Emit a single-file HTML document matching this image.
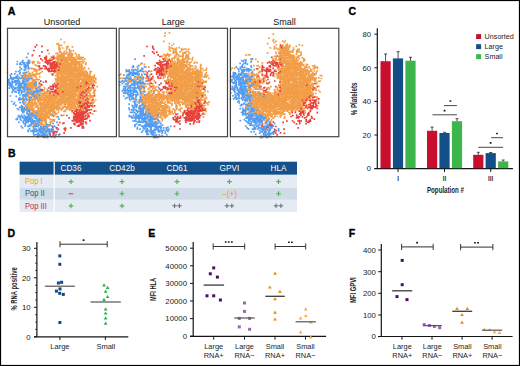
<!DOCTYPE html><html><head><meta charset="utf-8"><style>html,body{margin:0;padding:0;background:#fff;}svg{display:block;}text{font-family:"Liberation Sans",sans-serif;}</style></head><body>
<svg width="520" height="366" viewBox="0 0 520 366">
<rect x="0" y="0" width="520" height="366" fill="#fff"/>
<text x="7.8" y="15.0" font-size="10.6" font-weight="bold" fill="#000" stroke="#000" stroke-width="0.35">A</text>
<text x="62.0" y="24.8" font-size="9" text-anchor="middle" fill="#111">Unsorted</text>
<text x="173.3" y="24.8" font-size="9" text-anchor="middle" fill="#111">Large</text>
<text x="284.6" y="24.8" font-size="9" text-anchor="middle" fill="#111">Small</text>
<path d="M60.2 39.5h1.7M63.5 42.4h1.7M56.1 43.9h1.7M57.5 43.7h1.7M58.0 45.4h1.7M59.3 45.5h1.7M60.7 45.3h1.7M58.0 46.9h1.7M66.1 46.9h1.7M67.3 46.7h1.7M71.6 46.8h1.7M58.8 48.0h1.7M61.8 48.0h1.7M66.1 47.7h1.7M58.0 49.3h1.7M59.3 49.0h1.7M65.9 49.0h1.7M68.4 49.4h1.7M58.9 50.8h1.7M64.9 51.0h1.7M69.0 50.6h1.7M70.1 50.9h1.7M72.5 50.9h1.7M58.9 52.1h1.7M60.1 52.4h1.7M63.3 52.1h1.7M65.9 52.4h1.7M68.5 52.0h1.7M48.2 53.5h1.7M55.2 53.7h1.7M56.6 53.2h1.7M60.6 53.3h1.7M61.8 53.6h1.7M63.3 53.1h1.7M64.9 53.8h1.7M66.1 53.4h1.7M68.4 53.1h1.7M70.1 53.2h1.7M71.7 53.8h1.7M74.5 53.4h1.7M57.4 54.7h1.7M59.0 54.9h1.7M60.8 54.9h1.7M61.9 54.8h1.7M63.3 55.0h1.7M67.5 54.6h1.7M68.5 54.7h1.7M70.4 54.8h1.7M71.5 55.2h1.7M75.8 54.5h1.7M78.1 54.8h1.7M31.3 55.9h1.7M52.2 56.0h1.7M53.3 56.1h1.7M56.4 56.1h1.7M58.1 56.5h1.7M58.8 56.5h1.7M60.4 56.0h1.7M61.9 56.3h1.7M63.0 56.5h1.7M67.2 56.1h1.7M68.7 55.9h1.7M70.1 56.3h1.7M71.3 56.1h1.7M75.8 56.3h1.7M78.2 56.4h1.7M53.5 57.5h1.7M55.0 57.8h1.7M56.4 57.3h1.7M57.6 57.2h1.7M59.1 57.9h1.7M60.2 57.6h1.7M61.5 57.7h1.7M63.3 57.3h1.7M64.4 57.4h1.7M66.1 57.5h1.7M67.5 57.6h1.7M68.9 57.9h1.7M70.2 57.8h1.7M71.7 57.9h1.7M73.0 57.8h1.7M74.0 57.7h1.7M76.8 57.5h1.7M78.0 57.4h1.7M79.9 57.3h1.7M81.1 57.8h1.7M82.2 57.4h1.7M49.3 58.8h1.7M53.8 58.6h1.7M56.0 58.8h1.7M57.7 58.9h1.7M59.3 58.8h1.7M60.8 58.7h1.7M61.9 59.0h1.7M63.1 58.8h1.7M64.6 59.1h1.7M65.7 58.9h1.7M67.6 59.0h1.7M68.9 58.8h1.7M69.7 59.3h1.7M71.5 58.8h1.7M72.7 58.8h1.7M74.0 58.7h1.7M75.9 59.0h1.7M77.2 58.7h1.7M78.5 59.1h1.7M79.9 59.0h1.7M80.8 58.7h1.7M83.8 58.9h1.7M28.8 60.5h1.7M56.6 60.2h1.7M57.8 60.5h1.7M58.8 60.0h1.7M62.0 60.2h1.7M62.9 60.1h1.7M64.5 60.4h1.7M65.8 60.4h1.7M67.0 60.4h1.7M68.8 60.3h1.7M70.2 60.5h1.7M71.8 60.5h1.7M72.8 60.4h1.7M74.2 60.3h1.7M75.3 60.5h1.7M82.2 60.0h1.7M31.4 61.6h1.7M33.2 61.6h1.7M37.4 61.6h1.7M54.8 61.8h1.7M56.2 61.8h1.7M57.8 62.0h1.7M58.9 62.0h1.7M60.6 61.4h1.7M63.2 61.4h1.7M64.4 61.9h1.7M66.1 61.5h1.7M67.1 62.0h1.7M70.3 61.6h1.7M71.2 61.7h1.7M72.9 61.9h1.7M74.5 61.8h1.7M75.4 61.9h1.7M76.8 61.6h1.7M78.5 61.5h1.7M79.8 61.7h1.7M81.2 61.7h1.7M83.5 61.7h1.7M31.8 63.4h1.7M33.1 62.7h1.7M36.9 63.0h1.7M38.8 63.2h1.7M54.9 63.4h1.7M57.6 62.9h1.7M58.9 63.0h1.7M60.3 63.0h1.7M61.7 63.2h1.7M62.9 62.9h1.7M64.9 62.9h1.7M65.7 63.0h1.7M67.1 63.1h1.7M68.7 63.1h1.7M69.9 63.2h1.7M71.3 62.9h1.7M72.8 63.3h1.7M74.1 62.9h1.7M75.7 63.1h1.7M76.8 63.2h1.7M78.5 63.2h1.7M82.2 63.0h1.7M85.1 63.1h1.7M34.4 64.8h1.7M57.9 64.6h1.7M60.5 64.3h1.7M61.9 64.3h1.7M63.0 64.4h1.7M64.3 64.2h1.7M65.9 64.6h1.7M67.6 64.7h1.7M68.7 64.6h1.7M69.9 64.6h1.7M71.6 64.7h1.7M72.8 64.6h1.7M74.4 64.2h1.7M75.4 64.2h1.7M77.3 64.8h1.7M78.3 64.5h1.7M80.1 64.1h1.7M80.8 64.3h1.7M84.9 64.5h1.7M36.0 65.7h1.7M37.1 66.2h1.7M57.5 66.1h1.7M58.9 65.7h1.7M60.7 65.7h1.7M61.7 66.1h1.7M63.1 66.0h1.7M64.6 65.9h1.7M65.7 65.7h1.7M67.3 65.7h1.7M69.0 65.6h1.7M70.3 65.5h1.7M72.6 65.7h1.7M74.1 65.9h1.7M75.4 65.7h1.7M78.3 65.9h1.7M80.0 66.1h1.7M81.1 65.5h1.7M56.7 67.0h1.7M58.7 67.1h1.7M60.3 67.3h1.7M61.6 67.3h1.7M62.9 67.5h1.7M64.4 67.5h1.7M65.9 67.1h1.7M67.4 67.1h1.7M68.7 67.2h1.7M70.2 67.0h1.7M71.7 67.0h1.7M72.8 67.5h1.7M74.3 67.2h1.7M75.4 67.1h1.7M77.1 67.3h1.7M78.1 67.5h1.7M79.6 67.4h1.7M81.1 66.9h1.7M83.7 67.3h1.7M30.4 68.3h1.7M31.7 68.7h1.7M33.1 68.8h1.7M34.0 68.8h1.7M38.5 68.6h1.7M54.9 68.3h1.7M56.6 68.4h1.7M58.0 68.9h1.7M59.4 68.5h1.7M60.3 68.5h1.7M61.7 68.5h1.7M63.4 68.3h1.7M64.5 68.4h1.7M65.8 68.6h1.7M67.3 68.2h1.7M68.4 68.6h1.7M70.2 68.5h1.7M71.5 68.4h1.7M73.0 68.2h1.7M74.1 68.8h1.7M75.5 68.4h1.7M77.3 68.8h1.7M78.6 68.8h1.7M79.9 68.2h1.7M81.4 68.7h1.7M82.6 68.6h1.7M83.8 68.7h1.7M87.9 68.7h1.7M34.1 70.1h1.7M35.5 69.8h1.7M37.2 70.0h1.7M38.7 69.8h1.7M55.2 69.6h1.7M56.4 69.8h1.7M58.9 69.7h1.7M60.2 70.1h1.7M62.1 70.1h1.7M63.4 69.8h1.7M64.4 69.8h1.7M65.8 69.8h1.7M67.3 69.8h1.7M68.7 70.2h1.7M70.3 70.0h1.7M71.5 70.0h1.7M72.7 69.6h1.7M74.4 69.8h1.7M75.7 70.2h1.7M76.9 69.8h1.7M78.6 70.0h1.7M79.4 70.0h1.7M81.0 70.2h1.7M82.2 69.6h1.7M27.5 71.4h1.7M33.3 71.0h1.7M34.7 71.0h1.7M35.8 71.3h1.7M41.4 71.6h1.7M56.5 71.4h1.7M57.4 71.5h1.7M59.0 71.7h1.7M60.8 71.7h1.7M62.0 71.5h1.7M63.1 71.2h1.7M64.6 71.5h1.7M65.9 71.0h1.7M67.1 71.6h1.7M68.6 71.6h1.7M70.4 71.1h1.7M71.7 71.5h1.7M72.7 71.0h1.7M73.9 71.1h1.7M75.5 71.1h1.7M77.0 71.4h1.7M78.7 71.0h1.7M79.6 71.5h1.7M80.8 71.2h1.7M82.7 71.6h1.7M84.1 71.3h1.7M85.5 71.0h1.7M89.1 71.5h1.7M90.5 71.5h1.7M6.5 72.5h1.7M23.7 72.5h1.7M28.8 73.0h1.7M31.6 72.5h1.7M35.7 72.7h1.7M39.5 72.9h1.7M53.4 72.9h1.7M54.8 72.5h1.7M56.7 73.0h1.7M57.9 72.9h1.7M59.3 72.5h1.7M60.1 72.7h1.7M61.9 73.0h1.7M62.9 72.8h1.7M64.8 72.6h1.7M66.1 73.0h1.7M67.5 72.4h1.7M68.9 72.9h1.7M70.2 72.7h1.7M71.1 72.5h1.7M72.9 72.9h1.7M74.1 72.5h1.7M75.7 73.0h1.7M77.3 72.5h1.7M78.7 72.9h1.7M79.7 72.7h1.7M81.1 72.7h1.7M82.3 72.7h1.7M83.5 72.4h1.7M85.5 72.8h1.7M86.4 72.7h1.7M89.5 72.9h1.7M23.2 74.2h1.7M24.7 74.1h1.7M27.6 74.1h1.7M28.6 73.8h1.7M29.9 74.0h1.7M31.9 74.3h1.7M32.8 74.4h1.7M34.1 74.3h1.7M35.6 74.3h1.7M37.2 74.0h1.7M38.4 73.9h1.7M52.4 73.9h1.7M56.3 74.2h1.7M57.7 74.4h1.7M58.7 74.0h1.7M60.5 73.9h1.7M61.6 74.4h1.7M63.4 74.3h1.7M64.7 74.2h1.7M65.8 74.2h1.7M67.7 73.8h1.7M68.9 74.4h1.7M70.1 74.1h1.7M71.7 74.2h1.7M72.8 73.8h1.7M74.2 74.4h1.7M75.5 74.2h1.7M77.1 74.2h1.7M78.2 74.0h1.7M79.6 74.2h1.7M81.3 74.4h1.7M82.2 73.8h1.7M83.7 74.1h1.7M85.4 74.3h1.7M86.7 73.9h1.7M89.2 74.0h1.7M20.4 75.6h1.7M23.1 75.1h1.7M25.8 75.6h1.7M27.6 75.6h1.7M28.7 75.5h1.7M30.0 75.3h1.7M31.5 75.5h1.7M33.2 75.4h1.7M34.6 75.6h1.7M52.1 75.1h1.7M54.7 75.7h1.7M56.5 75.6h1.7M57.7 75.7h1.7M60.2 75.3h1.7M61.8 75.3h1.7M63.6 75.1h1.7M65.9 75.5h1.7M67.6 75.4h1.7M68.8 75.2h1.7M70.2 75.2h1.7M71.3 75.5h1.7M72.6 75.5h1.7M74.4 75.3h1.7M75.3 75.5h1.7M77.1 75.6h1.7M78.5 75.2h1.7M79.5 75.4h1.7M80.9 75.7h1.7M82.5 75.7h1.7M83.8 75.7h1.7M85.0 75.4h1.7M86.4 75.7h1.7M87.7 75.3h1.7M89.5 75.8h1.7M93.5 75.1h1.7M23.6 76.7h1.7M25.0 76.9h1.7M27.3 76.6h1.7M28.9 76.6h1.7M30.1 76.6h1.7M32.9 76.5h1.7M35.4 77.1h1.7M38.8 76.6h1.7M56.6 77.0h1.7M57.9 77.1h1.7M59.4 77.1h1.7M60.8 77.0h1.7M61.6 76.7h1.7M63.4 76.5h1.7M64.5 76.9h1.7M66.2 77.2h1.7M67.5 76.6h1.7M68.8 76.7h1.7M69.7 76.7h1.7M71.6 76.5h1.7M72.8 77.0h1.7M74.2 76.7h1.7M75.8 76.8h1.7M77.2 77.1h1.7M78.1 76.5h1.7M79.9 76.9h1.7M80.8 76.5h1.7M82.7 76.9h1.7M83.7 76.5h1.7M85.0 76.5h1.7M86.6 76.6h1.7M87.9 76.5h1.7M89.6 76.9h1.7M90.8 77.1h1.7M92.2 76.8h1.7M93.3 76.9h1.7M18.1 78.2h1.7M22.3 78.1h1.7M25.0 78.4h1.7M26.2 78.2h1.7M31.3 78.2h1.7M35.6 78.0h1.7M54.7 78.5h1.7M56.5 78.3h1.7M57.8 78.5h1.7M59.2 78.1h1.7M60.6 78.1h1.7M62.0 78.3h1.7M63.3 78.0h1.7M64.8 78.5h1.7M65.7 77.9h1.7M67.0 78.0h1.7M69.0 78.1h1.7M69.9 78.1h1.7M71.1 78.3h1.7M72.6 77.9h1.7M74.3 77.8h1.7M75.5 77.9h1.7M77.3 78.1h1.7M78.4 77.9h1.7M79.8 77.9h1.7M80.8 78.5h1.7M82.8 78.4h1.7M84.0 78.3h1.7M85.2 78.2h1.7M86.6 78.4h1.7M87.7 77.9h1.7M89.2 78.1h1.7M90.6 78.4h1.7M92.3 77.8h1.7M93.7 77.9h1.7M94.9 78.3h1.7M21.9 79.4h1.7M24.6 79.5h1.7M27.4 79.5h1.7M28.8 79.9h1.7M31.5 79.4h1.7M33.2 79.5h1.7M34.0 79.7h1.7M35.9 79.3h1.7M37.3 79.7h1.7M38.4 79.5h1.7M54.9 79.8h1.7M56.6 79.8h1.7M57.6 79.4h1.7M59.2 79.8h1.7M60.6 79.5h1.7M61.5 79.5h1.7M63.3 79.4h1.7M64.5 79.6h1.7M65.6 79.4h1.7M67.0 79.5h1.7M68.6 79.5h1.7M69.8 79.8h1.7M71.4 79.7h1.7M73.1 79.8h1.7M74.2 79.6h1.7M75.8 79.8h1.7M77.0 79.6h1.7M78.3 79.5h1.7M79.8 79.3h1.7M81.3 79.4h1.7M82.3 79.7h1.7M83.7 79.3h1.7M84.9 79.9h1.7M86.6 79.4h1.7M88.3 79.3h1.7M89.5 79.3h1.7M90.7 79.5h1.7M92.4 79.8h1.7M94.8 79.7h1.7M31.6 81.1h1.7M32.6 80.9h1.7M34.1 80.9h1.7M56.4 81.0h1.7M57.6 80.6h1.7M59.4 81.0h1.7M60.8 80.9h1.7M61.5 80.8h1.7M63.1 80.8h1.7M64.5 80.9h1.7M65.9 81.1h1.7M67.1 81.0h1.7M68.6 81.2h1.7M70.1 80.8h1.7M71.4 80.8h1.7M73.0 81.0h1.7M73.9 80.7h1.7M75.9 81.1h1.7M77.0 81.0h1.7M78.3 80.8h1.7M81.2 80.8h1.7M82.5 80.8h1.7M84.2 81.2h1.7M85.4 80.7h1.7M86.3 81.3h1.7M88.0 80.6h1.7M89.6 81.2h1.7M90.4 81.1h1.7M92.4 81.1h1.7M93.6 80.8h1.7M28.7 82.6h1.7M29.9 82.6h1.7M31.5 82.1h1.7M33.1 82.0h1.7M34.3 82.5h1.7M38.5 82.5h1.7M55.3 82.1h1.7M56.0 82.5h1.7M57.4 82.4h1.7M59.2 82.4h1.7M60.2 82.2h1.7M61.5 82.6h1.7M63.2 82.6h1.7M64.8 82.1h1.7M66.1 82.3h1.7M69.0 82.6h1.7M70.4 82.2h1.7M71.6 82.6h1.7M72.9 82.0h1.7M74.2 82.5h1.7M75.6 82.3h1.7M77.0 82.2h1.7M78.0 82.0h1.7M79.5 82.5h1.7M81.1 82.1h1.7M82.5 82.4h1.7M83.6 82.3h1.7M86.5 82.6h1.7M87.6 82.0h1.7M89.1 82.0h1.7M90.8 82.6h1.7M93.3 82.5h1.7M95.0 82.6h1.7M27.2 83.4h1.7M28.9 83.8h1.7M30.3 83.5h1.7M31.4 83.9h1.7M34.2 83.6h1.7M39.9 83.8h1.7M56.3 83.6h1.7M59.4 83.4h1.7M60.8 84.0h1.7M61.8 83.5h1.7M63.5 83.4h1.7M64.6 83.9h1.7M66.3 83.8h1.7M67.6 83.4h1.7M68.6 83.4h1.7M70.0 83.8h1.7M71.4 83.9h1.7M73.2 83.7h1.7M74.4 83.6h1.7M75.8 83.5h1.7M76.9 83.7h1.7M78.4 84.0h1.7M80.1 83.3h1.7M80.9 83.4h1.7M82.7 83.4h1.7M83.5 83.6h1.7M87.7 84.0h1.7M89.3 83.9h1.7M90.4 83.5h1.7M92.2 83.5h1.7M26.0 85.0h1.7M27.4 85.1h1.7M28.7 85.0h1.7M30.2 85.2h1.7M31.6 84.8h1.7M32.8 85.4h1.7M35.5 84.7h1.7M40.0 85.2h1.7M59.2 85.1h1.7M60.6 84.9h1.7M61.9 85.0h1.7M63.4 85.3h1.7M64.6 85.0h1.7M66.1 85.3h1.7M67.3 85.0h1.7M68.9 85.0h1.7M70.0 84.7h1.7M71.8 84.8h1.7M73.0 84.9h1.7M73.9 84.9h1.7M75.8 85.3h1.7M76.7 85.0h1.7M78.2 85.2h1.7M79.4 85.1h1.7M81.0 85.4h1.7M82.7 84.8h1.7M83.9 85.4h1.7M85.5 85.0h1.7M86.7 85.3h1.7M87.9 85.0h1.7M89.1 84.9h1.7M90.7 85.2h1.7M22.1 86.3h1.7M25.0 86.3h1.7M26.2 86.7h1.7M27.6 86.4h1.7M28.6 86.1h1.7M30.0 86.3h1.7M31.6 86.6h1.7M33.1 86.1h1.7M34.2 86.6h1.7M35.6 86.1h1.7M39.5 86.7h1.7M57.4 86.4h1.7M59.2 86.3h1.7M60.5 86.4h1.7M61.7 86.6h1.7M63.6 86.5h1.7M64.9 86.4h1.7M65.6 86.4h1.7M67.5 86.7h1.7M68.4 86.5h1.7M70.1 86.4h1.7M71.3 86.6h1.7M72.9 86.7h1.7M74.5 86.2h1.7M75.4 86.3h1.7M76.6 86.5h1.7M78.7 86.4h1.7M81.0 86.1h1.7M82.5 86.2h1.7M84.0 86.5h1.7M85.1 86.6h1.7M86.5 86.7h1.7M87.7 86.7h1.7M96.4 86.6h1.7M24.6 87.8h1.7M27.1 87.9h1.7M28.5 87.9h1.7M30.0 87.6h1.7M31.6 87.9h1.7M32.8 88.0h1.7M34.5 88.0h1.7M37.2 87.6h1.7M38.6 87.7h1.7M43.6 87.5h1.7M57.9 87.8h1.7M59.1 87.6h1.7M60.4 87.7h1.7M62.0 87.5h1.7M63.0 87.9h1.7M64.5 87.6h1.7M66.0 88.0h1.7M67.2 88.1h1.7M68.7 87.5h1.7M69.8 87.8h1.7M71.5 87.7h1.7M73.1 87.8h1.7M74.3 87.5h1.7M75.5 87.5h1.7M78.1 87.6h1.7M79.4 87.9h1.7M81.3 87.6h1.7M82.5 87.9h1.7M83.7 87.5h1.7M84.9 88.1h1.7M89.2 87.5h1.7M90.7 87.8h1.7M22.0 89.1h1.7M24.8 89.2h1.7M30.4 89.5h1.7M31.4 89.4h1.7M34.6 89.3h1.7M43.7 89.0h1.7M46.4 89.3h1.7M55.1 89.5h1.7M56.3 89.4h1.7M57.4 89.0h1.7M58.8 88.9h1.7M60.3 89.0h1.7M62.2 89.3h1.7M63.3 89.1h1.7M64.7 89.5h1.7M65.9 88.9h1.7M67.5 89.1h1.7M68.5 89.0h1.7M70.3 89.3h1.7M71.2 89.2h1.7M72.8 89.2h1.7M74.1 89.1h1.7M75.5 89.0h1.7M77.2 89.1h1.7M78.4 89.0h1.7M79.4 89.2h1.7M81.0 89.0h1.7M82.3 89.0h1.7M84.0 89.5h1.7M85.1 89.2h1.7M87.9 88.8h1.7M89.6 89.0h1.7M91.0 88.9h1.7M93.8 89.3h1.7M24.4 90.5h1.7M27.7 90.4h1.7M28.9 90.3h1.7M30.4 90.5h1.7M34.6 90.8h1.7M42.8 90.3h1.7M47.9 90.6h1.7M56.2 90.3h1.7M58.0 90.7h1.7M58.8 90.7h1.7M60.5 90.5h1.7M61.6 90.8h1.7M63.2 90.4h1.7M64.6 90.7h1.7M65.9 90.6h1.7M67.4 90.6h1.7M68.7 90.8h1.7M70.2 90.4h1.7M71.5 90.8h1.7M73.1 90.8h1.7M74.5 90.9h1.7M75.5 90.3h1.7M77.1 90.7h1.7M78.0 90.4h1.7M80.0 90.5h1.7M81.0 90.8h1.7M82.5 90.7h1.7M84.2 90.5h1.7M86.5 90.4h1.7M88.1 90.3h1.7M89.7 90.8h1.7M93.1 90.6h1.7M94.6 90.5h1.7M26.2 92.2h1.7M28.7 91.7h1.7M31.5 92.1h1.7M38.2 92.0h1.7M40.1 91.7h1.7M44.0 92.2h1.7M45.2 92.2h1.7M46.4 92.2h1.7M48.4 91.8h1.7M49.2 92.2h1.7M56.3 91.9h1.7M57.8 91.9h1.7M59.2 91.7h1.7M60.8 91.9h1.7M63.5 91.9h1.7M64.7 91.7h1.7M66.1 92.1h1.7M67.2 92.3h1.7M69.0 92.1h1.7M69.8 91.8h1.7M71.4 91.9h1.7M72.6 91.7h1.7M74.1 91.9h1.7M75.7 91.6h1.7M77.0 91.9h1.7M78.5 92.0h1.7M79.9 91.7h1.7M80.9 92.2h1.7M83.9 92.0h1.7M85.1 92.1h1.7M86.9 91.7h1.7M88.2 92.2h1.7M93.4 92.2h1.7M24.9 93.4h1.7M27.3 93.2h1.7M30.2 93.4h1.7M34.1 93.4h1.7M35.7 93.4h1.7M37.2 93.5h1.7M38.2 93.0h1.7M39.7 93.6h1.7M41.2 93.6h1.7M42.7 93.2h1.7M44.3 93.3h1.7M45.6 93.0h1.7M46.7 93.2h1.7M52.0 93.2h1.7M53.5 93.3h1.7M55.0 93.4h1.7M57.6 93.3h1.7M59.3 93.2h1.7M60.2 93.3h1.7M62.0 93.6h1.7M63.2 93.4h1.7M64.6 93.6h1.7M66.1 93.5h1.7M67.5 93.3h1.7M68.4 93.6h1.7M69.9 93.5h1.7M71.3 93.3h1.7M72.8 93.5h1.7M74.0 93.1h1.7M75.6 93.5h1.7M78.4 93.0h1.7M79.8 93.4h1.7M82.6 93.5h1.7M85.4 93.2h1.7M86.7 93.4h1.7M88.3 93.0h1.7M89.2 93.5h1.7M92.4 93.0h1.7M93.7 93.3h1.7M27.3 94.6h1.7M28.7 94.4h1.7M30.5 94.6h1.7M34.2 94.8h1.7M35.6 94.7h1.7M36.9 94.7h1.7M41.5 94.7h1.7M42.7 94.7h1.7M43.9 94.3h1.7M45.5 95.0h1.7M46.6 95.0h1.7M48.3 94.4h1.7M49.6 94.4h1.7M51.1 94.7h1.7M51.9 95.0h1.7M55.1 94.7h1.7M56.5 94.4h1.7M59.3 94.6h1.7M60.2 94.7h1.7M62.1 94.6h1.7M63.5 95.0h1.7M64.7 94.7h1.7M65.7 94.9h1.7M67.5 94.6h1.7M68.8 94.6h1.7M70.0 94.4h1.7M71.1 94.6h1.7M72.5 95.0h1.7M74.1 94.5h1.7M75.2 94.4h1.7M77.3 94.5h1.7M78.3 94.5h1.7M81.3 94.7h1.7M82.6 94.6h1.7M86.3 94.8h1.7M89.5 94.7h1.7M93.6 94.5h1.7M22.2 95.7h1.7M24.7 96.1h1.7M27.2 95.8h1.7M31.5 96.3h1.7M35.8 95.9h1.7M37.2 96.0h1.7M38.3 96.3h1.7M39.6 95.9h1.7M41.0 96.2h1.7M42.3 95.9h1.7M44.3 96.2h1.7M45.2 95.8h1.7M46.9 96.1h1.7M48.4 96.2h1.7M49.8 96.0h1.7M51.2 95.9h1.7M52.2 96.3h1.7M53.7 96.1h1.7M55.2 96.4h1.7M56.0 95.9h1.7M57.6 96.0h1.7M58.8 96.4h1.7M60.4 96.0h1.7M62.0 96.4h1.7M63.4 96.1h1.7M64.5 95.8h1.7M66.1 95.7h1.7M67.4 95.8h1.7M68.8 96.2h1.7M69.8 95.7h1.7M71.2 95.9h1.7M72.7 96.0h1.7M74.2 95.7h1.7M75.6 95.9h1.7M77.0 96.2h1.7M78.7 96.4h1.7M79.9 95.8h1.7M82.3 96.4h1.7M85.3 96.2h1.7M86.4 95.9h1.7M87.9 95.8h1.7M89.2 96.4h1.7M90.4 95.9h1.7M91.8 95.8h1.7M27.6 97.1h1.7M33.2 97.1h1.7M34.1 97.4h1.7M37.1 97.4h1.7M38.4 97.2h1.7M39.8 97.8h1.7M41.0 97.3h1.7M42.9 97.8h1.7M43.8 97.6h1.7M45.4 97.5h1.7M46.5 97.5h1.7M47.9 97.2h1.7M49.3 97.4h1.7M50.6 97.4h1.7M52.3 97.5h1.7M53.7 97.1h1.7M54.8 97.1h1.7M56.2 97.2h1.7M58.9 97.7h1.7M60.2 97.4h1.7M62.0 97.2h1.7M63.5 97.2h1.7M64.3 97.5h1.7M65.8 97.8h1.7M67.2 97.3h1.7M68.8 97.3h1.7M70.3 97.3h1.7M71.8 97.5h1.7M73.0 97.1h1.7M74.2 97.2h1.7M77.1 97.8h1.7M78.0 97.2h1.7M81.4 97.3h1.7M82.5 97.5h1.7M83.6 97.7h1.7M85.3 97.8h1.7M86.5 97.1h1.7M89.4 97.8h1.7M90.4 97.2h1.7M91.9 97.7h1.7M21.7 98.9h1.7M24.8 99.1h1.7M27.7 99.1h1.7M30.5 98.6h1.7M31.5 99.0h1.7M33.1 99.2h1.7M34.4 99.0h1.7M35.5 98.9h1.7M36.8 99.0h1.7M38.7 98.7h1.7M39.6 99.1h1.7M40.9 98.9h1.7M42.8 99.0h1.7M43.9 98.8h1.7M45.1 98.7h1.7M46.6 98.5h1.7M48.0 98.8h1.7M49.1 99.0h1.7M50.8 98.8h1.7M52.4 98.5h1.7M53.6 98.8h1.7M54.7 98.5h1.7M56.4 98.6h1.7M57.6 99.0h1.7M58.8 98.6h1.7M60.6 98.8h1.7M61.8 98.7h1.7M63.1 98.5h1.7M64.9 99.1h1.7M65.8 99.1h1.7M67.0 99.0h1.7M68.5 99.0h1.7M70.0 99.0h1.7M71.8 98.7h1.7M73.1 99.1h1.7M74.1 98.9h1.7M75.6 98.9h1.7M77.1 99.0h1.7M78.6 99.1h1.7M79.5 98.6h1.7M81.4 98.7h1.7M85.5 98.7h1.7M88.3 98.9h1.7M92.1 99.1h1.7M22.2 100.2h1.7M27.2 100.0h1.7M29.9 100.2h1.7M31.9 100.0h1.7M33.1 100.1h1.7M34.6 99.9h1.7M37.0 100.3h1.7M38.6 100.1h1.7M39.9 100.3h1.7M41.6 100.1h1.7M42.5 100.0h1.7M44.3 100.2h1.7M45.4 100.1h1.7M47.0 100.4h1.7M48.2 100.5h1.7M49.3 99.8h1.7M51.0 100.3h1.7M52.2 100.4h1.7M53.7 99.9h1.7M54.7 100.4h1.7M56.7 100.3h1.7M57.7 100.3h1.7M59.1 100.1h1.7M60.7 100.4h1.7M61.5 99.9h1.7M62.9 100.2h1.7M64.8 100.1h1.7M65.7 100.2h1.7M67.2 100.3h1.7M68.5 100.5h1.7M70.4 100.3h1.7M71.7 99.8h1.7M72.6 100.2h1.7M74.1 99.9h1.7M75.4 100.3h1.7M76.9 99.9h1.7M78.0 100.5h1.7M79.9 100.0h1.7M81.3 100.5h1.7M82.8 100.2h1.7M84.2 99.9h1.7M86.5 99.9h1.7M87.8 99.9h1.7M90.4 100.2h1.7M94.8 100.0h1.7M24.9 101.6h1.7M27.7 101.9h1.7M28.8 101.7h1.7M30.4 101.6h1.7M31.4 101.4h1.7M34.1 101.8h1.7M37.2 101.7h1.7M38.5 101.2h1.7M39.6 101.5h1.7M42.8 101.3h1.7M43.8 101.9h1.7M45.6 101.3h1.7M46.5 101.5h1.7M48.0 101.5h1.7M49.6 101.5h1.7M50.9 101.7h1.7M52.3 101.6h1.7M53.2 101.6h1.7M55.3 101.7h1.7M56.3 101.9h1.7M57.4 101.2h1.7M59.2 101.4h1.7M60.3 101.7h1.7M61.9 101.9h1.7M63.4 101.2h1.7M64.6 101.8h1.7M65.7 101.7h1.7M67.5 101.9h1.7M68.6 101.7h1.7M70.2 101.5h1.7M71.6 101.9h1.7M72.6 101.6h1.7M74.5 101.4h1.7M75.9 101.4h1.7M76.9 101.7h1.7M81.3 101.3h1.7M82.2 101.6h1.7M83.9 101.5h1.7M85.5 101.7h1.7M87.8 101.3h1.7M91.0 101.4h1.7M93.4 101.7h1.7M23.2 102.8h1.7M24.6 102.6h1.7M27.2 103.2h1.7M28.7 103.2h1.7M30.3 102.6h1.7M31.4 103.2h1.7M32.8 103.0h1.7M34.2 102.6h1.7M35.7 102.9h1.7M38.4 103.1h1.7M39.9 102.8h1.7M41.4 102.8h1.7M42.6 103.1h1.7M43.8 102.9h1.7M45.6 102.6h1.7M46.8 103.1h1.7M48.2 102.7h1.7M49.1 102.9h1.7M51.0 103.0h1.7M52.6 103.0h1.7M53.7 103.2h1.7M54.9 103.0h1.7M56.1 103.3h1.7M57.8 102.8h1.7M59.3 102.7h1.7M60.7 103.1h1.7M61.5 103.1h1.7M63.2 102.7h1.7M64.3 103.0h1.7M66.2 102.8h1.7M67.5 102.7h1.7M68.4 103.2h1.7M69.7 102.8h1.7M71.5 102.6h1.7M72.8 103.1h1.7M74.4 102.7h1.7M75.9 103.3h1.7M76.8 102.8h1.7M80.8 102.8h1.7M82.3 103.1h1.7M86.7 103.0h1.7M90.7 102.9h1.7M92.4 102.9h1.7M25.8 104.4h1.7M27.3 104.2h1.7M28.8 104.0h1.7M29.9 104.6h1.7M31.8 104.2h1.7M32.7 104.6h1.7M34.4 104.0h1.7M35.8 104.2h1.7M38.7 104.6h1.7M39.6 104.1h1.7M41.2 104.3h1.7M42.5 104.4h1.7M43.9 104.3h1.7M45.6 104.1h1.7M46.7 104.2h1.7M48.3 104.2h1.7M49.2 104.4h1.7M50.7 104.4h1.7M52.4 104.5h1.7M53.4 104.4h1.7M54.9 104.0h1.7M56.4 104.2h1.7M57.4 104.2h1.7M58.9 104.6h1.7M60.4 104.4h1.7M63.3 104.6h1.7M64.3 104.4h1.7M66.3 104.1h1.7M67.3 104.6h1.7M68.7 104.7h1.7M70.0 104.3h1.7M71.6 104.1h1.7M72.8 104.2h1.7M73.9 104.1h1.7M75.8 104.3h1.7M76.7 104.7h1.7M78.2 104.2h1.7M79.8 104.3h1.7M80.9 104.5h1.7M85.3 104.0h1.7M89.6 104.7h1.7M91.7 104.0h1.7M27.2 105.6h1.7M29.2 105.6h1.7M30.1 105.8h1.7M31.5 105.6h1.7M32.9 105.7h1.7M35.5 105.7h1.7M36.9 105.7h1.7M39.6 105.8h1.7M41.0 105.5h1.7M42.4 105.4h1.7M43.9 106.0h1.7M45.2 105.5h1.7M46.7 105.9h1.7M48.4 105.6h1.7M49.3 105.5h1.7M50.8 105.3h1.7M52.0 105.5h1.7M53.5 105.6h1.7M54.9 106.0h1.7M56.4 105.8h1.7M57.7 105.4h1.7M60.8 105.5h1.7M64.3 105.7h1.7M67.3 105.8h1.7M68.9 105.8h1.7M70.2 105.9h1.7M71.5 105.3h1.7M72.7 105.8h1.7M74.4 105.9h1.7M77.0 105.4h1.7M79.5 105.6h1.7M83.6 105.7h1.7M85.0 105.5h1.7M91.9 106.0h1.7M23.7 106.8h1.7M27.3 106.8h1.7M29.2 107.3h1.7M30.3 106.8h1.7M31.5 106.9h1.7M34.5 107.0h1.7M35.5 106.8h1.7M37.0 107.0h1.7M40.1 107.4h1.7M41.4 107.3h1.7M42.7 106.9h1.7M43.8 107.1h1.7M45.4 106.8h1.7M46.8 107.3h1.7M47.8 107.4h1.7M49.4 107.2h1.7M50.9 106.9h1.7M52.2 106.8h1.7M53.2 107.2h1.7M54.9 107.4h1.7M56.5 106.9h1.7M57.8 107.0h1.7M58.9 107.1h1.7M61.9 107.1h1.7M63.5 107.2h1.7M64.6 107.1h1.7M65.9 106.9h1.7M67.1 107.1h1.7M68.9 107.4h1.7M70.2 107.4h1.7M71.1 106.8h1.7M72.6 106.7h1.7M74.1 107.1h1.7M75.7 107.4h1.7M77.1 107.3h1.7M78.0 106.9h1.7M82.3 107.3h1.7M91.9 107.2h1.7M26.0 108.7h1.7M27.2 108.1h1.7M28.6 108.3h1.7M30.4 108.7h1.7M31.8 108.7h1.7M33.0 108.7h1.7M37.1 108.4h1.7M38.3 108.2h1.7M40.0 108.2h1.7M41.0 108.3h1.7M42.3 108.4h1.7M43.7 108.7h1.7M45.1 108.5h1.7M46.7 108.3h1.7M47.8 108.7h1.7M49.8 108.3h1.7M51.1 108.6h1.7M52.4 108.4h1.7M53.5 108.6h1.7M55.2 108.2h1.7M56.2 108.3h1.7M58.1 108.4h1.7M59.2 108.1h1.7M60.4 108.6h1.7M62.1 108.6h1.7M65.9 108.6h1.7M67.0 108.8h1.7M68.9 108.8h1.7M70.3 108.4h1.7M71.3 108.1h1.7M73.1 108.7h1.7M74.5 108.1h1.7M75.8 108.6h1.7M78.6 108.5h1.7M79.6 108.7h1.7M81.2 108.5h1.7M82.5 108.2h1.7M86.6 108.1h1.7M28.9 109.7h1.7M30.5 109.8h1.7M31.4 109.6h1.7M32.7 109.7h1.7M37.1 109.7h1.7M38.5 110.0h1.7M39.9 109.9h1.7M41.2 109.8h1.7M42.3 109.7h1.7M44.2 109.9h1.7M45.0 109.9h1.7M46.9 109.5h1.7M47.9 109.9h1.7M49.4 109.8h1.7M51.0 109.8h1.7M52.0 109.6h1.7M53.6 109.7h1.7M56.1 109.7h1.7M57.7 109.8h1.7M60.5 110.1h1.7M64.4 110.0h1.7M66.2 109.5h1.7M69.0 110.1h1.7M70.1 109.5h1.7M72.5 109.8h1.7M74.4 109.8h1.7M78.1 109.9h1.7M81.3 109.7h1.7M82.6 109.6h1.7M89.1 109.8h1.7M26.2 111.2h1.7M31.7 111.1h1.7M33.0 111.3h1.7M34.1 111.2h1.7M35.6 111.1h1.7M37.0 111.0h1.7M38.6 110.9h1.7M39.5 111.4h1.7M40.9 110.9h1.7M42.7 111.2h1.7M43.9 111.2h1.7M45.2 111.2h1.7M46.6 111.5h1.7M47.7 111.4h1.7M49.4 111.5h1.7M51.0 111.2h1.7M52.4 111.0h1.7M53.8 111.5h1.7M63.1 111.5h1.7M64.4 111.3h1.7M76.6 111.3h1.7M79.8 111.3h1.7M83.9 111.5h1.7M95.1 111.0h1.7M23.2 112.5h1.7M30.5 112.7h1.7M31.7 112.2h1.7M32.7 112.6h1.7M34.1 112.3h1.7M37.4 112.3h1.7M38.3 112.3h1.7M40.2 112.4h1.7M41.4 112.3h1.7M43.8 112.2h1.7M45.5 112.4h1.7M46.8 112.7h1.7M48.4 112.8h1.7M49.3 112.4h1.7M52.0 112.7h1.7M53.8 112.5h1.7M54.7 112.7h1.7M57.6 112.2h1.7M71.4 112.2h1.7M88.2 112.8h1.7M28.9 114.2h1.7M32.8 114.2h1.7M34.1 113.9h1.7M36.0 113.8h1.7M37.3 114.1h1.7M38.2 114.3h1.7M39.6 114.1h1.7M41.3 114.2h1.7M42.9 113.7h1.7M43.8 114.2h1.7M45.5 113.7h1.7M46.8 113.7h1.7M48.4 114.0h1.7M49.7 113.9h1.7M50.7 113.9h1.7M53.6 113.7h1.7M54.9 113.9h1.7M56.0 113.8h1.7M91.8 113.9h1.7M32.8 115.3h1.7M35.9 115.5h1.7M37.0 115.2h1.7M38.2 115.5h1.7M39.7 115.2h1.7M41.4 115.6h1.7M42.8 115.0h1.7M44.1 115.6h1.7M45.4 115.3h1.7M46.6 115.4h1.7M49.4 115.2h1.7M50.6 115.4h1.7M53.8 115.6h1.7M61.6 115.7h1.7M62.9 115.1h1.7M31.5 116.5h1.7M37.1 116.8h1.7M38.6 116.8h1.7M39.9 116.6h1.7M41.2 116.9h1.7M42.3 117.0h1.7M43.7 116.6h1.7M45.2 116.6h1.7M47.1 116.9h1.7M48.3 116.4h1.7M52.5 116.5h1.7M56.2 116.9h1.7M37.2 118.2h1.7M38.2 118.2h1.7M39.8 118.2h1.7M41.0 118.4h1.7M42.4 118.4h1.7M44.0 118.2h1.7M45.5 117.8h1.7M46.5 117.9h1.7M48.0 118.2h1.7M35.6 119.3h1.7M39.6 119.3h1.7M41.2 119.5h1.7M42.5 119.3h1.7M43.7 119.4h1.7M45.2 119.8h1.7M49.4 119.3h1.7M50.5 119.8h1.7M52.1 119.8h1.7M53.6 119.5h1.7M36.8 120.7h1.7M41.3 121.2h1.7M42.4 120.6h1.7M43.8 121.0h1.7M45.0 121.0h1.7M52.2 120.8h1.7M53.4 121.1h1.7M34.3 121.9h1.7M40.0 122.4h1.7M41.1 122.4h1.7M44.2 122.3h1.7M45.2 122.5h1.7M49.5 121.9h1.7M50.6 122.4h1.7M32.9 123.3h1.7M37.4 123.3h1.7M38.5 123.4h1.7M40.1 123.9h1.7M41.1 123.3h1.7M49.5 123.7h1.7M32.7 124.9h1.7M34.3 125.1h1.7M37.2 124.7h1.7M39.6 124.9h1.7M41.2 124.7h1.7M42.3 124.7h1.7M43.7 125.0h1.7M45.5 125.0h1.7M48.0 125.2h1.7M31.3 126.5h1.7M41.1 126.5h1.7M46.8 126.3h1.7M48.3 126.0h1.7M38.5 128.0h1.7M43.7 127.5h1.7M45.6 127.7h1.7M45.4 128.9h1.7" stroke="#f29e48" stroke-width="1.7" fill="none"/>
<path d="M27.3 53.6h1.7M25.8 57.3h1.7M22.1 60.6h1.7M27.4 60.4h1.7M16.5 61.5h1.7M20.9 62.0h1.7M27.5 62.0h1.7M28.6 61.7h1.7M19.3 63.1h1.7M21.8 62.7h1.7M23.4 62.9h1.7M25.9 62.9h1.7M27.7 63.3h1.7M28.7 62.9h1.7M16.4 64.2h1.7M19.1 64.4h1.7M20.7 64.5h1.7M23.2 64.1h1.7M24.7 64.5h1.7M27.1 64.3h1.7M23.4 66.0h1.7M24.4 66.1h1.7M25.8 65.7h1.7M27.2 65.9h1.7M19.2 67.3h1.7M23.7 67.4h1.7M25.1 67.1h1.7M27.5 67.0h1.7M20.7 68.9h1.7M24.8 68.7h1.7M27.4 68.7h1.7M28.6 68.5h1.7M19.1 70.3h1.7M23.4 70.2h1.7M24.7 69.6h1.7M15.1 71.6h1.7M17.7 71.5h1.7M19.2 72.6h1.7M22.2 73.0h1.7M24.5 72.7h1.7M25.9 72.4h1.7M10.7 73.8h1.7M13.9 73.9h1.7M18.9 74.0h1.7M9.5 75.4h1.7M16.6 75.2h1.7M21.7 75.7h1.7M24.8 75.7h1.7M9.9 76.6h1.7M14.9 77.0h1.7M16.1 76.6h1.7M17.9 77.0h1.7M21.7 76.6h1.7M9.6 78.4h1.7M11.0 78.1h1.7M12.7 77.9h1.7M13.8 77.9h1.7M15.2 78.4h1.7M16.4 78.5h1.7M19.5 78.4h1.7M20.4 78.1h1.7M23.1 77.9h1.7M27.3 78.3h1.7M29.2 78.3h1.7M30.5 78.4h1.7M8.0 79.6h1.7M11.2 79.5h1.7M12.7 79.3h1.7M17.6 79.4h1.7M23.5 79.5h1.7M26.0 79.6h1.7M7.0 81.2h1.7M8.0 81.1h1.7M11.3 81.3h1.7M13.9 80.9h1.7M15.2 80.8h1.7M16.8 80.7h1.7M18.2 81.2h1.7M21.7 81.1h1.7M23.0 80.6h1.7M25.0 81.3h1.7M26.2 81.1h1.7M27.2 81.2h1.7M8.1 82.1h1.7M9.8 82.6h1.7M12.0 82.4h1.7M13.6 82.1h1.7M14.8 82.3h1.7M16.8 82.2h1.7M18.9 82.4h1.7M21.8 82.4h1.7M23.2 82.1h1.7M35.5 82.2h1.7M42.6 82.2h1.7M8.3 83.5h1.7M9.3 83.9h1.7M11.3 83.9h1.7M15.2 83.7h1.7M16.5 83.5h1.7M18.0 83.5h1.7M19.2 83.9h1.7M20.7 83.7h1.7M22.0 83.5h1.7M23.6 84.0h1.7M24.7 83.7h1.7M25.8 83.5h1.7M33.0 83.7h1.7M35.5 84.0h1.7M8.3 84.8h1.7M9.6 84.8h1.7M10.9 84.8h1.7M15.1 85.2h1.7M18.0 84.8h1.7M19.0 85.1h1.7M20.5 85.3h1.7M23.3 85.0h1.7M25.0 85.2h1.7M34.1 85.2h1.7M9.3 86.4h1.7M10.9 86.6h1.7M12.6 86.6h1.7M17.5 86.3h1.7M18.9 86.6h1.7M20.6 86.7h1.7M23.7 86.4h1.7M38.2 86.4h1.7M8.5 88.1h1.7M11.1 88.0h1.7M13.7 87.8h1.7M15.1 88.1h1.7M16.7 87.7h1.7M17.9 88.1h1.7M19.4 87.6h1.7M20.4 87.7h1.7M22.0 87.7h1.7M23.5 88.0h1.7M25.9 87.5h1.7M36.1 88.0h1.7M12.1 89.3h1.7M13.9 89.3h1.7M18.0 89.5h1.7M19.2 89.2h1.7M23.0 89.0h1.7M26.4 88.9h1.7M27.5 89.2h1.7M29.1 89.1h1.7M36.0 88.9h1.7M38.6 89.0h1.7M41.4 89.5h1.7M12.3 90.8h1.7M16.5 90.2h1.7M18.0 90.7h1.7M19.5 90.4h1.7M20.6 90.6h1.7M23.6 90.3h1.7M26.3 90.5h1.7M32.7 90.9h1.7M36.0 90.5h1.7M37.1 90.5h1.7M38.7 90.9h1.7M40.0 90.4h1.7M46.8 90.8h1.7M11.3 92.3h1.7M14.0 91.6h1.7M15.4 92.2h1.7M18.1 92.2h1.7M20.7 91.9h1.7M22.0 91.6h1.7M23.5 91.9h1.7M27.4 92.2h1.7M30.3 92.2h1.7M33.2 92.0h1.7M34.4 92.1h1.7M35.5 91.6h1.7M36.9 92.2h1.7M18.0 93.2h1.7M20.6 93.4h1.7M25.9 93.4h1.7M28.9 93.4h1.7M31.9 93.6h1.7M32.8 93.1h1.7M19.1 95.0h1.7M21.9 94.8h1.7M23.3 94.9h1.7M24.7 94.7h1.7M26.1 94.7h1.7M31.4 94.8h1.7M32.6 94.4h1.7M38.4 94.9h1.7M9.5 96.0h1.7M15.4 96.4h1.7M23.6 96.1h1.7M25.8 96.0h1.7M33.2 96.2h1.7M34.1 96.2h1.7M18.9 97.7h1.7M22.1 97.2h1.7M24.8 97.2h1.7M28.9 97.1h1.7M30.5 97.3h1.7M35.5 97.6h1.7M18.0 98.9h1.7M19.4 99.1h1.7M20.8 99.1h1.7M23.1 98.9h1.7M25.8 98.6h1.7M28.9 99.1h1.7M18.1 100.0h1.7M18.9 99.9h1.7M23.5 100.5h1.7M25.8 99.9h1.7M28.8 100.2h1.7M10.8 101.5h1.7M22.0 101.3h1.7M13.6 102.6h1.7M19.4 102.6h1.7M22.1 102.7h1.7M12.7 104.2h1.7M23.3 104.2h1.7M14.9 105.4h1.7M20.8 105.6h1.7M25.0 105.6h1.7M19.0 107.4h1.7M20.5 107.1h1.7M21.7 106.9h1.7M26.2 107.1h1.7M16.6 108.5h1.7M20.9 108.6h1.7M21.8 108.3h1.7M23.6 108.3h1.7M24.6 108.6h1.7M17.7 109.6h1.7M20.6 109.6h1.7M22.1 109.9h1.7M23.5 109.7h1.7M25.0 110.0h1.7M25.8 109.7h1.7M27.7 109.9h1.7M20.9 111.0h1.7M21.8 111.4h1.7M23.3 111.5h1.7M27.4 111.2h1.7M28.9 110.9h1.7M22.0 112.7h1.7M26.1 112.4h1.7M28.8 112.3h1.7M35.8 112.6h1.7M26.1 113.6h1.7M27.8 113.9h1.7M30.4 113.9h1.7M31.4 113.8h1.7M17.8 115.5h1.7M20.5 115.0h1.7M23.5 115.3h1.7M27.6 115.6h1.7M28.6 115.5h1.7M30.2 115.0h1.7M31.3 115.2h1.7M34.1 115.2h1.7M52.0 115.1h1.7M60.4 115.3h1.7M17.6 116.4h1.7M19.2 116.9h1.7M20.9 116.4h1.7M21.9 116.5h1.7M24.5 116.5h1.7M25.9 116.6h1.7M27.5 116.5h1.7M28.7 116.4h1.7M30.5 117.0h1.7M32.6 116.7h1.7M34.5 116.9h1.7M35.4 116.5h1.7M57.4 116.8h1.7M16.6 118.4h1.7M19.6 118.3h1.7M22.1 118.0h1.7M23.5 118.1h1.7M24.5 118.0h1.7M25.9 117.8h1.7M27.1 118.1h1.7M28.8 117.8h1.7M29.9 118.3h1.7M34.3 118.1h1.7M35.7 118.4h1.7M15.4 119.3h1.7M16.4 119.5h1.7M19.5 119.4h1.7M23.6 119.2h1.7M24.5 119.7h1.7M25.9 119.5h1.7M27.5 119.7h1.7M29.1 119.1h1.7M29.9 119.2h1.7M31.7 119.2h1.7M37.3 119.7h1.7M38.6 119.1h1.7M58.0 119.2h1.7M20.4 120.5h1.7M23.1 120.6h1.7M24.6 121.0h1.7M26.2 121.1h1.7M27.5 121.2h1.7M29.1 120.8h1.7M30.1 121.1h1.7M31.6 120.7h1.7M33.2 120.9h1.7M34.3 121.0h1.7M35.9 121.1h1.7M38.4 120.9h1.7M40.1 120.5h1.7M18.0 122.4h1.7M22.3 122.1h1.7M25.0 122.3h1.7M26.0 121.9h1.7M27.3 122.5h1.7M30.4 122.0h1.7M31.8 122.0h1.7M32.7 122.3h1.7M37.4 122.5h1.7M38.1 122.1h1.7M56.1 122.3h1.7M23.2 123.6h1.7M24.6 123.7h1.7M30.5 123.4h1.7M31.3 123.6h1.7M34.3 123.6h1.7M36.0 123.4h1.7M45.3 123.6h1.7M52.3 123.5h1.7M24.7 125.0h1.7M28.6 125.2h1.7M30.3 124.9h1.7M35.6 124.8h1.7M38.1 125.2h1.7M46.8 124.7h1.7M49.1 124.9h1.7M20.5 126.3h1.7M24.4 126.1h1.7M27.2 126.3h1.7M28.8 126.3h1.7M33.3 126.2h1.7M34.7 126.6h1.7M35.6 126.3h1.7M37.3 126.4h1.7M40.0 126.6h1.7M42.7 126.7h1.7M44.2 126.6h1.7M45.6 126.2h1.7M50.7 126.0h1.7M51.9 126.1h1.7M53.9 126.3h1.7M21.7 127.9h1.7M32.7 127.6h1.7M39.9 127.7h1.7M41.2 128.0h1.7M42.9 127.5h1.7M46.6 127.6h1.7M55.3 127.6h1.7M28.7 128.9h1.7M33.2 129.1h1.7M34.5 129.1h1.7M35.6 129.0h1.7M38.4 129.2h1.7M40.0 128.9h1.7M41.5 128.8h1.7M42.3 128.8h1.7M43.9 128.8h1.7M47.0 129.0h1.7M48.1 129.1h1.7M50.7 128.9h1.7M52.4 129.4h1.7M56.4 129.4h1.7M27.1 130.4h1.7M29.9 130.8h1.7M31.9 130.4h1.7M33.3 130.1h1.7M35.6 130.6h1.7M37.3 130.4h1.7M38.4 130.6h1.7M40.2 130.3h1.7M42.4 130.7h1.7M44.0 130.6h1.7M45.3 130.7h1.7M47.0 130.5h1.7M47.8 130.7h1.7M49.2 130.2h1.7M50.9 130.2h1.7M51.9 130.5h1.7M27.4 131.5h1.7M31.6 131.5h1.7M32.9 131.8h1.7M34.6 131.5h1.7M35.7 131.7h1.7M38.7 131.7h1.7M39.7 131.6h1.7M41.2 131.5h1.7M42.6 131.8h1.7M45.2 132.0h1.7M46.6 131.5h1.7M48.4 131.7h1.7M49.5 132.0h1.7M50.6 131.7h1.7M52.0 131.9h1.7M32.7 133.3h1.7M37.4 133.1h1.7M40.1 132.9h1.7M41.3 132.9h1.7M42.5 133.1h1.7M43.6 133.4h1.7M45.6 133.4h1.7M48.3 133.2h1.7M49.4 133.4h1.7M33.1 134.8h1.7M34.2 134.8h1.7M36.0 134.5h1.7M37.1 134.3h1.7M38.8 134.4h1.7M41.1 134.8h1.7M42.5 134.3h1.7M44.3 134.5h1.7M46.9 134.6h1.7M55.3 134.4h1.7M57.8 134.8h1.7M36.8 135.6h1.7M38.6 135.9h1.7M40.0 136.0h1.7M41.4 135.7h1.7M42.8 135.8h1.7M44.2 136.1h1.7M45.3 135.9h1.7M46.6 136.0h1.7M52.2 135.8h1.7M37.0 137.1h1.7M42.3 137.1h1.7M43.6 137.3h1.7M45.6 137.3h1.7M46.8 137.3h1.7M51.0 137.0h1.7M53.8 137.5h1.7" stroke="#529cf2" stroke-width="1.7" fill="none"/>
<path d="M35.8 45.0h1.7M34.4 46.8h1.7M41.2 46.3h1.7M33.1 50.5h1.7M46.9 50.4h1.7M41.2 51.9h1.7M31.8 55.0h1.7M38.8 55.9h1.7M45.6 56.3h1.7M43.9 57.7h1.7M45.5 57.6h1.7M50.7 57.4h1.7M52.5 57.4h1.7M40.0 58.9h1.7M44.1 58.8h1.7M45.2 59.1h1.7M52.6 58.8h1.7M41.6 60.3h1.7M45.4 60.1h1.7M46.8 60.5h1.7M48.0 60.3h1.7M49.2 60.6h1.7M50.9 60.1h1.7M60.8 60.4h1.7M44.3 62.0h1.7M45.2 61.7h1.7M47.1 61.5h1.7M49.1 61.4h1.7M52.5 61.8h1.7M53.9 61.6h1.7M45.6 63.0h1.7M46.8 62.7h1.7M47.8 63.0h1.7M49.5 63.3h1.7M51.1 63.0h1.7M52.1 62.8h1.7M53.4 62.9h1.7M56.1 63.0h1.7M47.0 64.4h1.7M49.5 64.3h1.7M50.6 64.2h1.7M52.0 64.1h1.7M53.4 64.4h1.7M55.0 64.5h1.7M56.2 64.3h1.7M59.3 64.2h1.7M38.5 65.8h1.7M42.7 65.9h1.7M44.2 66.2h1.7M49.2 65.5h1.7M51.0 65.7h1.7M52.0 66.1h1.7M53.8 66.0h1.7M55.2 66.0h1.7M56.1 66.1h1.7M38.6 67.0h1.7M45.4 66.9h1.7M49.7 67.4h1.7M51.1 67.4h1.7M51.9 66.9h1.7M53.8 66.9h1.7M55.2 67.3h1.7M57.9 67.0h1.7M39.7 68.6h1.7M41.0 68.3h1.7M43.8 68.5h1.7M45.3 68.6h1.7M46.4 68.8h1.7M48.1 68.5h1.7M49.8 68.5h1.7M51.1 68.7h1.7M52.2 68.2h1.7M53.9 68.7h1.7M46.9 70.0h1.7M48.3 69.9h1.7M50.9 70.3h1.7M53.4 70.1h1.7M57.9 70.2h1.7M47.9 71.4h1.7M49.6 71.3h1.7M50.6 71.1h1.7M52.4 71.2h1.7M53.4 71.3h1.7M54.7 71.1h1.7M51.2 74.3h1.7M39.9 81.1h1.7M45.0 81.1h1.7M45.3 82.0h1.7M85.3 82.1h1.7M38.5 83.6h1.7M53.7 83.6h1.7M57.5 83.8h1.7M85.3 83.9h1.7M86.7 83.5h1.7M40.9 84.9h1.7M52.0 85.1h1.7M55.0 85.2h1.7M56.4 85.3h1.7M92.2 85.2h1.7M93.4 85.3h1.7M49.4 86.6h1.7M50.6 86.6h1.7M52.4 86.5h1.7M53.2 86.1h1.7M55.2 86.5h1.7M79.8 86.4h1.7M91.7 86.2h1.7M48.0 88.0h1.7M52.3 87.5h1.7M54.7 87.5h1.7M56.6 88.1h1.7M76.7 87.6h1.7M88.0 87.5h1.7M92.4 87.8h1.7M40.0 89.5h1.7M49.8 89.1h1.7M50.5 89.4h1.7M52.1 89.2h1.7M86.8 88.8h1.7M41.4 90.7h1.7M53.8 90.7h1.7M55.0 90.3h1.7M85.3 90.7h1.7M50.5 91.7h1.7M51.9 91.6h1.7M53.8 92.2h1.7M54.9 92.1h1.7M62.0 91.8h1.7M82.1 91.9h1.7M49.1 93.1h1.7M56.3 93.1h1.7M81.0 93.0h1.7M83.6 93.1h1.7M53.2 95.0h1.7M57.6 94.4h1.7M79.5 94.6h1.7M85.4 94.8h1.7M81.0 95.7h1.7M83.7 96.3h1.7M93.6 95.9h1.7M79.4 97.6h1.7M82.1 98.5h1.7M86.9 98.7h1.7M84.9 100.0h1.7M91.9 100.0h1.7M78.2 101.6h1.7M79.7 101.9h1.7M86.8 101.7h1.7M78.3 102.9h1.7M79.4 103.2h1.7M84.2 103.2h1.7M85.4 103.1h1.7M87.7 102.9h1.7M89.7 103.2h1.7M82.7 104.1h1.7M83.5 104.4h1.7M86.3 104.2h1.7M78.7 105.9h1.7M80.7 105.9h1.7M82.2 105.6h1.7M86.5 105.4h1.7M87.7 105.5h1.7M89.1 105.7h1.7M91.0 105.8h1.7M93.7 105.9h1.7M79.8 107.1h1.7M81.4 107.0h1.7M84.1 107.1h1.7M85.1 107.2h1.7M86.9 107.0h1.7M88.3 107.2h1.7M83.7 108.4h1.7M85.2 108.1h1.7M75.8 109.8h1.7M76.9 109.8h1.7M79.5 109.6h1.7M85.1 109.8h1.7M86.9 109.8h1.7M88.1 110.0h1.7M90.5 109.7h1.7M71.3 110.9h1.7M74.0 111.5h1.7M75.5 111.2h1.7M78.5 111.3h1.7M80.8 111.3h1.7M82.6 111.4h1.7M85.3 111.3h1.7M86.3 111.5h1.7M93.4 111.1h1.7M73.1 112.6h1.7M75.9 112.4h1.7M77.1 112.5h1.7M78.6 112.2h1.7M79.5 112.8h1.7M81.3 112.8h1.7M82.5 112.4h1.7M84.1 112.3h1.7M85.3 112.2h1.7M89.6 112.9h1.7M73.1 113.8h1.7M74.4 113.8h1.7M75.7 114.2h1.7M77.1 113.8h1.7M78.3 114.1h1.7M79.8 114.2h1.7M81.3 114.0h1.7M82.2 114.2h1.7M83.9 113.6h1.7M86.7 113.8h1.7M66.0 115.5h1.7M74.4 115.1h1.7M75.6 115.4h1.7M77.2 115.5h1.7M78.3 115.6h1.7M79.7 115.3h1.7M81.2 115.3h1.7M82.2 115.3h1.7M85.1 115.5h1.7M87.9 115.3h1.7M72.9 116.7h1.7M74.1 116.8h1.7M75.7 116.5h1.7M77.0 116.8h1.7M78.7 117.0h1.7M79.6 116.4h1.7M81.4 116.6h1.7M82.6 116.5h1.7M84.0 116.3h1.7M86.9 116.4h1.7M88.2 116.7h1.7M68.4 117.8h1.7M72.8 117.7h1.7M74.5 117.7h1.7M75.7 117.7h1.7M76.7 118.4h1.7M78.3 117.7h1.7M79.6 117.9h1.7M80.9 117.8h1.7M82.4 117.8h1.7M84.9 118.3h1.7M86.6 118.3h1.7M73.1 119.4h1.7M74.1 119.6h1.7M75.7 119.3h1.7M77.2 119.3h1.7M78.1 119.6h1.7M79.8 119.3h1.7M81.0 119.2h1.7M82.3 119.2h1.7M83.6 119.2h1.7M84.9 119.2h1.7M71.4 120.6h1.7M72.5 120.9h1.7M74.4 120.8h1.7M75.6 120.5h1.7M77.2 120.6h1.7M78.2 121.0h1.7M79.6 120.5h1.7M81.4 120.9h1.7M82.2 120.8h1.7M89.2 120.7h1.7M58.8 122.5h1.7M75.9 122.2h1.7M76.7 122.3h1.7M78.6 122.0h1.7M79.8 122.4h1.7M80.9 121.9h1.7M82.7 122.0h1.7M85.0 122.0h1.7M62.1 123.3h1.7M63.0 123.2h1.7M73.1 123.8h1.7M74.0 123.3h1.7M79.6 123.5h1.7M81.1 123.9h1.7M82.2 123.9h1.7M85.5 123.6h1.7M57.5 125.0h1.7M74.1 124.7h1.7M78.1 125.1h1.7M80.0 124.8h1.7M76.7 126.2h1.7M78.3 126.1h1.7M81.4 126.0h1.7M82.3 126.6h1.7M51.9 127.4h1.7M56.1 127.9h1.7M64.3 128.0h1.7M70.0 127.9h1.7M81.3 128.0h1.7M82.7 127.9h1.7M57.6 129.3h1.7M63.5 128.9h1.7M64.9 128.7h1.7M64.3 130.5h1.7M53.4 131.7h1.7M54.8 131.7h1.7M56.2 131.9h1.7M52.4 133.0h1.7M53.3 133.3h1.7M63.3 132.9h1.7M49.2 134.6h1.7M52.5 134.6h1.7M58.8 134.3h1.7M49.4 135.7h1.7M54.7 135.6h1.7" stroke="#e8403a" stroke-width="1.7" fill="none"/>
<path d="M164.3 33.1h1.7M168.6 32.8h1.7M163.9 35.8h1.7M162.9 41.3h1.7M168.6 43.6h1.7M172.8 44.0h1.7M171.0 45.5h1.7M168.4 46.8h1.7M169.6 48.2h1.7M171.2 48.2h1.7M175.5 48.1h1.7M178.3 47.7h1.7M168.3 49.3h1.7M172.5 49.2h1.7M173.6 49.0h1.7M175.2 49.5h1.7M180.5 49.2h1.7M182.0 49.4h1.7M183.6 49.0h1.7M185.0 49.1h1.7M187.9 49.1h1.7M169.4 50.9h1.7M172.7 50.6h1.7M174.9 51.0h1.7M180.8 50.6h1.7M186.5 50.7h1.7M172.2 52.3h1.7M173.8 52.3h1.7M175.3 51.9h1.7M179.1 51.9h1.7M183.8 52.1h1.7M184.6 52.1h1.7M187.7 52.2h1.7M166.8 53.7h1.7M172.6 53.5h1.7M175.5 53.3h1.7M176.4 53.6h1.7M182.1 53.1h1.7M183.2 53.1h1.7M185.0 53.2h1.7M188.7 53.3h1.7M163.2 54.6h1.7M164.3 54.8h1.7M165.7 54.9h1.7M167.1 55.1h1.7M168.6 54.9h1.7M169.6 54.6h1.7M175.4 54.9h1.7M177.7 54.8h1.7M182.2 54.6h1.7M185.9 54.9h1.7M187.5 55.0h1.7M161.5 56.2h1.7M164.5 56.3h1.7M165.4 56.4h1.7M168.1 56.4h1.7M174.0 56.2h1.7M175.2 56.2h1.7M177.7 55.9h1.7M179.3 56.3h1.7M180.8 56.2h1.7M182.4 55.9h1.7M185.0 56.1h1.7M186.1 56.1h1.7M187.3 55.9h1.7M164.1 57.9h1.7M172.3 57.8h1.7M174.1 57.7h1.7M176.8 57.8h1.7M182.0 57.7h1.7M185.1 57.7h1.7M186.2 57.7h1.7M187.8 57.3h1.7M191.9 57.5h1.7M161.8 58.6h1.7M164.0 59.1h1.7M165.9 58.6h1.7M168.4 59.2h1.7M170.9 58.9h1.7M173.7 58.7h1.7M176.3 59.1h1.7M177.8 59.1h1.7M182.0 58.9h1.7M183.7 58.8h1.7M184.7 58.7h1.7M187.6 59.2h1.7M188.9 59.0h1.7M191.4 59.2h1.7M166.9 60.4h1.7M169.4 60.4h1.7M171.3 60.0h1.7M176.8 60.0h1.7M178.2 60.6h1.7M179.4 60.6h1.7M181.0 60.0h1.7M182.3 60.6h1.7M183.5 60.0h1.7M186.1 60.1h1.7M191.4 60.2h1.7M172.1 61.4h1.7M174.0 61.3h1.7M176.6 61.6h1.7M178.3 61.9h1.7M180.4 61.4h1.7M182.2 61.5h1.7M183.3 61.8h1.7M184.7 61.8h1.7M186.1 61.4h1.7M187.5 61.6h1.7M190.2 62.0h1.7M194.5 62.0h1.7M168.0 63.3h1.7M169.9 63.1h1.7M171.0 63.4h1.7M172.4 63.3h1.7M173.8 62.9h1.7M175.0 63.3h1.7M176.4 63.4h1.7M178.3 62.8h1.7M179.4 62.9h1.7M180.4 63.2h1.7M182.1 63.2h1.7M183.4 63.0h1.7M186.4 62.9h1.7M188.9 62.8h1.7M193.4 63.1h1.7M196.2 62.9h1.7M139.7 64.4h1.7M143.5 64.3h1.7M168.3 64.1h1.7M169.7 64.1h1.7M170.8 64.3h1.7M172.3 64.7h1.7M173.8 64.7h1.7M175.2 64.6h1.7M176.9 64.1h1.7M178.3 64.7h1.7M179.2 64.4h1.7M180.6 64.7h1.7M181.9 64.4h1.7M183.4 64.8h1.7M185.2 64.5h1.7M187.5 64.5h1.7M188.8 64.5h1.7M199.9 64.5h1.7M162.7 65.8h1.7M167.2 66.0h1.7M168.5 66.0h1.7M170.9 65.7h1.7M172.3 65.7h1.7M173.5 65.9h1.7M175.3 65.5h1.7M176.9 66.1h1.7M178.1 65.9h1.7M179.5 66.1h1.7M180.5 65.6h1.7M182.0 65.9h1.7M183.4 65.8h1.7M184.6 65.6h1.7M186.1 65.6h1.7M188.9 65.5h1.7M190.5 65.9h1.7M191.6 65.8h1.7M194.5 66.0h1.7M199.9 65.7h1.7M145.2 67.2h1.7M148.0 66.9h1.7M162.9 66.9h1.7M164.2 67.5h1.7M169.8 67.1h1.7M171.4 66.9h1.7M172.3 67.2h1.7M174.0 67.1h1.7M175.1 67.2h1.7M176.8 67.3h1.7M177.8 67.4h1.7M179.6 66.9h1.7M180.5 67.4h1.7M182.4 67.3h1.7M183.8 67.4h1.7M184.7 67.0h1.7M186.4 67.3h1.7M187.5 67.5h1.7M189.2 67.1h1.7M195.5 67.3h1.7M199.8 67.0h1.7M142.2 68.9h1.7M164.4 68.9h1.7M166.9 68.6h1.7M168.1 68.6h1.7M169.6 68.5h1.7M170.8 68.3h1.7M172.5 68.5h1.7M173.7 68.9h1.7M175.3 68.9h1.7M176.8 68.9h1.7M178.2 68.5h1.7M179.5 68.4h1.7M180.7 68.7h1.7M181.9 68.5h1.7M183.4 68.6h1.7M186.5 68.8h1.7M187.4 68.3h1.7M189.1 68.7h1.7M191.4 68.6h1.7M193.3 68.4h1.7M194.7 68.8h1.7M199.6 68.2h1.7M201.5 68.7h1.7M205.7 68.3h1.7M141.0 69.7h1.7M162.8 69.8h1.7M164.5 70.2h1.7M165.7 69.8h1.7M168.3 69.6h1.7M169.5 69.6h1.7M171.2 70.3h1.7M172.3 69.8h1.7M173.6 69.8h1.7M175.0 70.2h1.7M176.6 69.8h1.7M177.8 69.7h1.7M179.6 69.8h1.7M180.6 69.8h1.7M182.1 69.9h1.7M184.9 70.0h1.7M186.0 69.8h1.7M187.6 69.9h1.7M188.9 69.7h1.7M190.2 69.7h1.7M191.7 70.0h1.7M196.0 69.8h1.7M197.0 69.9h1.7M199.9 69.7h1.7M202.9 70.3h1.7M205.3 70.1h1.7M139.8 71.4h1.7M143.7 71.5h1.7M144.9 71.4h1.7M149.3 71.5h1.7M150.6 71.2h1.7M161.6 71.6h1.7M164.3 71.5h1.7M166.6 71.3h1.7M168.4 71.6h1.7M169.8 71.1h1.7M170.9 71.3h1.7M172.7 71.6h1.7M173.6 71.2h1.7M175.3 71.6h1.7M176.7 71.6h1.7M177.8 71.0h1.7M179.7 71.2h1.7M180.9 71.5h1.7M182.2 71.5h1.7M183.8 71.5h1.7M185.2 71.3h1.7M186.2 71.0h1.7M187.8 71.0h1.7M188.9 71.2h1.7M191.9 71.5h1.7M193.0 71.2h1.7M194.2 71.4h1.7M195.6 71.4h1.7M197.4 71.6h1.7M198.6 71.1h1.7M199.7 71.1h1.7M161.3 72.5h1.7M163.1 72.9h1.7M164.5 73.0h1.7M165.4 72.5h1.7M168.5 72.4h1.7M170.0 72.7h1.7M170.9 72.5h1.7M172.5 72.5h1.7M174.2 72.5h1.7M175.3 72.3h1.7M176.2 72.7h1.7M177.8 72.3h1.7M179.1 72.5h1.7M180.9 72.6h1.7M182.2 72.4h1.7M183.7 72.9h1.7M184.6 72.6h1.7M186.2 72.6h1.7M187.7 73.0h1.7M188.9 72.7h1.7M190.2 72.3h1.7M191.6 72.4h1.7M192.7 72.6h1.7M194.4 72.3h1.7M195.5 72.8h1.7M197.3 72.5h1.7M198.7 72.8h1.7M200.0 72.5h1.7M201.1 72.4h1.7M205.5 72.9h1.7M120.0 74.2h1.7M146.7 73.9h1.7M164.2 74.4h1.7M165.7 73.8h1.7M166.6 74.0h1.7M168.3 74.0h1.7M169.9 74.3h1.7M171.1 73.9h1.7M172.3 74.2h1.7M174.0 74.0h1.7M175.2 74.1h1.7M176.3 74.0h1.7M178.1 74.1h1.7M179.0 73.9h1.7M180.8 74.1h1.7M182.3 73.8h1.7M183.5 73.8h1.7M185.0 74.0h1.7M186.5 74.1h1.7M187.3 74.2h1.7M188.7 73.8h1.7M190.3 74.1h1.7M191.6 73.9h1.7M192.9 74.1h1.7M194.3 74.2h1.7M195.7 73.8h1.7M196.9 74.2h1.7M198.3 73.7h1.7M200.2 74.4h1.7M201.0 74.2h1.7M204.3 74.2h1.7M125.9 75.1h1.7M136.9 75.3h1.7M138.2 75.2h1.7M140.9 75.5h1.7M149.3 75.4h1.7M163.2 75.1h1.7M164.3 75.4h1.7M168.2 75.3h1.7M169.5 75.5h1.7M170.9 75.5h1.7M172.5 75.5h1.7M173.7 75.2h1.7M175.3 75.5h1.7M176.6 75.3h1.7M177.7 75.6h1.7M179.4 75.8h1.7M180.9 75.1h1.7M181.9 75.7h1.7M183.5 75.8h1.7M184.8 75.3h1.7M186.5 75.5h1.7M187.6 75.7h1.7M188.8 75.2h1.7M190.5 75.1h1.7M191.4 75.5h1.7M194.5 75.3h1.7M195.7 75.1h1.7M197.0 75.7h1.7M198.4 75.2h1.7M200.0 75.1h1.7M201.2 75.6h1.7M204.2 75.3h1.7M205.7 75.3h1.7M206.9 75.6h1.7M127.2 76.6h1.7M135.6 76.5h1.7M137.8 76.8h1.7M140.5 76.5h1.7M142.4 77.1h1.7M163.0 76.6h1.7M164.2 76.7h1.7M167.0 76.7h1.7M168.3 76.5h1.7M169.8 76.5h1.7M170.8 76.8h1.7M172.4 76.8h1.7M174.1 77.1h1.7M175.0 76.7h1.7M176.7 76.7h1.7M177.7 76.9h1.7M179.1 77.0h1.7M180.4 76.8h1.7M182.0 76.6h1.7M183.4 76.6h1.7M184.8 76.8h1.7M185.9 76.8h1.7M187.8 76.6h1.7M189.1 77.2h1.7M190.6 76.9h1.7M192.0 76.7h1.7M193.0 76.8h1.7M194.7 77.1h1.7M195.7 76.7h1.7M197.1 77.0h1.7M198.8 76.7h1.7M200.1 77.0h1.7M202.4 77.0h1.7M204.1 77.1h1.7M205.5 76.8h1.7M119.9 78.4h1.7M121.7 78.3h1.7M133.8 78.0h1.7M138.4 78.1h1.7M139.5 78.3h1.7M144.8 78.3h1.7M146.2 78.4h1.7M152.0 78.4h1.7M162.5 78.4h1.7M166.9 78.3h1.7M169.8 78.0h1.7M171.2 77.9h1.7M172.2 78.0h1.7M173.8 77.9h1.7M174.9 78.2h1.7M176.7 78.5h1.7M177.7 78.3h1.7M179.4 78.3h1.7M181.0 78.3h1.7M182.4 78.3h1.7M183.7 78.4h1.7M184.9 78.1h1.7M186.4 78.2h1.7M187.8 78.2h1.7M188.7 78.3h1.7M190.1 77.9h1.7M191.5 78.2h1.7M193.3 78.0h1.7M194.5 78.1h1.7M195.9 78.2h1.7M197.2 78.4h1.7M198.8 78.5h1.7M199.8 77.9h1.7M208.1 78.4h1.7M124.7 79.9h1.7M127.4 79.4h1.7M130.0 79.7h1.7M132.5 79.3h1.7M133.7 79.7h1.7M135.6 79.5h1.7M139.2 79.9h1.7M141.0 79.9h1.7M142.3 79.6h1.7M147.4 79.3h1.7M166.7 79.9h1.7M168.0 79.7h1.7M169.7 79.9h1.7M172.8 79.5h1.7M174.0 79.7h1.7M175.4 79.5h1.7M176.8 79.4h1.7M177.8 79.8h1.7M179.1 79.5h1.7M180.8 79.7h1.7M182.2 79.2h1.7M183.4 79.3h1.7M185.0 79.7h1.7M186.1 79.4h1.7M187.8 79.5h1.7M189.0 79.4h1.7M190.2 79.5h1.7M191.8 79.4h1.7M193.2 79.8h1.7M194.5 79.9h1.7M195.7 79.4h1.7M197.5 79.3h1.7M198.6 79.3h1.7M199.6 79.4h1.7M201.6 79.7h1.7M122.9 81.0h1.7M127.1 81.0h1.7M128.5 81.1h1.7M130.1 81.3h1.7M135.0 81.2h1.7M146.6 81.0h1.7M149.4 80.8h1.7M153.4 81.2h1.7M164.0 80.9h1.7M165.8 81.1h1.7M168.1 81.1h1.7M169.7 80.6h1.7M171.4 80.8h1.7M172.3 80.9h1.7M173.9 80.8h1.7M175.2 81.1h1.7M176.4 81.1h1.7M177.7 80.6h1.7M179.5 80.9h1.7M181.0 80.7h1.7M182.1 80.7h1.7M183.6 81.0h1.7M184.5 80.7h1.7M186.5 81.1h1.7M187.6 80.7h1.7M188.7 81.0h1.7M190.4 80.8h1.7M191.4 80.7h1.7M193.3 80.7h1.7M194.7 81.1h1.7M196.0 80.7h1.7M197.0 81.2h1.7M198.3 80.6h1.7M200.0 80.7h1.7M202.9 81.0h1.7M205.4 81.1h1.7M128.7 82.5h1.7M129.6 82.2h1.7M135.1 82.0h1.7M149.1 82.5h1.7M167.1 82.6h1.7M169.9 82.0h1.7M170.9 82.1h1.7M172.8 82.5h1.7M173.7 82.3h1.7M174.9 82.4h1.7M176.5 82.0h1.7M177.7 82.6h1.7M179.1 82.6h1.7M180.4 82.2h1.7M181.8 82.5h1.7M183.3 82.6h1.7M184.6 82.2h1.7M186.3 82.2h1.7M187.9 82.1h1.7M189.1 82.1h1.7M190.0 82.1h1.7M191.9 82.1h1.7M194.6 82.0h1.7M196.1 82.3h1.7M198.6 82.3h1.7M199.8 82.0h1.7M201.1 82.3h1.7M202.6 82.1h1.7M203.9 82.2h1.7M205.2 82.1h1.7M127.4 83.7h1.7M130.9 83.9h1.7M146.7 83.7h1.7M147.7 83.8h1.7M148.9 83.5h1.7M152.0 83.8h1.7M168.3 83.9h1.7M169.9 84.0h1.7M172.3 83.8h1.7M174.0 83.6h1.7M175.2 83.7h1.7M176.6 83.6h1.7M178.3 83.4h1.7M179.5 84.0h1.7M180.6 83.9h1.7M181.9 83.6h1.7M183.8 83.7h1.7M184.6 83.4h1.7M186.1 83.4h1.7M187.9 84.0h1.7M188.7 83.6h1.7M190.3 84.0h1.7M191.6 83.5h1.7M192.8 83.4h1.7M194.3 83.8h1.7M195.6 83.7h1.7M197.0 83.6h1.7M198.4 83.8h1.7M199.9 83.6h1.7M139.2 85.0h1.7M140.8 85.0h1.7M143.3 85.3h1.7M148.8 85.4h1.7M168.2 85.1h1.7M169.8 84.7h1.7M170.8 84.8h1.7M172.4 85.3h1.7M173.9 85.0h1.7M175.3 85.4h1.7M176.4 84.7h1.7M178.0 84.7h1.7M179.4 85.0h1.7M180.8 85.4h1.7M182.3 84.8h1.7M183.7 84.8h1.7M184.8 85.2h1.7M185.9 85.2h1.7M187.3 85.2h1.7M188.9 84.8h1.7M190.2 84.9h1.7M191.9 85.0h1.7M193.0 85.2h1.7M194.8 84.9h1.7M195.7 85.3h1.7M197.4 85.3h1.7M198.3 84.8h1.7M200.0 85.0h1.7M201.2 85.4h1.7M139.7 86.4h1.7M143.2 86.3h1.7M145.3 86.5h1.7M149.4 86.6h1.7M152.1 86.4h1.7M153.0 86.2h1.7M155.6 86.5h1.7M169.7 86.3h1.7M172.3 86.4h1.7M173.5 86.3h1.7M175.5 86.7h1.7M176.5 86.4h1.7M177.8 86.7h1.7M179.4 86.1h1.7M180.5 86.7h1.7M182.2 86.4h1.7M183.6 86.7h1.7M184.8 86.1h1.7M186.1 86.2h1.7M187.6 86.7h1.7M188.8 86.2h1.7M190.5 86.2h1.7M191.6 86.2h1.7M193.4 86.7h1.7M194.2 86.3h1.7M195.8 86.4h1.7M200.1 86.7h1.7M201.6 86.5h1.7M202.8 86.1h1.7M204.3 86.7h1.7M139.6 88.1h1.7M140.8 87.6h1.7M142.5 87.6h1.7M148.8 87.8h1.7M153.2 88.0h1.7M154.5 88.1h1.7M166.9 87.6h1.7M168.4 88.1h1.7M169.8 87.5h1.7M171.2 88.0h1.7M172.2 88.0h1.7M176.4 87.6h1.7M178.1 87.8h1.7M179.3 87.7h1.7M180.7 87.6h1.7M182.2 88.0h1.7M183.1 87.9h1.7M185.1 87.7h1.7M186.4 87.7h1.7M187.9 87.7h1.7M188.7 88.0h1.7M190.5 87.6h1.7M191.5 87.7h1.7M193.3 88.0h1.7M194.2 88.1h1.7M195.7 88.2h1.7M197.6 87.9h1.7M198.5 87.8h1.7M201.0 87.9h1.7M202.9 88.1h1.7M140.7 89.4h1.7M143.2 89.1h1.7M147.5 88.9h1.7M151.9 88.8h1.7M154.5 89.0h1.7M165.5 89.5h1.7M170.8 88.9h1.7M172.3 88.9h1.7M175.1 89.3h1.7M176.4 89.0h1.7M178.1 89.2h1.7M179.1 88.9h1.7M180.9 89.2h1.7M181.8 89.4h1.7M183.6 89.2h1.7M184.5 89.3h1.7M186.1 89.0h1.7M187.7 89.2h1.7M188.9 89.2h1.7M190.5 89.0h1.7M191.6 89.5h1.7M193.2 88.9h1.7M194.6 89.1h1.7M195.6 89.1h1.7M197.2 89.1h1.7M198.7 89.2h1.7M201.1 89.3h1.7M204.1 89.5h1.7M139.2 90.3h1.7M143.7 90.6h1.7M148.8 90.6h1.7M150.8 90.3h1.7M152.9 90.9h1.7M154.3 90.5h1.7M155.7 90.4h1.7M157.1 90.7h1.7M166.9 90.3h1.7M170.0 90.6h1.7M171.1 90.3h1.7M172.1 90.7h1.7M175.3 90.9h1.7M176.5 90.4h1.7M178.0 90.3h1.7M179.4 90.3h1.7M180.9 90.3h1.7M181.7 90.6h1.7M183.8 90.5h1.7M184.6 90.5h1.7M185.9 90.6h1.7M187.9 90.9h1.7M190.3 90.4h1.7M191.8 90.5h1.7M192.8 90.6h1.7M194.4 90.8h1.7M195.6 90.3h1.7M196.9 90.4h1.7M198.6 90.7h1.7M199.8 90.3h1.7M204.2 90.2h1.7M141.0 91.6h1.7M147.9 91.8h1.7M150.5 91.8h1.7M158.5 91.9h1.7M161.8 92.2h1.7M163.1 92.2h1.7M165.6 91.9h1.7M168.6 92.1h1.7M169.7 91.9h1.7M170.9 92.2h1.7M172.3 91.8h1.7M174.0 92.1h1.7M175.5 91.6h1.7M176.5 92.2h1.7M178.2 91.6h1.7M179.0 92.0h1.7M180.7 91.9h1.7M182.2 92.2h1.7M183.3 92.2h1.7M184.8 91.7h1.7M185.9 91.6h1.7M187.8 91.7h1.7M188.9 92.0h1.7M190.6 92.1h1.7M191.8 92.2h1.7M192.8 91.8h1.7M194.4 91.7h1.7M195.9 92.2h1.7M197.3 92.1h1.7M198.6 92.2h1.7M199.7 91.9h1.7M203.9 92.0h1.7M207.0 91.7h1.7M140.6 93.5h1.7M142.5 93.6h1.7M146.5 93.5h1.7M147.4 93.4h1.7M148.9 93.0h1.7M151.8 93.5h1.7M153.0 93.4h1.7M157.4 93.0h1.7M158.5 93.6h1.7M163.1 93.0h1.7M166.7 93.6h1.7M172.1 93.0h1.7M174.1 93.2h1.7M174.9 93.7h1.7M176.3 93.1h1.7M178.0 93.5h1.7M179.2 93.3h1.7M180.9 93.1h1.7M181.9 93.1h1.7M183.2 93.1h1.7M184.9 93.5h1.7M186.5 93.2h1.7M187.6 93.5h1.7M189.1 93.4h1.7M190.1 93.3h1.7M191.9 93.2h1.7M193.2 93.2h1.7M194.3 93.6h1.7M197.5 93.2h1.7M198.6 93.1h1.7M200.1 93.5h1.7M201.3 93.1h1.7M202.4 93.2h1.7M139.5 94.6h1.7M141.1 94.6h1.7M144.7 94.8h1.7M146.3 94.8h1.7M148.0 94.7h1.7M149.2 94.5h1.7M150.2 94.6h1.7M152.1 94.4h1.7M154.6 94.6h1.7M156.0 94.6h1.7M157.2 94.4h1.7M158.8 94.6h1.7M160.1 94.4h1.7M161.8 94.6h1.7M162.7 94.7h1.7M166.7 95.0h1.7M168.6 94.8h1.7M170.0 94.6h1.7M170.9 94.9h1.7M172.5 94.7h1.7M174.0 94.8h1.7M175.3 94.5h1.7M176.9 94.6h1.7M178.3 94.8h1.7M179.4 94.4h1.7M180.7 94.8h1.7M182.0 94.9h1.7M183.3 94.5h1.7M184.5 94.6h1.7M186.6 94.4h1.7M187.9 94.4h1.7M189.0 94.8h1.7M190.4 94.6h1.7M191.9 94.5h1.7M192.8 94.9h1.7M194.3 95.0h1.7M195.8 94.5h1.7M197.3 94.5h1.7M198.8 94.6h1.7M199.8 95.0h1.7M201.5 94.9h1.7M202.7 94.6h1.7M204.3 94.9h1.7M139.8 96.2h1.7M142.0 96.1h1.7M143.8 95.8h1.7M144.7 96.4h1.7M146.6 96.0h1.7M147.5 96.3h1.7M149.2 95.8h1.7M150.3 96.3h1.7M151.7 95.9h1.7M153.5 96.4h1.7M154.6 95.7h1.7M156.0 96.2h1.7M157.1 96.0h1.7M158.8 96.0h1.7M159.9 96.1h1.7M161.4 95.9h1.7M162.7 95.7h1.7M164.2 95.8h1.7M165.8 96.1h1.7M167.3 96.1h1.7M168.3 95.8h1.7M169.5 95.8h1.7M171.1 96.3h1.7M172.7 96.4h1.7M174.1 96.0h1.7M175.0 96.1h1.7M176.2 96.1h1.7M178.0 95.8h1.7M179.4 96.4h1.7M180.5 95.9h1.7M182.2 96.1h1.7M183.6 96.3h1.7M184.7 96.3h1.7M185.9 96.0h1.7M187.4 95.9h1.7M189.0 96.2h1.7M190.3 96.3h1.7M191.8 95.9h1.7M193.3 96.2h1.7M194.6 96.0h1.7M195.7 95.9h1.7M197.2 96.1h1.7M198.7 95.9h1.7M202.8 95.9h1.7M140.6 97.3h1.7M142.5 97.6h1.7M143.9 97.6h1.7M145.1 97.5h1.7M146.7 97.6h1.7M148.0 97.4h1.7M149.2 97.7h1.7M150.4 97.7h1.7M151.6 97.8h1.7M153.3 97.4h1.7M154.8 97.3h1.7M155.8 97.1h1.7M157.3 97.1h1.7M159.0 97.4h1.7M159.9 97.1h1.7M161.4 97.4h1.7M162.9 97.1h1.7M164.0 97.5h1.7M165.3 97.8h1.7M167.0 97.7h1.7M168.1 97.3h1.7M170.0 97.6h1.7M171.2 97.2h1.7M172.7 97.4h1.7M174.0 97.4h1.7M175.1 97.6h1.7M176.9 97.2h1.7M178.1 97.5h1.7M179.4 97.2h1.7M180.6 97.5h1.7M182.4 97.3h1.7M183.3 97.7h1.7M184.7 97.2h1.7M186.2 97.7h1.7M187.5 97.4h1.7M189.0 97.5h1.7M190.4 97.1h1.7M191.9 97.2h1.7M193.0 97.1h1.7M194.5 97.2h1.7M197.1 97.6h1.7M198.4 97.4h1.7M200.0 97.5h1.7M201.6 97.2h1.7M202.4 97.4h1.7M205.2 97.3h1.7M133.8 99.0h1.7M140.5 98.9h1.7M142.3 98.7h1.7M143.4 98.6h1.7M144.8 98.9h1.7M146.2 99.0h1.7M147.4 98.9h1.7M148.8 98.7h1.7M150.1 98.9h1.7M151.9 98.7h1.7M153.0 98.7h1.7M154.4 98.7h1.7M155.6 99.1h1.7M157.4 99.2h1.7M158.9 99.1h1.7M159.8 98.6h1.7M161.5 98.9h1.7M163.0 99.0h1.7M164.3 98.5h1.7M165.7 98.5h1.7M167.0 98.9h1.7M168.4 98.6h1.7M170.0 98.6h1.7M170.8 98.9h1.7M172.8 98.9h1.7M173.6 98.9h1.7M175.4 99.1h1.7M176.9 98.9h1.7M177.8 98.8h1.7M179.1 98.8h1.7M180.7 98.9h1.7M182.4 98.7h1.7M183.5 98.5h1.7M184.8 98.9h1.7M186.0 98.9h1.7M187.5 98.9h1.7M189.0 98.9h1.7M190.2 98.9h1.7M191.5 98.5h1.7M193.3 98.7h1.7M194.5 98.8h1.7M196.1 99.1h1.7M197.3 98.5h1.7M200.2 99.1h1.7M204.2 98.6h1.7M205.7 98.5h1.7M138.2 99.9h1.7M141.9 99.9h1.7M143.9 100.0h1.7M144.9 100.4h1.7M146.2 100.3h1.7M148.1 100.2h1.7M149.4 99.9h1.7M150.8 99.9h1.7M151.9 100.4h1.7M152.9 100.4h1.7M154.3 100.2h1.7M155.6 99.9h1.7M157.3 99.9h1.7M158.6 100.0h1.7M161.2 100.0h1.7M163.0 99.9h1.7M165.9 100.0h1.7M167.0 100.5h1.7M169.4 100.4h1.7M171.4 100.1h1.7M172.2 100.2h1.7M173.7 100.4h1.7M176.3 100.0h1.7M177.9 100.2h1.7M182.0 99.9h1.7M183.7 100.1h1.7M184.5 100.4h1.7M186.1 99.9h1.7M187.7 100.4h1.7M188.7 100.2h1.7M190.6 100.2h1.7M192.0 100.0h1.7M194.7 99.9h1.7M196.0 100.1h1.7M200.3 100.4h1.7M201.1 99.9h1.7M202.4 100.0h1.7M203.8 100.4h1.7M136.4 101.9h1.7M139.7 101.7h1.7M140.5 101.7h1.7M142.2 101.6h1.7M143.6 101.8h1.7M144.9 101.3h1.7M146.0 101.8h1.7M148.0 101.7h1.7M149.1 101.8h1.7M150.6 101.7h1.7M151.7 101.4h1.7M153.4 101.7h1.7M154.4 101.4h1.7M156.0 101.7h1.7M158.5 101.3h1.7M160.1 101.6h1.7M161.6 101.6h1.7M164.6 101.8h1.7M166.9 101.3h1.7M168.4 101.8h1.7M171.2 101.5h1.7M173.9 101.9h1.7M175.4 101.4h1.7M176.3 101.8h1.7M177.9 101.7h1.7M179.3 101.6h1.7M181.0 101.9h1.7M183.6 101.8h1.7M185.2 101.6h1.7M186.3 101.6h1.7M187.9 101.4h1.7M189.1 101.6h1.7M190.5 101.7h1.7M191.5 101.6h1.7M193.1 101.6h1.7M194.4 101.8h1.7M195.7 101.9h1.7M198.9 101.7h1.7M199.7 101.3h1.7M208.4 101.8h1.7M140.9 102.7h1.7M142.2 102.9h1.7M143.5 103.2h1.7M145.1 102.9h1.7M146.1 102.8h1.7M148.0 102.6h1.7M149.0 102.7h1.7M150.4 102.6h1.7M151.6 102.7h1.7M153.5 102.9h1.7M154.7 103.0h1.7M155.9 102.6h1.7M157.3 102.9h1.7M158.5 103.3h1.7M159.8 102.9h1.7M161.6 103.1h1.7M162.9 103.2h1.7M166.9 102.8h1.7M168.3 102.9h1.7M169.9 103.3h1.7M174.0 103.2h1.7M176.8 103.2h1.7M178.2 102.8h1.7M180.9 102.6h1.7M182.2 103.0h1.7M183.2 103.0h1.7M185.1 102.7h1.7M187.5 102.6h1.7M188.9 102.9h1.7M190.3 103.2h1.7M191.6 103.2h1.7M193.0 102.9h1.7M195.7 103.2h1.7M200.0 103.2h1.7M202.8 103.1h1.7M205.4 102.8h1.7M207.0 103.2h1.7M136.4 104.7h1.7M140.9 104.5h1.7M143.3 104.2h1.7M144.7 104.6h1.7M147.6 104.3h1.7M149.2 104.6h1.7M150.5 104.5h1.7M151.6 104.4h1.7M152.9 104.1h1.7M154.9 104.5h1.7M156.1 104.4h1.7M157.2 104.5h1.7M158.6 104.2h1.7M159.8 104.4h1.7M163.9 104.2h1.7M165.3 104.5h1.7M171.4 104.2h1.7M175.2 104.2h1.7M177.9 104.0h1.7M179.0 104.5h1.7M181.8 104.1h1.7M183.1 104.2h1.7M185.0 104.2h1.7M186.0 104.2h1.7M187.9 104.5h1.7M188.6 104.0h1.7M190.5 104.7h1.7M191.6 104.5h1.7M193.1 104.1h1.7M195.5 104.5h1.7M197.1 104.5h1.7M200.3 104.1h1.7M201.4 104.4h1.7M207.1 104.6h1.7M136.6 105.7h1.7M141.9 105.6h1.7M144.7 105.7h1.7M146.4 105.6h1.7M147.8 105.8h1.7M149.4 105.7h1.7M150.1 105.4h1.7M152.0 105.4h1.7M153.4 105.8h1.7M154.4 105.9h1.7M156.0 105.9h1.7M157.1 105.7h1.7M159.1 105.8h1.7M160.1 105.4h1.7M161.6 105.8h1.7M162.5 105.8h1.7M163.9 106.0h1.7M165.3 105.6h1.7M166.9 105.5h1.7M171.0 105.5h1.7M175.3 105.5h1.7M176.3 105.9h1.7M179.3 105.7h1.7M184.9 105.8h1.7M186.1 105.4h1.7M187.8 105.5h1.7M188.6 105.5h1.7M191.9 105.8h1.7M194.4 105.8h1.7M197.2 106.0h1.7M202.7 105.6h1.7M204.1 105.4h1.7M143.4 107.1h1.7M144.8 107.1h1.7M146.5 106.9h1.7M148.0 107.3h1.7M149.3 106.7h1.7M150.4 106.9h1.7M152.2 107.2h1.7M152.9 106.8h1.7M154.5 106.8h1.7M155.9 107.0h1.7M157.2 107.2h1.7M159.0 107.3h1.7M159.9 107.0h1.7M161.5 106.8h1.7M162.6 107.1h1.7M164.1 107.0h1.7M165.4 107.4h1.7M166.7 106.9h1.7M168.7 107.0h1.7M175.2 107.0h1.7M185.2 106.9h1.7M186.4 107.3h1.7M187.5 107.4h1.7M192.0 106.8h1.7M193.2 106.8h1.7M194.7 107.4h1.7M201.3 106.9h1.7M202.6 107.2h1.7M145.1 108.1h1.7M146.4 108.4h1.7M147.6 108.3h1.7M149.0 108.7h1.7M150.6 108.1h1.7M151.6 108.7h1.7M153.5 108.6h1.7M154.4 108.5h1.7M156.1 108.8h1.7M157.1 108.5h1.7M158.6 108.7h1.7M161.2 108.4h1.7M162.9 108.1h1.7M163.9 108.6h1.7M165.9 108.2h1.7M166.7 108.2h1.7M168.7 108.4h1.7M172.2 108.8h1.7M175.5 108.2h1.7M176.3 108.4h1.7M179.6 108.3h1.7M181.0 108.3h1.7M188.7 108.3h1.7M190.1 108.7h1.7M191.5 108.2h1.7M193.2 108.2h1.7M199.7 108.1h1.7M203.0 108.7h1.7M203.8 108.4h1.7M205.2 108.5h1.7M144.6 109.7h1.7M146.5 109.6h1.7M148.8 109.5h1.7M150.1 109.5h1.7M152.1 110.2h1.7M153.1 110.0h1.7M154.4 110.0h1.7M155.8 109.8h1.7M157.1 110.1h1.7M158.5 109.7h1.7M159.8 110.2h1.7M161.3 109.9h1.7M162.9 109.8h1.7M164.2 109.6h1.7M165.6 110.0h1.7M168.6 109.7h1.7M173.5 109.8h1.7M175.5 109.5h1.7M178.0 109.7h1.7M179.2 109.7h1.7M189.2 109.5h1.7M190.5 109.8h1.7M191.5 109.7h1.7M193.4 109.8h1.7M144.8 111.1h1.7M146.1 111.1h1.7M147.4 111.0h1.7M149.2 111.2h1.7M150.4 110.9h1.7M151.7 111.2h1.7M153.3 111.5h1.7M154.9 111.4h1.7M156.3 111.1h1.7M157.1 110.9h1.7M159.0 111.0h1.7M160.4 110.8h1.7M161.6 111.2h1.7M162.9 111.2h1.7M164.5 111.2h1.7M165.3 111.4h1.7M167.3 110.8h1.7M168.1 111.1h1.7M169.5 111.2h1.7M171.4 111.4h1.7M174.0 111.2h1.7M179.5 111.4h1.7M184.8 111.4h1.7M201.5 111.2h1.7M205.3 111.3h1.7M146.5 112.6h1.7M147.6 112.3h1.7M148.9 112.5h1.7M150.8 112.6h1.7M151.8 112.9h1.7M153.4 112.5h1.7M154.3 112.2h1.7M156.1 112.3h1.7M157.2 112.8h1.7M158.5 112.8h1.7M160.4 112.8h1.7M161.6 112.4h1.7M163.0 112.5h1.7M164.0 112.4h1.7M165.6 112.5h1.7M168.5 112.9h1.7M169.5 112.4h1.7M171.4 112.4h1.7M174.1 112.8h1.7M181.8 112.6h1.7M195.8 112.9h1.7M202.5 112.3h1.7M146.2 113.7h1.7M150.2 114.1h1.7M151.5 113.6h1.7M153.4 113.7h1.7M154.8 114.1h1.7M155.8 113.7h1.7M157.0 114.1h1.7M158.6 114.1h1.7M160.2 113.7h1.7M161.2 113.9h1.7M162.7 113.9h1.7M164.2 113.6h1.7M165.5 113.8h1.7M168.3 113.8h1.7M169.7 113.9h1.7M172.3 113.8h1.7M202.4 114.2h1.7M204.2 114.0h1.7M147.5 115.6h1.7M150.7 115.6h1.7M151.9 115.2h1.7M153.4 115.6h1.7M156.3 115.4h1.7M159.9 115.4h1.7M161.4 115.0h1.7M163.1 115.5h1.7M164.1 115.6h1.7M165.5 115.1h1.7M166.8 115.3h1.7M151.8 116.5h1.7M153.4 117.0h1.7M156.1 116.8h1.7M157.1 116.8h1.7M158.6 116.9h1.7M159.9 116.6h1.7M162.6 116.5h1.7M164.2 116.3h1.7M165.8 116.7h1.7M202.7 116.9h1.7M153.3 118.2h1.7M156.0 117.8h1.7M160.2 117.7h1.7M161.5 118.4h1.7M164.3 117.9h1.7M154.4 119.4h1.7M156.0 119.6h1.7M161.6 119.3h1.7M150.7 120.8h1.7M158.6 120.8h1.7M161.6 120.7h1.7M153.5 122.3h1.7M155.9 122.1h1.7" stroke="#f29e48" stroke-width="1.7" fill="none"/>
<path d="M134.2 59.1h1.7M140.9 63.3h1.7M132.5 65.8h1.7M137.9 65.6h1.7M131.6 67.3h1.7M132.6 67.2h1.7M136.6 66.9h1.7M143.7 66.9h1.7M137.0 68.9h1.7M141.1 68.4h1.7M125.6 69.9h1.7M128.3 70.1h1.7M130.9 69.9h1.7M132.6 70.1h1.7M134.3 69.6h1.7M135.4 70.2h1.7M139.6 70.2h1.7M125.5 71.6h1.7M127.2 71.1h1.7M128.7 71.5h1.7M132.4 71.6h1.7M136.7 71.2h1.7M138.3 71.4h1.7M141.0 71.0h1.7M142.3 71.6h1.7M148.1 71.1h1.7M128.6 72.7h1.7M129.6 72.3h1.7M130.9 72.5h1.7M132.9 73.0h1.7M134.1 72.7h1.7M135.0 72.9h1.7M136.8 72.9h1.7M127.4 74.2h1.7M128.2 74.2h1.7M129.5 74.0h1.7M131.4 74.0h1.7M132.3 73.9h1.7M134.1 74.2h1.7M135.5 74.2h1.7M136.9 74.0h1.7M138.2 74.1h1.7M141.0 74.3h1.7M143.7 74.2h1.7M144.9 74.3h1.7M118.6 75.2h1.7M123.0 75.2h1.7M127.2 75.2h1.7M128.6 75.5h1.7M131.3 75.2h1.7M132.4 75.5h1.7M125.6 76.9h1.7M129.8 77.1h1.7M134.1 76.7h1.7M139.3 77.1h1.7M147.8 76.5h1.7M123.3 78.4h1.7M124.4 78.5h1.7M125.8 78.5h1.7M127.1 78.0h1.7M128.1 78.3h1.7M129.8 78.1h1.7M136.5 77.9h1.7M141.0 78.0h1.7M142.5 78.2h1.7M128.8 79.4h1.7M131.2 79.9h1.7M137.0 79.3h1.7M121.3 80.9h1.7M124.4 80.7h1.7M125.5 81.2h1.7M131.0 81.0h1.7M132.8 81.1h1.7M133.9 81.2h1.7M138.4 81.3h1.7M139.5 80.9h1.7M145.3 81.1h1.7M118.7 82.2h1.7M120.0 82.0h1.7M122.9 82.1h1.7M127.2 82.6h1.7M132.8 82.3h1.7M133.9 82.2h1.7M136.5 82.0h1.7M137.8 82.3h1.7M139.5 82.5h1.7M140.6 82.4h1.7M142.3 82.2h1.7M121.5 83.7h1.7M124.6 84.0h1.7M125.8 83.9h1.7M132.3 83.5h1.7M134.1 83.8h1.7M135.2 83.7h1.7M136.8 83.7h1.7M138.1 83.4h1.7M139.8 83.7h1.7M141.1 83.7h1.7M142.5 83.6h1.7M143.3 83.4h1.7M144.7 84.0h1.7M118.8 85.1h1.7M126.9 85.3h1.7M129.8 85.4h1.7M131.4 84.8h1.7M132.8 84.8h1.7M134.0 85.0h1.7M136.6 84.9h1.7M122.9 86.7h1.7M124.1 86.5h1.7M125.5 86.3h1.7M128.7 86.2h1.7M129.6 86.3h1.7M133.8 86.4h1.7M137.0 86.2h1.7M138.3 86.6h1.7M141.1 86.3h1.7M142.3 86.8h1.7M124.5 88.2h1.7M127.4 87.7h1.7M128.6 87.9h1.7M129.6 87.7h1.7M131.5 87.6h1.7M132.4 88.1h1.7M134.0 87.7h1.7M135.5 88.1h1.7M136.9 87.7h1.7M138.1 88.0h1.7M143.5 87.9h1.7M157.7 87.6h1.7M122.7 89.2h1.7M124.1 89.2h1.7M126.8 88.9h1.7M129.7 89.5h1.7M132.6 89.0h1.7M133.7 88.9h1.7M138.2 89.4h1.7M139.2 89.0h1.7M121.5 90.9h1.7M122.9 90.3h1.7M124.6 90.8h1.7M125.6 90.3h1.7M127.1 90.5h1.7M128.8 90.3h1.7M130.0 90.2h1.7M130.9 90.8h1.7M132.4 90.6h1.7M133.7 90.7h1.7M135.4 90.6h1.7M124.1 92.2h1.7M126.9 91.6h1.7M128.1 92.0h1.7M129.9 91.8h1.7M132.9 92.2h1.7M133.7 92.2h1.7M135.3 91.9h1.7M136.4 92.1h1.7M139.3 91.7h1.7M142.4 91.7h1.7M143.9 91.9h1.7M153.0 91.9h1.7M122.8 93.1h1.7M124.6 93.5h1.7M125.6 93.2h1.7M127.1 93.6h1.7M129.7 93.6h1.7M131.5 93.4h1.7M132.3 93.5h1.7M137.0 93.5h1.7M139.8 93.3h1.7M127.1 94.7h1.7M128.7 94.7h1.7M130.1 95.0h1.7M132.4 94.9h1.7M134.3 94.7h1.7M135.5 94.6h1.7M136.8 94.8h1.7M143.9 95.0h1.7M122.9 96.0h1.7M128.2 96.0h1.7M129.8 96.2h1.7M131.0 96.2h1.7M132.3 95.7h1.7M135.5 96.2h1.7M125.9 97.6h1.7M126.7 97.5h1.7M128.8 97.3h1.7M131.2 97.6h1.7M132.6 97.8h1.7M135.1 97.1h1.7M139.4 97.2h1.7M124.6 98.6h1.7M128.7 99.1h1.7M131.1 98.9h1.7M132.7 98.8h1.7M135.0 99.1h1.7M139.8 98.6h1.7M129.6 100.3h1.7M135.6 99.9h1.7M139.2 99.9h1.7M140.8 100.4h1.7M132.7 101.7h1.7M134.1 101.2h1.7M138.4 101.8h1.7M134.1 102.8h1.7M138.3 102.8h1.7M128.3 104.2h1.7M134.3 104.0h1.7M135.2 104.3h1.7M142.1 104.3h1.7M131.3 105.6h1.7M133.6 105.4h1.7M135.3 105.6h1.7M139.1 105.6h1.7M140.9 105.5h1.7M143.7 105.8h1.7M132.3 107.1h1.7M133.7 107.4h1.7M135.7 107.1h1.7M138.2 107.3h1.7M139.3 107.1h1.7M142.5 107.3h1.7M128.1 108.2h1.7M132.4 108.2h1.7M138.0 108.7h1.7M139.1 108.7h1.7M140.6 108.4h1.7M142.2 108.6h1.7M143.4 108.2h1.7M128.7 109.7h1.7M131.0 109.9h1.7M132.6 110.1h1.7M133.9 109.7h1.7M135.6 110.1h1.7M139.3 110.1h1.7M141.1 109.7h1.7M142.1 109.7h1.7M147.9 109.7h1.7M135.7 111.2h1.7M136.6 111.3h1.7M138.3 111.3h1.7M139.8 111.3h1.7M141.1 111.2h1.7M142.3 111.2h1.7M129.7 112.4h1.7M131.2 112.4h1.7M132.5 112.2h1.7M133.9 112.6h1.7M136.8 112.6h1.7M139.4 112.8h1.7M141.2 112.8h1.7M142.2 112.9h1.7M144.8 112.5h1.7M135.2 113.9h1.7M139.6 114.1h1.7M140.9 113.8h1.7M142.1 113.8h1.7M143.7 114.1h1.7M144.7 114.0h1.7M147.7 113.9h1.7M149.2 113.6h1.7M128.5 115.5h1.7M132.8 115.2h1.7M135.1 115.4h1.7M136.5 115.4h1.7M138.2 115.2h1.7M139.2 115.6h1.7M140.5 115.0h1.7M142.3 115.2h1.7M143.8 115.6h1.7M145.0 115.3h1.7M146.6 115.3h1.7M149.4 115.6h1.7M154.9 115.5h1.7M157.2 115.1h1.7M128.5 116.5h1.7M130.1 116.6h1.7M131.0 116.7h1.7M133.6 117.0h1.7M135.4 116.7h1.7M137.0 116.8h1.7M137.8 116.8h1.7M139.3 117.0h1.7M141.2 116.7h1.7M143.5 116.5h1.7M146.3 116.9h1.7M147.9 116.9h1.7M149.0 116.4h1.7M150.8 116.8h1.7M131.1 118.0h1.7M132.6 117.7h1.7M133.8 117.8h1.7M135.6 117.8h1.7M137.0 118.1h1.7M138.1 117.9h1.7M139.6 118.1h1.7M141.0 118.1h1.7M142.2 118.4h1.7M143.9 118.1h1.7M144.6 117.8h1.7M146.3 118.3h1.7M149.4 117.8h1.7M150.6 118.3h1.7M151.5 117.8h1.7M154.6 118.4h1.7M135.0 119.2h1.7M138.2 119.5h1.7M141.1 119.2h1.7M142.5 119.5h1.7M143.5 119.1h1.7M144.7 119.4h1.7M147.5 119.3h1.7M148.8 119.7h1.7M150.4 119.7h1.7M151.7 119.2h1.7M153.4 119.5h1.7M157.2 119.4h1.7M132.3 121.0h1.7M133.7 120.9h1.7M135.2 121.1h1.7M138.2 120.8h1.7M140.6 121.0h1.7M142.5 121.0h1.7M143.4 121.0h1.7M144.6 120.6h1.7M147.4 120.6h1.7M149.2 120.6h1.7M151.7 121.0h1.7M157.3 121.0h1.7M136.9 122.2h1.7M138.3 122.2h1.7M139.8 122.2h1.7M140.7 122.0h1.7M142.0 122.5h1.7M143.7 121.9h1.7M145.2 121.9h1.7M146.1 122.1h1.7M148.8 122.0h1.7M150.4 122.0h1.7M151.6 122.3h1.7M154.4 121.9h1.7M158.9 122.3h1.7M135.6 123.8h1.7M145.3 123.4h1.7M146.1 123.6h1.7M147.6 123.7h1.7M149.0 123.5h1.7M150.7 123.8h1.7M151.6 123.3h1.7M153.4 123.3h1.7M154.7 123.2h1.7M155.9 123.4h1.7M157.3 123.3h1.7M160.0 123.7h1.7M134.0 124.9h1.7M137.8 125.0h1.7M139.4 124.8h1.7M143.8 125.2h1.7M145.1 125.1h1.7M146.5 125.3h1.7M148.0 125.3h1.7M148.8 125.1h1.7M150.3 125.1h1.7M151.8 125.0h1.7M152.9 124.7h1.7M154.8 125.2h1.7M155.6 125.0h1.7M161.6 125.1h1.7M134.1 126.3h1.7M140.9 126.1h1.7M142.3 126.3h1.7M143.6 126.6h1.7M144.9 126.7h1.7M146.6 126.3h1.7M148.0 126.6h1.7M148.9 126.3h1.7M150.4 126.6h1.7M151.9 126.1h1.7M153.4 126.3h1.7M154.7 126.5h1.7M155.8 126.5h1.7M157.3 126.6h1.7M159.0 126.0h1.7M160.2 126.4h1.7M169.9 126.3h1.7M136.6 127.3h1.7M142.4 127.8h1.7M144.6 127.9h1.7M149.4 127.5h1.7M150.2 127.4h1.7M154.5 127.5h1.7M155.9 127.8h1.7M157.4 127.8h1.7M159.0 127.5h1.7M160.3 127.6h1.7M162.7 127.9h1.7M165.4 127.9h1.7M167.1 127.4h1.7M136.4 128.8h1.7M139.2 129.2h1.7M143.4 128.8h1.7M146.4 128.8h1.7M150.3 128.9h1.7M153.4 129.4h1.7M154.3 129.3h1.7M156.2 129.2h1.7M157.0 128.9h1.7M160.1 128.9h1.7M165.8 128.7h1.7M168.1 129.3h1.7M142.0 130.5h1.7M145.0 130.3h1.7M146.3 130.3h1.7M147.4 130.6h1.7M149.4 130.1h1.7M150.4 130.5h1.7M151.6 130.8h1.7M152.9 130.7h1.7M154.7 130.4h1.7M157.2 130.3h1.7M158.5 130.3h1.7M160.3 130.8h1.7M161.7 130.5h1.7M162.8 130.1h1.7M165.6 130.1h1.7M167.1 130.4h1.7M141.0 132.2h1.7M144.9 131.7h1.7M146.6 132.1h1.7M149.3 131.9h1.7M150.4 131.6h1.7M152.1 132.0h1.7M152.9 131.5h1.7M157.6 131.8h1.7M158.8 131.8h1.7M161.6 131.9h1.7M164.5 131.5h1.7M167.1 131.5h1.7M146.1 133.4h1.7M150.3 133.0h1.7M151.6 133.5h1.7M153.5 133.4h1.7M154.3 133.0h1.7M161.3 133.5h1.7M164.5 133.1h1.7M146.2 134.4h1.7M147.6 134.3h1.7M150.6 134.4h1.7M152.2 134.9h1.7M155.7 134.8h1.7M158.4 134.8h1.7M165.9 134.8h1.7M153.0 136.0h1.7M154.6 135.7h1.7M160.4 136.0h1.7M161.8 136.1h1.7M153.1 137.6h1.7M154.6 137.4h1.7M156.3 137.4h1.7M157.6 137.0h1.7" stroke="#529cf2" stroke-width="1.7" fill="none"/>
<path d="M146.2 46.5h1.7M151.9 46.4h1.7M152.0 47.8h1.7M152.9 49.4h1.7M151.8 51.9h1.7M155.9 52.1h1.7M153.3 53.3h1.7M157.3 54.8h1.7M143.3 55.9h1.7M159.0 56.5h1.7M159.9 56.5h1.7M162.8 59.1h1.7M158.8 60.6h1.7M164.4 60.6h1.7M168.3 60.2h1.7M160.1 62.0h1.7M161.7 61.9h1.7M163.0 61.4h1.7M165.9 61.7h1.7M167.1 61.5h1.7M169.9 61.6h1.7M155.9 63.2h1.7M157.2 62.8h1.7M158.8 62.7h1.7M160.1 63.0h1.7M165.9 63.2h1.7M167.3 63.4h1.7M157.4 64.1h1.7M158.6 64.8h1.7M159.8 64.6h1.7M161.7 64.6h1.7M163.2 64.6h1.7M164.4 64.1h1.7M165.7 64.5h1.7M167.1 64.8h1.7M154.2 65.7h1.7M160.1 65.8h1.7M161.5 66.0h1.7M164.5 65.7h1.7M165.8 65.6h1.7M170.0 65.9h1.7M157.1 67.5h1.7M159.8 67.2h1.7M161.4 66.9h1.7M165.9 66.9h1.7M166.6 67.5h1.7M168.2 67.0h1.7M154.7 68.6h1.7M155.7 68.8h1.7M158.4 68.3h1.7M160.3 68.8h1.7M161.8 68.2h1.7M162.8 68.7h1.7M165.8 68.6h1.7M153.5 69.8h1.7M154.4 69.9h1.7M157.2 70.1h1.7M158.7 69.9h1.7M160.0 70.0h1.7M161.7 69.9h1.7M155.8 71.4h1.7M157.3 71.0h1.7M158.6 71.4h1.7M160.3 71.4h1.7M162.7 71.0h1.7M165.7 71.6h1.7M146.5 72.4h1.7M155.9 72.7h1.7M157.2 72.5h1.7M158.4 73.0h1.7M160.4 72.7h1.7M150.6 74.1h1.7M155.8 74.2h1.7M158.9 74.0h1.7M160.3 74.4h1.7M161.4 73.8h1.7M163.0 74.4h1.7M146.2 75.2h1.7M158.4 75.5h1.7M160.4 75.7h1.7M161.4 75.5h1.7M146.3 76.9h1.7M152.0 76.6h1.7M157.0 76.9h1.7M147.9 78.4h1.7M150.4 78.1h1.7M157.7 78.1h1.7M159.8 78.1h1.7M149.4 79.9h1.7M150.8 79.4h1.7M147.5 80.6h1.7M154.7 82.6h1.7M165.4 82.0h1.7M168.0 82.1h1.7M197.5 82.0h1.7M150.3 83.4h1.7M160.2 83.4h1.7M165.3 83.4h1.7M166.9 83.6h1.7M170.8 83.7h1.7M201.6 83.4h1.7M158.5 84.8h1.7M150.8 86.7h1.7M162.6 86.8h1.7M164.2 86.7h1.7M168.6 86.1h1.7M171.2 86.1h1.7M196.9 86.4h1.7M198.9 86.5h1.7M162.7 87.8h1.7M164.5 88.1h1.7M165.6 87.7h1.7M174.0 87.6h1.7M175.6 87.7h1.7M204.2 87.5h1.7M158.8 89.0h1.7M161.4 89.5h1.7M166.7 89.1h1.7M168.0 89.1h1.7M170.0 88.9h1.7M203.0 89.1h1.7M160.0 90.4h1.7M174.0 90.3h1.7M168.2 93.1h1.7M169.5 93.3h1.7M170.9 93.2h1.7M195.8 93.0h1.7M201.2 95.8h1.7M195.9 97.5h1.7M197.0 100.4h1.7M198.6 99.9h1.7M197.3 101.7h1.7M204.3 101.4h1.7M194.2 103.2h1.7M196.9 102.7h1.7M198.4 102.7h1.7M203.7 103.0h1.7M194.6 104.2h1.7M198.7 104.2h1.7M190.5 105.7h1.7M196.2 105.8h1.7M198.9 105.7h1.7M199.7 105.6h1.7M201.0 105.6h1.7M190.2 107.1h1.7M195.7 107.3h1.7M197.1 106.8h1.7M198.4 106.9h1.7M200.3 107.2h1.7M187.4 108.3h1.7M194.4 108.7h1.7M195.8 108.3h1.7M197.0 108.1h1.7M198.5 108.6h1.7M201.5 108.6h1.7M186.5 110.1h1.7M194.2 110.1h1.7M195.6 109.7h1.7M197.5 110.2h1.7M198.4 109.7h1.7M199.8 109.9h1.7M201.2 109.7h1.7M202.6 110.1h1.7M204.3 110.1h1.7M183.7 110.9h1.7M187.4 110.9h1.7M188.8 111.3h1.7M190.5 110.9h1.7M192.0 111.3h1.7M193.4 110.9h1.7M194.4 111.4h1.7M196.1 111.0h1.7M197.5 111.5h1.7M198.6 111.4h1.7M200.3 110.9h1.7M183.3 112.7h1.7M185.2 112.6h1.7M186.0 112.6h1.7M187.6 112.5h1.7M189.2 112.7h1.7M190.2 112.3h1.7M191.4 112.9h1.7M193.2 112.4h1.7M194.6 112.9h1.7M197.2 112.4h1.7M175.1 114.3h1.7M176.6 114.0h1.7M182.4 113.9h1.7M185.0 114.2h1.7M186.0 114.2h1.7M187.6 113.8h1.7M188.9 113.7h1.7M190.2 114.1h1.7M191.8 113.7h1.7M193.4 113.9h1.7M196.1 114.1h1.7M197.5 114.1h1.7M198.4 113.7h1.7M201.6 114.0h1.7M181.9 115.6h1.7M186.2 115.6h1.7M187.8 115.3h1.7M188.7 115.7h1.7M190.0 115.3h1.7M192.0 115.1h1.7M193.3 115.0h1.7M194.8 115.3h1.7M195.7 115.3h1.7M197.6 115.7h1.7M198.5 115.3h1.7M199.8 115.6h1.7M174.2 116.7h1.7M176.7 116.5h1.7M179.6 116.4h1.7M185.1 117.0h1.7M186.4 116.5h1.7M187.3 116.5h1.7M188.7 116.9h1.7M190.7 116.6h1.7M191.4 116.7h1.7M192.9 116.9h1.7M194.7 116.9h1.7M195.5 116.8h1.7M196.9 116.5h1.7M198.5 116.8h1.7M172.3 117.8h1.7M175.4 118.4h1.7M176.4 118.0h1.7M178.2 118.1h1.7M179.7 117.9h1.7M183.4 117.9h1.7M185.1 118.0h1.7M185.9 118.1h1.7M187.7 118.4h1.7M188.7 118.1h1.7M190.1 118.1h1.7M191.8 118.4h1.7M193.2 117.9h1.7M194.7 118.0h1.7M195.5 117.7h1.7M197.3 118.0h1.7M198.7 118.0h1.7M172.6 119.2h1.7M173.7 119.8h1.7M175.1 119.8h1.7M176.6 119.6h1.7M184.9 119.1h1.7M186.5 119.6h1.7M187.7 119.5h1.7M188.9 119.3h1.7M190.5 119.6h1.7M191.6 119.5h1.7M193.0 119.4h1.7M196.1 119.2h1.7M197.4 119.7h1.7M175.4 121.0h1.7M176.5 121.0h1.7M179.1 121.0h1.7M184.6 120.7h1.7M186.3 120.5h1.7M187.4 120.6h1.7M189.1 121.0h1.7M190.1 121.0h1.7M191.4 120.5h1.7M193.4 121.1h1.7M194.2 120.6h1.7M198.6 121.1h1.7M175.1 121.9h1.7M176.7 122.0h1.7M177.7 122.4h1.7M185.1 122.4h1.7M193.2 122.2h1.7M196.1 122.0h1.7M198.3 122.2h1.7M179.1 123.9h1.7M189.3 123.8h1.7M192.8 123.7h1.7M173.6 126.4h1.7M179.2 129.0h1.7" stroke="#e8403a" stroke-width="1.7" fill="none"/>
<path d="M272.5 34.2h1.7M268.1 38.1h1.7M272.7 39.7h1.7M272.3 40.8h1.7M275.1 41.3h1.7M281.9 41.1h1.7M284.5 41.0h1.7M273.6 42.7h1.7M283.4 42.5h1.7M266.8 43.7h1.7M286.3 44.1h1.7M275.5 45.0h1.7M280.9 45.5h1.7M282.0 45.1h1.7M284.8 45.3h1.7M286.3 44.9h1.7M288.7 45.1h1.7M298.6 44.9h1.7M301.5 45.5h1.7M273.6 46.5h1.7M279.2 46.8h1.7M281.8 46.5h1.7M284.5 46.6h1.7M286.4 46.6h1.7M287.5 46.8h1.7M289.1 46.6h1.7M295.5 46.4h1.7M269.5 47.9h1.7M273.6 48.2h1.7M275.5 48.1h1.7M279.2 47.7h1.7M281.8 48.1h1.7M283.2 47.7h1.7M284.8 48.1h1.7M286.4 48.2h1.7M287.5 47.9h1.7M292.8 48.0h1.7M273.5 49.0h1.7M276.9 49.1h1.7M278.0 49.4h1.7M280.4 49.2h1.7M282.4 49.3h1.7M283.2 49.4h1.7M285.0 49.2h1.7M286.4 49.5h1.7M287.9 49.1h1.7M292.8 49.5h1.7M297.1 49.3h1.7M298.4 49.4h1.7M279.3 50.3h1.7M280.4 50.5h1.7M282.0 50.4h1.7M283.5 50.7h1.7M284.6 50.7h1.7M286.2 50.9h1.7M287.8 51.0h1.7M290.6 51.0h1.7M292.0 50.5h1.7M296.0 50.7h1.7M296.9 50.4h1.7M275.0 52.3h1.7M278.3 52.0h1.7M279.2 52.1h1.7M281.0 52.4h1.7M282.4 51.9h1.7M283.4 52.0h1.7M285.1 51.7h1.7M286.2 52.1h1.7M287.9 52.2h1.7M289.3 51.9h1.7M290.7 52.0h1.7M292.0 52.1h1.7M296.1 52.2h1.7M297.1 52.0h1.7M298.4 51.7h1.7M300.2 52.4h1.7M266.7 53.2h1.7M275.4 53.5h1.7M277.9 53.6h1.7M279.3 53.2h1.7M280.5 53.6h1.7M282.3 53.1h1.7M283.6 53.3h1.7M285.1 53.3h1.7M286.3 53.6h1.7M287.4 53.1h1.7M288.7 53.3h1.7M295.6 53.7h1.7M300.3 53.8h1.7M245.1 55.2h1.7M247.5 54.6h1.7M248.9 54.8h1.7M279.3 54.7h1.7M280.9 55.1h1.7M281.9 55.0h1.7M283.7 55.1h1.7M284.6 54.7h1.7M286.5 54.6h1.7M287.6 55.2h1.7M288.9 55.1h1.7M290.0 54.8h1.7M291.9 55.0h1.7M295.5 54.5h1.7M299.8 55.1h1.7M273.5 56.3h1.7M274.9 56.3h1.7M278.1 56.5h1.7M279.0 56.2h1.7M280.4 55.9h1.7M281.8 55.9h1.7M283.2 56.5h1.7M284.9 56.0h1.7M285.9 55.9h1.7M287.6 55.9h1.7M289.2 55.9h1.7M290.5 56.0h1.7M292.0 56.1h1.7M293.3 56.2h1.7M297.5 56.1h1.7M298.6 55.9h1.7M275.3 57.7h1.7M278.3 57.8h1.7M279.4 57.6h1.7M280.6 57.3h1.7M282.3 57.8h1.7M283.5 57.3h1.7M285.2 57.8h1.7M286.5 57.8h1.7M287.9 57.6h1.7M288.7 57.6h1.7M290.1 57.6h1.7M291.5 57.5h1.7M292.8 57.6h1.7M294.6 57.5h1.7M296.0 57.4h1.7M297.0 57.5h1.7M301.6 57.8h1.7M254.9 59.3h1.7M272.7 58.9h1.7M275.1 59.1h1.7M280.6 58.7h1.7M281.9 58.7h1.7M283.5 58.6h1.7M284.6 58.6h1.7M285.9 58.7h1.7M287.3 58.6h1.7M289.3 59.0h1.7M290.0 58.9h1.7M291.9 58.8h1.7M293.3 59.2h1.7M295.9 58.9h1.7M298.4 58.7h1.7M303.0 58.7h1.7M250.7 60.4h1.7M274.1 60.6h1.7M276.3 60.0h1.7M278.0 60.0h1.7M279.5 60.3h1.7M280.8 60.1h1.7M282.3 60.5h1.7M283.8 60.0h1.7M284.7 60.6h1.7M286.6 60.6h1.7M287.2 60.6h1.7M289.0 60.0h1.7M290.4 60.5h1.7M291.5 60.5h1.7M292.8 60.0h1.7M294.7 60.1h1.7M296.0 60.6h1.7M297.3 60.5h1.7M302.7 60.3h1.7M303.9 60.2h1.7M257.1 61.7h1.7M275.2 62.0h1.7M280.7 61.9h1.7M282.1 61.6h1.7M283.7 61.4h1.7M285.0 61.9h1.7M286.2 61.8h1.7M287.5 61.6h1.7M289.3 62.0h1.7M290.2 62.0h1.7M291.6 61.4h1.7M293.3 61.4h1.7M294.6 61.9h1.7M295.5 61.8h1.7M300.0 61.8h1.7M303.0 61.4h1.7M261.5 62.9h1.7M277.9 63.2h1.7M279.1 63.2h1.7M281.8 62.9h1.7M283.7 63.1h1.7M285.2 63.3h1.7M286.2 62.8h1.7M287.3 62.9h1.7M288.8 62.9h1.7M290.1 63.3h1.7M292.0 62.8h1.7M293.0 63.0h1.7M294.6 63.4h1.7M295.6 63.1h1.7M297.2 63.2h1.7M298.5 62.8h1.7M300.2 63.0h1.7M301.1 63.2h1.7M277.7 64.2h1.7M282.1 64.5h1.7M284.8 64.1h1.7M286.2 64.1h1.7M287.4 64.7h1.7M288.8 64.4h1.7M290.4 64.7h1.7M292.0 64.1h1.7M293.1 64.4h1.7M294.5 64.5h1.7M296.0 64.1h1.7M297.1 64.2h1.7M298.3 64.7h1.7M299.7 64.3h1.7M301.1 64.4h1.7M302.7 64.7h1.7M305.7 64.3h1.7M306.7 64.8h1.7M253.0 65.7h1.7M256.3 65.9h1.7M257.2 65.7h1.7M281.8 66.1h1.7M283.3 66.1h1.7M285.1 65.9h1.7M286.2 66.0h1.7M287.3 65.9h1.7M288.9 66.1h1.7M290.1 66.1h1.7M291.4 66.0h1.7M293.1 66.1h1.7M294.5 66.0h1.7M296.1 66.1h1.7M297.2 65.9h1.7M298.9 66.1h1.7M300.3 65.5h1.7M302.7 65.7h1.7M305.2 66.1h1.7M312.1 65.9h1.7M314.0 65.7h1.7M258.9 67.1h1.7M276.9 67.0h1.7M281.0 67.3h1.7M282.0 66.9h1.7M283.3 67.0h1.7M285.1 67.3h1.7M285.9 67.5h1.7M287.3 67.3h1.7M288.7 67.2h1.7M290.1 67.1h1.7M292.0 66.9h1.7M293.1 67.4h1.7M294.4 67.2h1.7M296.1 67.1h1.7M297.2 67.3h1.7M298.3 67.0h1.7M299.8 67.2h1.7M304.1 67.1h1.7M305.2 67.1h1.7M306.8 67.5h1.7M308.4 66.8h1.7M313.8 67.2h1.7M314.8 67.5h1.7M316.3 67.0h1.7M231.2 68.2h1.7M233.8 68.4h1.7M257.5 68.6h1.7M276.6 68.7h1.7M277.7 68.4h1.7M279.6 68.8h1.7M280.7 68.5h1.7M281.8 68.8h1.7M283.5 68.9h1.7M285.1 68.6h1.7M286.0 68.3h1.7M287.6 68.4h1.7M288.9 68.4h1.7M290.5 68.7h1.7M292.0 68.4h1.7M293.3 68.6h1.7M294.4 68.6h1.7M296.1 68.9h1.7M297.0 68.9h1.7M298.8 68.9h1.7M299.7 68.9h1.7M301.2 68.6h1.7M302.6 68.8h1.7M304.1 68.4h1.7M309.6 68.8h1.7M312.6 68.4h1.7M313.8 68.7h1.7M316.6 68.2h1.7M230.1 70.0h1.7M250.5 70.2h1.7M274.1 69.6h1.7M277.8 69.9h1.7M279.6 70.0h1.7M280.7 70.3h1.7M282.1 70.3h1.7M283.4 70.3h1.7M285.1 69.9h1.7M286.5 69.8h1.7M287.5 69.7h1.7M288.7 69.7h1.7M290.4 69.7h1.7M292.0 69.6h1.7M292.9 69.6h1.7M294.4 69.7h1.7M295.6 70.0h1.7M297.1 70.1h1.7M298.7 69.9h1.7M299.8 70.1h1.7M301.0 69.9h1.7M302.9 69.8h1.7M304.2 69.8h1.7M305.6 69.7h1.7M306.6 69.6h1.7M310.9 70.1h1.7M246.0 71.2h1.7M251.6 71.3h1.7M258.5 71.4h1.7M260.1 71.6h1.7M280.8 71.3h1.7M282.0 71.0h1.7M283.7 71.4h1.7M284.5 71.7h1.7M286.0 71.5h1.7M287.9 71.2h1.7M289.0 71.3h1.7M290.2 71.6h1.7M291.5 71.6h1.7M293.4 71.3h1.7M294.3 71.0h1.7M296.0 71.5h1.7M298.5 71.3h1.7M299.8 71.6h1.7M301.1 71.0h1.7M302.7 71.3h1.7M304.2 71.2h1.7M305.5 71.2h1.7M306.9 71.1h1.7M308.5 71.0h1.7M309.4 71.2h1.7M310.7 71.4h1.7M313.5 71.0h1.7M316.2 71.2h1.7M251.8 72.5h1.7M257.6 72.6h1.7M258.6 72.3h1.7M279.6 72.8h1.7M280.5 72.7h1.7M282.0 72.4h1.7M283.3 72.9h1.7M284.5 72.9h1.7M285.9 72.5h1.7M287.5 72.4h1.7M289.0 72.5h1.7M290.5 73.0h1.7M291.7 72.5h1.7M293.0 72.8h1.7M294.8 72.6h1.7M296.1 72.3h1.7M297.3 72.9h1.7M298.8 72.9h1.7M300.1 72.4h1.7M301.3 72.7h1.7M302.5 72.3h1.7M304.4 72.4h1.7M305.2 72.7h1.7M307.1 72.4h1.7M308.3 72.5h1.7M312.1 72.8h1.7M315.4 72.6h1.7M246.4 73.8h1.7M247.9 74.2h1.7M250.5 74.2h1.7M251.7 74.0h1.7M253.4 74.1h1.7M255.9 74.0h1.7M275.4 73.8h1.7M276.8 74.0h1.7M278.1 73.8h1.7M279.6 73.7h1.7M280.7 74.3h1.7M281.7 74.4h1.7M283.6 74.2h1.7M284.8 74.1h1.7M286.0 74.0h1.7M287.2 74.2h1.7M288.9 73.8h1.7M290.0 74.1h1.7M291.5 74.2h1.7M293.2 73.7h1.7M294.6 73.8h1.7M296.1 74.1h1.7M297.2 74.2h1.7M298.4 73.8h1.7M300.1 73.9h1.7M301.6 73.9h1.7M302.5 73.8h1.7M304.0 74.3h1.7M305.3 74.3h1.7M306.9 74.2h1.7M308.1 73.7h1.7M310.9 74.2h1.7M312.1 74.1h1.7M313.4 73.9h1.7M315.0 74.0h1.7M248.0 75.3h1.7M250.5 75.5h1.7M253.3 75.6h1.7M254.9 75.2h1.7M255.6 75.7h1.7M257.4 75.2h1.7M261.2 75.5h1.7M262.7 75.6h1.7M276.4 75.8h1.7M277.8 75.6h1.7M279.1 75.5h1.7M280.5 75.8h1.7M282.4 75.5h1.7M283.7 75.3h1.7M284.9 75.4h1.7M286.3 75.1h1.7M287.3 75.7h1.7M289.2 75.1h1.7M290.4 75.1h1.7M291.4 75.7h1.7M292.7 75.2h1.7M294.2 75.1h1.7M295.6 75.1h1.7M297.1 75.6h1.7M298.5 75.2h1.7M299.6 75.5h1.7M301.0 75.2h1.7M302.7 75.4h1.7M304.2 75.3h1.7M305.2 75.5h1.7M307.9 75.3h1.7M309.5 75.2h1.7M310.6 75.5h1.7M312.5 75.2h1.7M313.8 75.2h1.7M319.5 75.6h1.7M320.8 75.7h1.7M249.3 77.1h1.7M252.1 77.0h1.7M256.2 76.9h1.7M258.4 77.0h1.7M264.4 76.6h1.7M273.8 76.5h1.7M276.9 77.0h1.7M277.7 76.7h1.7M279.5 77.0h1.7M280.4 77.1h1.7M282.4 76.7h1.7M283.4 76.9h1.7M285.1 77.1h1.7M286.5 76.9h1.7M287.8 76.8h1.7M289.1 76.6h1.7M290.0 76.5h1.7M291.5 76.6h1.7M293.0 76.6h1.7M294.1 77.1h1.7M295.9 76.9h1.7M298.8 76.7h1.7M300.0 76.7h1.7M301.3 76.9h1.7M302.5 77.2h1.7M304.2 77.0h1.7M306.6 76.9h1.7M308.5 76.7h1.7M309.8 76.7h1.7M310.8 76.9h1.7M312.1 76.9h1.7M245.1 78.2h1.7M246.7 78.4h1.7M247.7 78.0h1.7M250.5 77.9h1.7M253.5 78.3h1.7M256.0 78.0h1.7M259.0 78.5h1.7M263.9 78.4h1.7M276.8 78.2h1.7M278.0 78.0h1.7M279.2 77.9h1.7M280.8 78.3h1.7M282.3 78.4h1.7M283.1 78.5h1.7M284.8 78.0h1.7M286.2 78.3h1.7M287.6 78.5h1.7M289.1 78.5h1.7M290.3 78.1h1.7M291.6 77.9h1.7M293.1 78.5h1.7M294.5 78.4h1.7M295.8 78.2h1.7M297.3 78.3h1.7M298.6 78.2h1.7M300.2 78.5h1.7M301.5 78.5h1.7M302.4 78.5h1.7M303.9 77.9h1.7M305.2 78.4h1.7M306.6 78.5h1.7M308.2 78.2h1.7M309.4 78.2h1.7M311.2 78.2h1.7M312.5 78.3h1.7M313.9 78.2h1.7M315.3 78.1h1.7M317.9 77.9h1.7M320.5 78.5h1.7M244.7 79.7h1.7M251.6 79.3h1.7M253.1 79.6h1.7M254.8 79.6h1.7M257.1 79.4h1.7M258.7 79.8h1.7M261.1 79.6h1.7M262.6 79.3h1.7M279.2 79.4h1.7M280.9 79.6h1.7M282.3 79.7h1.7M283.3 79.5h1.7M284.9 79.8h1.7M286.5 79.3h1.7M287.4 79.4h1.7M289.0 79.8h1.7M290.6 79.7h1.7M291.4 79.6h1.7M293.3 79.7h1.7M294.6 79.9h1.7M295.5 79.6h1.7M297.5 79.2h1.7M298.9 79.6h1.7M300.1 79.5h1.7M301.3 79.5h1.7M303.0 79.9h1.7M303.7 79.7h1.7M305.3 79.2h1.7M307.0 79.4h1.7M308.3 79.8h1.7M309.4 79.7h1.7M311.1 79.6h1.7M312.4 79.9h1.7M314.0 79.7h1.7M314.8 79.8h1.7M243.3 81.1h1.7M247.4 81.2h1.7M250.1 81.2h1.7M252.1 80.9h1.7M253.0 81.2h1.7M254.4 80.7h1.7M255.9 81.2h1.7M257.2 81.2h1.7M260.0 80.8h1.7M265.3 80.6h1.7M279.5 80.6h1.7M282.4 80.8h1.7M283.1 80.8h1.7M285.0 81.0h1.7M286.1 80.9h1.7M287.7 81.2h1.7M288.8 80.8h1.7M290.3 81.0h1.7M291.7 80.7h1.7M293.2 80.8h1.7M294.6 80.7h1.7M295.8 80.9h1.7M297.5 81.3h1.7M298.9 80.6h1.7M300.0 80.7h1.7M301.1 80.7h1.7M302.9 81.1h1.7M304.0 80.6h1.7M305.7 80.9h1.7M306.7 81.2h1.7M308.3 80.6h1.7M309.8 80.8h1.7M313.8 81.2h1.7M317.8 81.3h1.7M319.2 81.2h1.7M246.5 82.2h1.7M247.8 82.4h1.7M249.2 82.1h1.7M250.7 82.6h1.7M251.9 82.2h1.7M252.9 82.2h1.7M256.2 82.5h1.7M257.5 82.6h1.7M260.0 82.1h1.7M261.2 82.6h1.7M262.8 82.2h1.7M280.7 82.3h1.7M282.0 82.1h1.7M283.8 82.6h1.7M284.5 82.3h1.7M285.9 82.3h1.7M287.8 82.4h1.7M288.9 82.3h1.7M291.8 82.5h1.7M292.7 82.1h1.7M294.2 82.1h1.7M295.6 82.0h1.7M297.1 82.1h1.7M298.6 82.0h1.7M300.0 82.6h1.7M301.7 82.0h1.7M302.5 82.4h1.7M304.1 82.2h1.7M305.3 82.2h1.7M307.0 82.2h1.7M308.1 82.5h1.7M309.5 82.2h1.7M315.2 82.0h1.7M247.7 83.7h1.7M250.5 83.7h1.7M254.6 83.8h1.7M256.2 83.5h1.7M261.6 83.5h1.7M279.6 84.0h1.7M282.1 83.8h1.7M283.5 83.6h1.7M284.8 83.8h1.7M286.3 83.5h1.7M287.7 83.8h1.7M288.7 83.7h1.7M290.1 83.8h1.7M291.9 83.8h1.7M293.0 83.7h1.7M294.7 84.0h1.7M295.5 83.5h1.7M297.4 83.4h1.7M298.7 83.6h1.7M300.2 83.7h1.7M301.1 83.4h1.7M302.5 83.7h1.7M303.8 83.7h1.7M305.7 83.4h1.7M306.6 83.5h1.7M308.2 83.4h1.7M310.8 83.6h1.7M312.1 83.4h1.7M315.2 83.9h1.7M316.1 83.4h1.7M247.4 85.0h1.7M250.3 84.8h1.7M251.9 84.8h1.7M253.2 85.1h1.7M254.5 85.0h1.7M256.2 85.2h1.7M257.4 84.8h1.7M258.8 85.0h1.7M278.0 85.0h1.7M279.7 84.8h1.7M280.8 85.1h1.7M282.0 85.2h1.7M283.2 85.1h1.7M285.1 84.7h1.7M286.1 85.4h1.7M287.5 85.3h1.7M289.1 85.1h1.7M290.5 84.8h1.7M292.0 84.8h1.7M293.0 84.9h1.7M294.5 84.9h1.7M296.2 85.2h1.7M297.1 84.8h1.7M298.9 85.3h1.7M300.1 85.2h1.7M301.1 84.9h1.7M302.7 84.8h1.7M304.1 85.3h1.7M306.8 84.8h1.7M308.4 85.0h1.7M309.8 85.1h1.7M311.0 84.9h1.7M312.2 85.0h1.7M246.5 86.3h1.7M247.9 86.2h1.7M251.6 86.7h1.7M253.5 86.3h1.7M254.5 86.1h1.7M255.7 86.3h1.7M257.4 86.3h1.7M258.8 86.7h1.7M270.0 86.6h1.7M278.2 86.6h1.7M279.4 86.4h1.7M280.5 86.1h1.7M282.3 86.4h1.7M283.7 86.6h1.7M284.5 86.3h1.7M286.4 86.3h1.7M287.9 86.7h1.7M288.7 86.6h1.7M290.6 86.1h1.7M291.6 86.6h1.7M293.1 86.2h1.7M294.6 86.7h1.7M295.8 86.6h1.7M297.2 86.2h1.7M298.4 86.5h1.7M299.7 86.5h1.7M301.4 86.1h1.7M303.0 86.6h1.7M304.4 86.2h1.7M305.5 86.1h1.7M306.8 86.6h1.7M307.9 86.4h1.7M309.3 86.6h1.7M311.3 86.8h1.7M312.3 86.6h1.7M318.0 86.4h1.7M249.1 87.9h1.7M253.0 87.6h1.7M254.3 88.1h1.7M255.6 88.1h1.7M266.7 87.8h1.7M268.1 87.8h1.7M276.6 87.5h1.7M280.8 88.2h1.7M282.3 87.7h1.7M283.6 87.7h1.7M284.8 87.6h1.7M286.4 88.1h1.7M287.7 88.0h1.7M288.9 87.5h1.7M290.4 87.6h1.7M291.4 88.1h1.7M292.8 87.5h1.7M294.5 87.8h1.7M295.6 87.6h1.7M297.0 87.5h1.7M298.9 88.2h1.7M300.3 87.6h1.7M301.3 87.9h1.7M302.5 87.7h1.7M304.3 88.0h1.7M305.3 87.6h1.7M306.6 87.8h1.7M308.3 87.8h1.7M309.6 87.8h1.7M311.0 87.9h1.7M312.4 88.1h1.7M246.4 89.2h1.7M247.9 89.1h1.7M249.0 89.1h1.7M250.3 89.0h1.7M254.4 89.2h1.7M255.8 89.2h1.7M257.3 89.2h1.7M258.9 89.1h1.7M259.9 89.4h1.7M261.4 89.1h1.7M268.5 89.4h1.7M274.0 89.5h1.7M276.5 89.1h1.7M279.5 89.2h1.7M280.4 88.9h1.7M281.8 89.1h1.7M283.6 89.0h1.7M284.7 89.4h1.7M286.5 89.5h1.7M287.7 89.3h1.7M289.1 89.0h1.7M290.6 89.0h1.7M292.0 89.5h1.7M293.2 89.0h1.7M294.4 89.0h1.7M296.0 89.0h1.7M297.0 88.9h1.7M298.8 89.4h1.7M299.8 88.9h1.7M301.6 89.1h1.7M302.8 89.5h1.7M303.9 89.3h1.7M305.4 89.1h1.7M306.8 89.5h1.7M307.9 89.1h1.7M309.3 89.3h1.7M310.9 89.0h1.7M313.8 89.5h1.7M315.1 88.9h1.7M245.2 90.2h1.7M247.8 90.4h1.7M249.3 90.9h1.7M252.1 90.3h1.7M265.3 90.3h1.7M273.8 90.3h1.7M276.7 90.7h1.7M277.9 90.3h1.7M280.5 90.3h1.7M282.4 90.3h1.7M283.3 90.9h1.7M284.8 90.7h1.7M286.3 90.9h1.7M287.6 90.7h1.7M288.8 90.4h1.7M290.3 90.4h1.7M291.8 90.3h1.7M293.1 90.6h1.7M294.8 90.4h1.7M295.6 90.5h1.7M297.2 90.4h1.7M298.3 90.4h1.7M300.3 90.9h1.7M301.7 90.8h1.7M303.0 90.4h1.7M304.1 90.4h1.7M305.6 90.5h1.7M307.0 90.2h1.7M308.5 90.9h1.7M309.7 90.3h1.7M312.0 90.7h1.7M315.1 90.4h1.7M317.8 90.7h1.7M249.0 91.7h1.7M252.0 91.9h1.7M253.0 92.2h1.7M254.6 91.9h1.7M257.1 91.9h1.7M258.4 91.8h1.7M262.7 91.8h1.7M264.5 92.2h1.7M266.9 92.0h1.7M268.0 92.2h1.7M273.9 91.9h1.7M275.5 92.0h1.7M278.2 92.3h1.7M279.3 91.7h1.7M281.0 92.1h1.7M282.4 91.7h1.7M283.5 92.1h1.7M284.8 92.0h1.7M286.0 92.1h1.7M287.5 92.2h1.7M288.9 92.0h1.7M290.3 92.2h1.7M291.8 91.9h1.7M293.1 92.1h1.7M294.8 92.1h1.7M296.2 92.1h1.7M297.1 91.7h1.7M298.7 91.6h1.7M299.9 91.7h1.7M301.7 92.0h1.7M302.5 91.6h1.7M304.3 92.0h1.7M305.6 91.8h1.7M306.9 92.0h1.7M308.4 91.8h1.7M309.6 91.8h1.7M310.6 92.1h1.7M319.3 92.0h1.7M245.1 93.1h1.7M246.1 93.1h1.7M247.7 93.2h1.7M251.8 93.6h1.7M252.9 93.1h1.7M254.6 93.2h1.7M256.1 93.4h1.7M257.6 93.2h1.7M260.2 93.2h1.7M261.1 93.3h1.7M263.0 93.5h1.7M266.8 93.5h1.7M268.2 93.2h1.7M269.9 93.2h1.7M272.4 93.3h1.7M273.5 93.6h1.7M275.3 93.5h1.7M276.4 93.3h1.7M277.7 93.6h1.7M279.1 93.0h1.7M280.4 93.2h1.7M281.9 93.5h1.7M283.6 93.5h1.7M284.5 93.1h1.7M286.3 93.2h1.7M287.3 93.0h1.7M288.6 93.2h1.7M290.2 93.3h1.7M291.9 93.1h1.7M293.0 93.1h1.7M294.6 93.6h1.7M295.8 93.3h1.7M297.0 93.4h1.7M298.2 93.4h1.7M300.1 93.2h1.7M301.3 93.2h1.7M302.6 93.1h1.7M304.1 93.2h1.7M305.3 93.2h1.7M306.9 93.5h1.7M308.4 93.1h1.7M309.3 93.2h1.7M310.9 93.3h1.7M312.3 93.3h1.7M314.9 93.5h1.7M245.0 94.7h1.7M247.7 94.9h1.7M250.2 94.8h1.7M252.0 94.9h1.7M253.0 94.4h1.7M254.4 94.4h1.7M256.0 95.0h1.7M257.1 95.0h1.7M258.8 94.8h1.7M259.7 94.6h1.7M261.4 94.9h1.7M264.2 94.6h1.7M265.6 94.7h1.7M266.8 94.8h1.7M268.6 94.4h1.7M269.4 94.8h1.7M270.9 94.9h1.7M273.9 94.7h1.7M275.3 94.7h1.7M276.9 94.6h1.7M279.6 94.5h1.7M280.6 94.6h1.7M282.1 94.4h1.7M283.6 94.6h1.7M285.0 94.9h1.7M285.9 94.4h1.7M287.4 94.4h1.7M289.0 94.9h1.7M290.2 94.7h1.7M292.0 94.5h1.7M293.0 94.9h1.7M294.4 94.5h1.7M296.1 94.4h1.7M297.2 95.0h1.7M298.9 94.5h1.7M299.7 94.7h1.7M301.3 94.5h1.7M303.0 94.8h1.7M304.1 94.5h1.7M305.6 94.5h1.7M306.8 94.6h1.7M308.3 94.4h1.7M309.5 94.7h1.7M311.1 94.4h1.7M312.1 94.8h1.7M243.3 96.1h1.7M251.6 96.0h1.7M253.5 96.2h1.7M254.5 95.7h1.7M255.9 96.0h1.7M257.4 96.0h1.7M258.9 96.0h1.7M259.8 96.1h1.7M261.5 95.7h1.7M264.2 96.4h1.7M265.3 96.0h1.7M267.0 96.0h1.7M268.4 95.7h1.7M269.9 96.2h1.7M271.4 95.8h1.7M272.8 96.0h1.7M273.6 96.0h1.7M275.4 96.3h1.7M276.9 96.1h1.7M278.3 96.0h1.7M279.1 95.8h1.7M281.0 95.9h1.7M281.8 96.4h1.7M283.8 96.0h1.7M284.5 96.0h1.7M286.2 96.1h1.7M287.6 96.3h1.7M289.1 96.0h1.7M290.3 96.2h1.7M291.9 96.3h1.7M293.2 96.4h1.7M294.6 95.9h1.7M295.9 95.8h1.7M297.3 95.8h1.7M298.3 96.1h1.7M299.6 96.3h1.7M301.5 96.0h1.7M302.7 96.4h1.7M304.4 96.1h1.7M305.3 96.2h1.7M306.5 96.4h1.7M308.3 96.2h1.7M311.1 96.1h1.7M312.2 95.9h1.7M244.7 97.6h1.7M250.3 97.6h1.7M252.0 97.2h1.7M253.3 97.7h1.7M254.4 97.3h1.7M255.9 97.8h1.7M257.6 97.7h1.7M258.9 97.2h1.7M260.4 97.4h1.7M261.7 97.4h1.7M262.7 97.7h1.7M264.2 97.6h1.7M265.4 97.6h1.7M267.1 97.3h1.7M268.7 97.4h1.7M269.7 97.6h1.7M271.4 97.5h1.7M272.4 97.7h1.7M274.1 97.7h1.7M275.1 97.7h1.7M276.8 97.3h1.7M278.0 97.6h1.7M279.0 97.2h1.7M280.9 97.4h1.7M282.4 97.5h1.7M283.7 97.6h1.7M284.8 97.2h1.7M286.5 97.2h1.7M287.4 97.3h1.7M289.0 97.3h1.7M290.7 97.1h1.7M292.0 97.3h1.7M293.3 97.3h1.7M294.8 97.2h1.7M296.1 97.3h1.7M297.5 97.7h1.7M298.7 97.5h1.7M300.0 97.6h1.7M301.1 97.7h1.7M303.0 97.6h1.7M303.8 97.3h1.7M305.3 97.6h1.7M306.9 97.5h1.7M309.8 97.7h1.7M314.7 97.1h1.7M316.4 97.1h1.7M250.2 98.7h1.7M254.4 99.0h1.7M256.0 98.7h1.7M257.1 99.0h1.7M258.7 98.8h1.7M260.0 98.7h1.7M261.7 99.1h1.7M262.6 98.7h1.7M264.1 98.7h1.7M265.5 98.9h1.7M266.7 98.8h1.7M268.6 99.1h1.7M270.0 99.0h1.7M271.1 99.1h1.7M272.4 98.6h1.7M273.6 98.9h1.7M275.5 98.5h1.7M276.6 99.1h1.7M278.2 98.7h1.7M279.3 98.6h1.7M281.0 99.1h1.7M282.2 98.6h1.7M283.4 99.1h1.7M284.8 98.7h1.7M285.9 98.7h1.7M287.8 98.8h1.7M289.2 98.5h1.7M290.1 98.6h1.7M292.0 98.6h1.7M293.2 99.1h1.7M294.8 98.5h1.7M295.9 98.6h1.7M297.1 98.7h1.7M298.4 99.0h1.7M299.8 99.1h1.7M301.0 99.0h1.7M302.6 98.7h1.7M304.3 98.9h1.7M307.1 99.0h1.7M308.0 98.6h1.7M309.6 98.9h1.7M316.4 98.9h1.7M247.8 100.5h1.7M250.5 100.5h1.7M251.8 99.9h1.7M253.3 100.4h1.7M254.3 100.0h1.7M256.0 99.9h1.7M257.4 100.5h1.7M258.8 100.3h1.7M260.1 100.1h1.7M261.3 100.3h1.7M262.9 100.3h1.7M264.3 100.4h1.7M265.6 100.3h1.7M266.9 100.0h1.7M268.2 100.2h1.7M269.6 100.3h1.7M271.3 100.4h1.7M272.7 100.3h1.7M273.6 99.8h1.7M275.1 100.3h1.7M276.4 100.5h1.7M277.7 99.8h1.7M279.3 100.2h1.7M281.0 100.2h1.7M282.0 100.0h1.7M283.5 99.9h1.7M284.9 100.0h1.7M286.4 100.3h1.7M287.8 100.2h1.7M290.2 100.0h1.7M291.7 100.2h1.7M293.1 100.5h1.7M294.6 100.3h1.7M296.0 100.0h1.7M297.5 100.1h1.7M298.9 100.1h1.7M300.1 100.4h1.7M302.8 100.2h1.7M304.0 100.1h1.7M306.6 100.0h1.7M308.2 100.2h1.7M310.6 100.2h1.7M246.5 101.7h1.7M250.5 101.3h1.7M252.0 101.8h1.7M253.3 101.7h1.7M254.7 101.4h1.7M256.3 101.3h1.7M257.2 101.5h1.7M258.4 101.7h1.7M260.1 101.8h1.7M261.5 101.7h1.7M262.6 101.8h1.7M264.0 101.3h1.7M265.9 101.9h1.7M266.9 101.5h1.7M268.6 101.5h1.7M269.8 101.8h1.7M271.4 101.3h1.7M272.2 101.6h1.7M273.9 101.3h1.7M275.0 101.6h1.7M276.8 101.5h1.7M277.9 101.6h1.7M279.1 101.3h1.7M280.6 101.6h1.7M282.1 101.5h1.7M283.5 101.3h1.7M285.1 101.7h1.7M288.8 101.6h1.7M290.0 101.7h1.7M291.9 101.5h1.7M293.4 101.8h1.7M294.6 101.4h1.7M295.9 101.8h1.7M297.0 101.8h1.7M298.8 101.4h1.7M300.3 101.4h1.7M301.4 101.4h1.7M303.0 101.5h1.7M304.0 101.6h1.7M305.7 101.3h1.7M317.7 101.4h1.7M249.2 102.8h1.7M251.5 103.3h1.7M252.9 103.2h1.7M254.9 102.7h1.7M256.0 102.9h1.7M257.0 103.1h1.7M258.5 102.7h1.7M259.8 102.7h1.7M261.7 102.8h1.7M262.6 102.8h1.7M264.2 102.6h1.7M265.4 103.1h1.7M267.0 103.2h1.7M268.3 103.1h1.7M269.4 103.2h1.7M271.3 102.7h1.7M272.8 102.7h1.7M274.1 103.2h1.7M275.5 102.6h1.7M276.7 102.8h1.7M278.2 102.8h1.7M279.5 103.3h1.7M280.8 102.6h1.7M282.1 102.9h1.7M283.5 103.2h1.7M285.1 103.0h1.7M286.2 102.8h1.7M287.6 103.0h1.7M290.1 103.1h1.7M291.8 102.9h1.7M292.8 103.0h1.7M294.4 102.6h1.7M295.9 102.6h1.7M296.9 102.9h1.7M298.5 103.2h1.7M300.3 102.9h1.7M301.0 103.3h1.7M247.9 104.6h1.7M248.8 104.4h1.7M251.7 104.2h1.7M253.2 104.0h1.7M254.2 104.2h1.7M255.6 104.6h1.7M257.2 104.4h1.7M259.1 104.5h1.7M260.0 104.3h1.7M261.3 104.0h1.7M263.1 104.3h1.7M264.3 104.2h1.7M265.8 104.5h1.7M267.1 104.0h1.7M268.3 104.5h1.7M269.9 104.5h1.7M270.7 104.2h1.7M272.7 104.4h1.7M274.0 104.3h1.7M275.2 104.3h1.7M276.9 104.5h1.7M278.1 104.0h1.7M279.1 104.3h1.7M280.6 104.3h1.7M281.8 104.3h1.7M283.2 104.6h1.7M284.6 104.2h1.7M286.1 104.0h1.7M287.6 104.4h1.7M289.3 104.5h1.7M290.5 104.3h1.7M291.4 104.1h1.7M292.8 104.0h1.7M294.8 104.4h1.7M295.6 104.6h1.7M297.4 104.0h1.7M298.4 104.2h1.7M299.7 104.3h1.7M301.0 104.0h1.7M305.5 104.6h1.7M245.0 105.5h1.7M250.1 105.8h1.7M251.8 105.7h1.7M253.1 105.9h1.7M254.3 105.6h1.7M256.1 105.9h1.7M257.0 105.4h1.7M259.0 105.4h1.7M260.2 105.8h1.7M261.6 105.4h1.7M262.9 105.9h1.7M264.1 105.5h1.7M265.6 105.5h1.7M267.0 105.8h1.7M268.3 106.0h1.7M269.5 105.4h1.7M271.0 105.8h1.7M272.7 106.0h1.7M273.8 105.8h1.7M275.2 105.8h1.7M276.5 105.4h1.7M277.8 105.7h1.7M279.4 105.6h1.7M280.4 106.0h1.7M281.8 105.9h1.7M283.5 105.4h1.7M284.8 105.7h1.7M286.4 105.5h1.7M287.3 105.6h1.7M288.6 105.6h1.7M290.0 105.8h1.7M291.5 105.6h1.7M293.3 105.6h1.7M294.2 105.9h1.7M296.0 105.9h1.7M297.3 105.7h1.7M298.6 105.4h1.7M299.8 105.3h1.7M301.5 105.6h1.7M304.1 105.9h1.7M306.9 105.6h1.7M246.5 107.0h1.7M247.4 107.0h1.7M249.3 107.3h1.7M250.5 107.2h1.7M251.8 107.0h1.7M253.1 106.8h1.7M254.8 107.3h1.7M255.7 107.1h1.7M257.4 106.9h1.7M258.8 107.3h1.7M259.8 106.8h1.7M261.8 107.4h1.7M263.1 107.0h1.7M264.2 107.1h1.7M265.4 107.0h1.7M266.8 107.0h1.7M268.5 106.8h1.7M269.5 106.8h1.7M271.1 107.0h1.7M272.5 107.3h1.7M273.6 107.4h1.7M275.3 106.9h1.7M276.4 107.0h1.7M277.9 106.7h1.7M279.2 107.3h1.7M280.4 107.1h1.7M282.1 107.3h1.7M283.7 107.2h1.7M284.9 107.1h1.7M286.3 107.2h1.7M287.5 106.8h1.7M288.8 107.1h1.7M290.7 107.2h1.7M291.6 107.2h1.7M292.9 106.9h1.7M294.4 107.1h1.7M295.8 106.8h1.7M297.3 107.1h1.7M298.8 106.8h1.7M300.0 106.8h1.7M301.5 107.2h1.7M244.7 108.5h1.7M246.4 108.3h1.7M254.9 108.2h1.7M256.2 108.5h1.7M257.6 108.5h1.7M260.4 108.7h1.7M261.2 108.1h1.7M262.6 108.5h1.7M263.9 108.4h1.7M265.5 108.1h1.7M267.3 108.2h1.7M268.5 108.4h1.7M269.8 108.5h1.7M271.3 108.3h1.7M272.4 108.2h1.7M273.5 108.4h1.7M275.5 108.3h1.7M277.8 108.5h1.7M279.4 108.4h1.7M280.9 108.3h1.7M281.9 108.4h1.7M283.3 108.2h1.7M284.7 108.4h1.7M286.0 108.4h1.7M287.7 108.7h1.7M289.1 108.7h1.7M290.4 108.2h1.7M291.9 108.1h1.7M293.1 108.2h1.7M294.4 108.7h1.7M295.7 108.3h1.7M297.2 108.2h1.7M298.9 108.7h1.7M301.1 108.5h1.7M302.9 108.7h1.7M304.4 108.1h1.7M249.4 109.9h1.7M253.2 109.7h1.7M254.6 109.8h1.7M257.2 109.6h1.7M258.4 109.8h1.7M260.4 109.5h1.7M261.4 109.6h1.7M262.7 109.7h1.7M264.3 109.6h1.7M265.4 109.6h1.7M267.0 110.0h1.7M268.6 109.7h1.7M269.8 109.7h1.7M271.0 109.5h1.7M272.5 110.1h1.7M273.6 110.0h1.7M274.9 110.1h1.7M276.7 109.5h1.7M277.9 109.5h1.7M279.3 109.5h1.7M280.4 109.6h1.7M281.9 110.1h1.7M283.7 109.6h1.7M284.8 110.0h1.7M286.3 110.1h1.7M287.3 110.1h1.7M289.1 109.6h1.7M290.3 109.8h1.7M291.8 109.6h1.7M293.1 109.7h1.7M296.0 109.5h1.7M296.9 109.9h1.7M299.6 110.1h1.7M301.5 109.9h1.7M248.9 111.1h1.7M254.6 111.0h1.7M256.2 111.1h1.7M257.0 111.2h1.7M258.8 111.1h1.7M259.8 111.4h1.7M261.7 111.5h1.7M263.1 110.9h1.7M263.9 111.0h1.7M265.4 111.0h1.7M266.8 111.2h1.7M268.2 111.1h1.7M269.6 111.4h1.7M270.7 111.4h1.7M272.2 111.3h1.7M273.9 111.3h1.7M275.3 111.5h1.7M276.4 111.3h1.7M277.7 111.5h1.7M279.5 111.3h1.7M282.0 111.1h1.7M283.7 111.1h1.7M286.3 111.2h1.7M290.6 111.2h1.7M291.6 110.9h1.7M294.6 110.9h1.7M299.8 111.1h1.7M304.4 110.9h1.7M247.5 112.4h1.7M250.5 112.6h1.7M253.2 112.5h1.7M254.3 112.9h1.7M255.7 112.3h1.7M257.6 112.8h1.7M258.9 112.3h1.7M260.1 112.7h1.7M261.2 112.4h1.7M262.6 112.7h1.7M265.3 112.6h1.7M267.2 112.9h1.7M268.1 112.3h1.7M269.5 112.8h1.7M272.6 112.5h1.7M274.2 112.8h1.7M275.2 112.3h1.7M276.3 112.6h1.7M277.9 112.3h1.7M279.1 112.6h1.7M280.9 112.4h1.7M282.1 112.8h1.7M287.9 112.4h1.7M289.2 112.9h1.7M304.4 112.8h1.7M257.3 113.7h1.7M258.7 114.1h1.7M259.8 114.2h1.7M261.7 114.1h1.7M263.1 114.0h1.7M264.1 114.2h1.7M267.0 114.0h1.7M268.5 114.3h1.7M269.7 114.1h1.7M271.0 114.1h1.7M272.7 113.6h1.7M273.7 114.1h1.7M275.5 114.2h1.7M276.8 113.8h1.7M277.6 113.7h1.7M279.5 113.7h1.7M280.9 113.6h1.7M282.2 114.0h1.7M283.8 114.1h1.7M288.9 114.1h1.7M254.5 115.1h1.7M257.7 115.0h1.7M261.2 115.2h1.7M262.6 115.6h1.7M264.4 115.3h1.7M265.5 115.1h1.7M267.2 115.4h1.7M268.0 115.1h1.7M269.6 115.0h1.7M271.3 115.6h1.7M274.1 115.7h1.7M279.5 115.6h1.7M280.8 115.5h1.7M254.4 116.9h1.7M258.6 116.5h1.7M262.5 116.9h1.7M265.6 116.5h1.7M267.2 116.5h1.7M270.0 116.5h1.7M271.2 116.8h1.7M273.9 117.0h1.7M276.4 116.5h1.7M279.4 117.0h1.7M283.8 116.8h1.7M265.4 117.9h1.7M267.3 118.3h1.7M268.4 118.0h1.7M272.4 118.1h1.7M283.6 118.1h1.7M261.5 119.6h1.7M265.3 119.3h1.7M266.8 119.6h1.7M268.3 119.4h1.7M270.8 119.6h1.7M264.4 120.5h1.7M265.8 120.9h1.7M269.9 121.0h1.7M264.5 121.9h1.7M269.8 122.3h1.7M264.3 123.6h1.7" stroke="#f29e48" stroke-width="1.7" fill="none"/>
<path d="M250.2 59.0h1.7M251.8 58.8h1.7M240.9 60.5h1.7M243.6 60.0h1.7M245.1 60.1h1.7M242.3 61.4h1.7M244.9 61.9h1.7M250.3 61.8h1.7M239.3 63.3h1.7M243.3 63.3h1.7M244.6 63.4h1.7M241.9 64.6h1.7M246.5 64.1h1.7M241.2 65.8h1.7M250.2 65.9h1.7M235.4 66.9h1.7M239.5 67.4h1.7M241.1 67.0h1.7M242.0 67.5h1.7M243.8 67.4h1.7M250.5 67.3h1.7M236.8 68.5h1.7M239.7 68.4h1.7M246.4 68.7h1.7M247.9 68.8h1.7M237.9 69.7h1.7M240.6 69.9h1.7M242.5 69.6h1.7M243.8 69.8h1.7M244.7 69.6h1.7M246.0 69.9h1.7M247.7 70.3h1.7M249.4 69.9h1.7M253.5 69.7h1.7M238.0 71.5h1.7M241.1 71.6h1.7M241.9 71.3h1.7M243.4 71.5h1.7M247.9 71.7h1.7M232.6 72.5h1.7M234.3 72.9h1.7M240.7 72.8h1.7M242.0 72.9h1.7M250.7 72.6h1.7M232.6 73.9h1.7M233.7 74.4h1.7M235.0 74.1h1.7M237.9 73.7h1.7M239.8 74.1h1.7M241.1 74.0h1.7M243.2 73.8h1.7M245.2 73.7h1.7M232.3 75.4h1.7M233.7 75.5h1.7M236.7 75.3h1.7M238.1 75.5h1.7M239.2 75.2h1.7M240.7 75.7h1.7M243.3 75.5h1.7M245.0 75.3h1.7M246.3 75.5h1.7M251.5 75.8h1.7M229.8 76.5h1.7M231.1 76.7h1.7M232.6 77.1h1.7M234.0 77.0h1.7M235.6 76.7h1.7M236.5 76.6h1.7M238.1 76.8h1.7M242.2 76.6h1.7M243.6 77.0h1.7M245.2 76.6h1.7M246.2 76.7h1.7M247.5 76.7h1.7M250.3 77.1h1.7M232.9 78.1h1.7M235.5 78.2h1.7M236.8 78.0h1.7M237.8 77.9h1.7M239.8 78.1h1.7M240.5 77.9h1.7M242.1 78.1h1.7M248.8 78.2h1.7M229.9 79.8h1.7M231.3 79.5h1.7M233.6 79.4h1.7M235.6 79.8h1.7M236.6 79.7h1.7M238.0 79.2h1.7M239.5 79.5h1.7M240.6 79.8h1.7M242.4 79.8h1.7M246.1 79.3h1.7M247.9 79.7h1.7M248.8 79.7h1.7M250.5 79.3h1.7M229.7 81.1h1.7M230.9 80.7h1.7M234.2 80.9h1.7M238.0 81.0h1.7M239.3 81.1h1.7M242.2 80.6h1.7M244.9 80.8h1.7M246.6 80.8h1.7M249.4 81.2h1.7M231.5 82.3h1.7M232.5 82.5h1.7M234.2 82.2h1.7M235.5 82.2h1.7M237.9 82.1h1.7M239.7 82.1h1.7M241.1 82.4h1.7M241.9 82.1h1.7M243.6 82.1h1.7M245.1 82.2h1.7M232.7 83.5h1.7M233.7 83.5h1.7M235.3 83.9h1.7M238.3 83.8h1.7M239.5 83.8h1.7M240.9 83.9h1.7M241.9 83.4h1.7M243.4 83.9h1.7M244.8 83.6h1.7M246.4 83.6h1.7M251.6 83.8h1.7M253.0 83.8h1.7M235.5 85.0h1.7M237.8 84.8h1.7M239.3 85.0h1.7M241.1 85.2h1.7M243.5 85.0h1.7M249.0 85.2h1.7M231.3 86.7h1.7M233.9 86.1h1.7M235.4 86.1h1.7M239.7 86.5h1.7M240.7 86.6h1.7M242.4 86.3h1.7M243.8 86.5h1.7M245.3 86.4h1.7M249.3 86.8h1.7M250.3 86.2h1.7M232.4 87.7h1.7M234.2 88.0h1.7M235.4 87.5h1.7M236.6 87.6h1.7M239.4 87.6h1.7M241.0 88.1h1.7M243.3 87.6h1.7M244.6 87.8h1.7M247.9 87.5h1.7M258.5 87.6h1.7M230.1 89.2h1.7M231.6 89.1h1.7M232.7 89.5h1.7M233.8 89.3h1.7M236.4 89.3h1.7M238.4 89.4h1.7M239.7 89.3h1.7M241.0 89.2h1.7M242.6 89.2h1.7M243.3 89.5h1.7M245.2 89.4h1.7M232.9 90.4h1.7M233.6 90.8h1.7M236.5 90.7h1.7M237.8 90.4h1.7M239.7 90.5h1.7M240.5 90.8h1.7M241.9 90.2h1.7M243.5 90.4h1.7M246.1 90.9h1.7M234.1 92.1h1.7M238.1 92.2h1.7M239.2 91.8h1.7M241.2 92.0h1.7M242.2 91.9h1.7M243.4 92.3h1.7M245.1 91.6h1.7M246.4 92.0h1.7M250.1 91.8h1.7M230.0 93.0h1.7M235.5 93.5h1.7M236.5 93.3h1.7M238.3 93.2h1.7M239.4 93.4h1.7M240.6 93.4h1.7M242.0 93.4h1.7M243.3 93.2h1.7M249.4 93.0h1.7M258.9 93.6h1.7M234.1 94.5h1.7M236.8 94.9h1.7M237.9 94.7h1.7M240.9 94.7h1.7M242.3 94.7h1.7M243.7 94.5h1.7M246.5 94.9h1.7M248.8 95.0h1.7M232.3 95.9h1.7M235.1 96.1h1.7M238.2 95.9h1.7M242.1 96.1h1.7M244.7 95.8h1.7M246.4 96.0h1.7M247.4 96.4h1.7M248.8 95.8h1.7M250.6 95.8h1.7M263.0 96.4h1.7M234.0 97.7h1.7M235.6 97.5h1.7M238.0 97.3h1.7M240.6 97.6h1.7M241.9 97.2h1.7M243.5 97.3h1.7M246.6 97.8h1.7M247.6 97.5h1.7M249.2 97.3h1.7M229.5 99.0h1.7M232.8 98.9h1.7M235.5 99.1h1.7M236.6 98.7h1.7M238.4 98.7h1.7M240.6 98.7h1.7M242.5 98.5h1.7M245.1 98.5h1.7M247.4 98.5h1.7M248.9 99.1h1.7M251.8 99.2h1.7M241.9 100.2h1.7M243.9 100.1h1.7M244.8 99.9h1.7M246.5 99.9h1.7M249.2 100.3h1.7M237.0 101.6h1.7M238.1 101.2h1.7M244.7 101.3h1.7M249.4 101.2h1.7M238.3 103.0h1.7M243.3 103.0h1.7M247.9 103.1h1.7M250.4 103.3h1.7M240.6 104.6h1.7M242.4 104.3h1.7M244.6 104.3h1.7M246.2 104.4h1.7M250.3 104.0h1.7M239.6 105.5h1.7M240.5 105.6h1.7M246.5 105.4h1.7M247.5 105.9h1.7M249.3 105.6h1.7M245.0 107.4h1.7M239.4 108.7h1.7M241.9 108.3h1.7M247.9 108.3h1.7M250.3 108.4h1.7M251.9 108.4h1.7M253.0 108.3h1.7M242.5 110.0h1.7M243.2 109.9h1.7M244.9 110.0h1.7M246.5 109.6h1.7M247.8 109.8h1.7M250.5 109.9h1.7M252.1 109.8h1.7M256.3 110.1h1.7M241.9 111.1h1.7M243.6 111.3h1.7M244.9 111.0h1.7M250.5 111.5h1.7M251.9 111.3h1.7M253.3 110.9h1.7M240.7 112.5h1.7M242.2 112.5h1.7M244.6 112.7h1.7M249.0 112.3h1.7M241.9 113.9h1.7M243.4 114.0h1.7M244.8 114.2h1.7M246.5 113.9h1.7M247.4 114.2h1.7M249.4 114.3h1.7M250.4 114.2h1.7M251.6 113.7h1.7M253.5 113.7h1.7M254.9 113.9h1.7M255.6 114.1h1.7M241.9 115.0h1.7M244.8 115.2h1.7M247.7 115.4h1.7M249.1 115.5h1.7M250.7 115.6h1.7M251.7 115.0h1.7M253.1 115.5h1.7M256.2 115.4h1.7M259.0 115.3h1.7M260.2 115.2h1.7M246.2 116.9h1.7M247.8 116.6h1.7M248.9 116.5h1.7M250.3 116.8h1.7M251.7 116.5h1.7M256.0 116.8h1.7M257.4 116.4h1.7M259.8 116.7h1.7M261.2 116.5h1.7M264.2 117.0h1.7M245.1 118.0h1.7M246.0 118.1h1.7M247.8 118.0h1.7M249.3 118.4h1.7M250.3 118.3h1.7M251.5 118.4h1.7M253.1 118.3h1.7M254.9 118.3h1.7M256.0 118.2h1.7M257.2 117.8h1.7M259.0 118.0h1.7M260.2 118.2h1.7M261.2 118.0h1.7M262.7 117.8h1.7M264.4 118.1h1.7M243.5 119.6h1.7M247.8 119.4h1.7M248.7 119.3h1.7M250.2 119.5h1.7M252.0 119.6h1.7M253.3 119.4h1.7M254.3 119.8h1.7M256.0 119.3h1.7M257.2 119.6h1.7M258.8 119.4h1.7M260.1 119.7h1.7M263.0 119.5h1.7M239.4 120.7h1.7M245.1 120.9h1.7M248.0 120.5h1.7M249.1 121.0h1.7M251.8 120.8h1.7M253.0 120.6h1.7M254.3 121.1h1.7M256.2 120.5h1.7M257.2 120.6h1.7M258.8 120.5h1.7M259.9 120.7h1.7M261.7 120.9h1.7M267.2 120.6h1.7M246.4 122.2h1.7M247.6 122.3h1.7M250.5 122.1h1.7M252.9 122.3h1.7M254.5 122.4h1.7M255.7 122.4h1.7M257.2 121.9h1.7M258.9 122.4h1.7M259.8 122.3h1.7M261.1 122.2h1.7M265.9 122.0h1.7M268.6 122.0h1.7M247.4 123.3h1.7M249.1 123.5h1.7M250.3 123.2h1.7M254.9 123.5h1.7M255.9 123.8h1.7M258.6 123.8h1.7M261.7 123.8h1.7M265.8 123.6h1.7M268.6 123.4h1.7M273.8 123.7h1.7M249.1 124.9h1.7M250.1 125.1h1.7M251.8 125.2h1.7M254.4 124.8h1.7M257.5 125.3h1.7M259.0 124.8h1.7M266.7 125.0h1.7M268.3 124.8h1.7M244.9 126.2h1.7M253.2 126.3h1.7M255.9 126.1h1.7M257.4 126.4h1.7M262.9 126.4h1.7M264.2 126.3h1.7M265.8 126.2h1.7M267.1 126.0h1.7M268.2 126.1h1.7M269.5 126.1h1.7M270.8 126.2h1.7M272.5 126.1h1.7M246.3 127.9h1.7M253.5 128.0h1.7M254.8 127.6h1.7M257.7 127.5h1.7M258.4 127.8h1.7M260.2 127.6h1.7M262.5 127.6h1.7M263.9 127.5h1.7M269.5 127.5h1.7M271.1 127.8h1.7M247.6 128.8h1.7M251.7 129.2h1.7M253.2 129.1h1.7M254.8 129.0h1.7M257.2 128.8h1.7M260.2 128.8h1.7M261.5 128.8h1.7M262.7 128.9h1.7M264.5 128.8h1.7M265.9 129.4h1.7M268.5 129.0h1.7M269.5 129.0h1.7M277.7 128.9h1.7M258.8 130.5h1.7M261.7 130.7h1.7M262.7 130.2h1.7M264.5 130.6h1.7M267.0 130.4h1.7M268.4 130.2h1.7M269.4 130.5h1.7M273.9 130.1h1.7M277.9 130.7h1.7M250.5 131.9h1.7M253.2 131.7h1.7M260.0 131.6h1.7M261.6 131.9h1.7M264.0 131.8h1.7M265.3 131.9h1.7M268.1 131.9h1.7M272.5 131.9h1.7M258.8 133.2h1.7M262.8 133.0h1.7M264.3 133.0h1.7M267.2 133.3h1.7M268.4 133.3h1.7M269.8 133.4h1.7M271.3 132.9h1.7M272.6 133.3h1.7M254.8 134.3h1.7M262.6 134.5h1.7M264.5 134.6h1.7M265.7 134.4h1.7M267.3 134.9h1.7M268.1 134.4h1.7M269.8 134.6h1.7M272.5 134.2h1.7M260.1 136.2h1.7M263.0 136.0h1.7M264.3 136.1h1.7M265.3 135.8h1.7M268.4 136.2h1.7M259.9 137.6h1.7M261.8 137.5h1.7M265.3 137.5h1.7M267.1 137.4h1.7M270.0 137.0h1.7" stroke="#529cf2" stroke-width="1.7" fill="none"/>
<path d="M279.6 45.0h1.7M280.5 46.6h1.7M280.8 47.8h1.7M276.4 56.0h1.7M271.0 57.4h1.7M279.3 59.0h1.7M272.2 60.4h1.7M268.6 61.8h1.7M271.1 61.9h1.7M273.5 61.8h1.7M279.1 62.0h1.7M266.8 62.9h1.7M269.5 63.0h1.7M272.2 63.3h1.7M273.9 62.9h1.7M275.5 62.9h1.7M276.3 62.9h1.7M270.8 64.2h1.7M272.3 64.4h1.7M275.2 64.2h1.7M276.9 64.7h1.7M279.3 64.3h1.7M280.8 64.1h1.7M261.5 65.7h1.7M268.5 66.2h1.7M269.5 65.8h1.7M272.4 65.6h1.7M273.9 65.6h1.7M275.4 66.0h1.7M277.6 66.1h1.7M280.5 66.0h1.7M261.4 67.1h1.7M262.9 67.3h1.7M269.5 67.4h1.7M277.9 67.2h1.7M256.2 68.8h1.7M261.4 68.5h1.7M265.7 68.4h1.7M266.8 68.3h1.7M272.3 68.4h1.7M261.1 69.9h1.7M263.1 69.8h1.7M265.4 69.6h1.7M266.9 69.8h1.7M268.1 69.7h1.7M269.7 69.8h1.7M261.5 71.3h1.7M264.4 71.0h1.7M265.6 71.1h1.7M267.1 71.1h1.7M268.2 71.5h1.7M269.4 71.4h1.7M273.5 71.2h1.7M275.2 71.4h1.7M279.3 71.6h1.7M265.9 72.9h1.7M271.0 72.7h1.7M272.7 72.7h1.7M277.8 72.6h1.7M261.4 74.3h1.7M265.7 74.1h1.7M269.8 74.2h1.7M272.7 74.1h1.7M264.5 75.7h1.7M265.9 75.7h1.7M269.7 75.3h1.7M272.2 75.6h1.7M257.4 76.5h1.7M265.9 77.0h1.7M267.0 77.1h1.7M262.7 78.3h1.7M267.1 79.5h1.7M259.0 80.8h1.7M262.9 81.2h1.7M273.9 81.0h1.7M254.5 82.2h1.7M258.8 82.6h1.7M268.5 82.4h1.7M279.1 82.1h1.7M265.8 83.4h1.7M267.2 83.5h1.7M313.9 83.5h1.7M305.8 85.1h1.7M260.1 86.6h1.7M274.9 86.7h1.7M316.4 86.6h1.7M263.1 87.8h1.7M263.9 87.5h1.7M279.3 87.6h1.7M313.7 87.9h1.7M265.9 89.4h1.7M312.2 89.5h1.7M262.7 90.5h1.7M264.4 90.6h1.7M279.3 90.9h1.7M265.5 92.0h1.7M263.1 94.5h1.7M277.6 94.6h1.7M309.5 95.9h1.7M308.3 97.2h1.7M312.1 97.7h1.7M313.6 97.2h1.7M305.7 99.1h1.7M317.9 98.9h1.7M301.6 100.3h1.7M305.3 100.5h1.7M309.4 100.5h1.7M312.1 100.1h1.7M313.9 100.3h1.7M315.2 100.2h1.7M309.4 101.7h1.7M313.4 101.6h1.7M314.9 101.9h1.7M302.8 102.9h1.7M304.4 102.9h1.7M310.7 102.8h1.7M312.4 102.9h1.7M314.1 102.7h1.7M317.7 103.2h1.7M303.0 104.6h1.7M308.0 104.5h1.7M309.6 104.1h1.7M312.7 104.0h1.7M315.1 104.1h1.7M303.0 105.4h1.7M305.6 105.8h1.7M309.7 105.9h1.7M310.9 106.0h1.7M312.3 105.7h1.7M315.2 105.5h1.7M316.5 106.0h1.7M305.5 107.1h1.7M308.1 107.2h1.7M309.8 107.4h1.7M311.2 107.4h1.7M312.1 107.4h1.7M313.7 106.9h1.7M314.9 107.3h1.7M300.0 108.6h1.7M306.8 108.4h1.7M309.7 108.2h1.7M311.3 108.7h1.7M316.6 108.5h1.7M309.7 110.1h1.7M298.4 111.2h1.7M301.6 111.3h1.7M302.8 111.0h1.7M309.5 111.3h1.7M291.4 112.4h1.7M294.6 112.3h1.7M299.8 112.3h1.7M301.5 112.7h1.7M302.5 112.7h1.7M307.9 112.7h1.7M316.5 112.7h1.7M298.9 114.1h1.7M300.1 114.1h1.7M302.8 113.7h1.7M307.1 113.9h1.7M308.0 114.0h1.7M291.9 115.6h1.7M295.8 115.2h1.7M300.0 115.1h1.7M303.0 115.0h1.7M306.8 115.3h1.7M307.9 115.1h1.7M290.2 116.5h1.7M296.1 117.0h1.7M297.3 116.6h1.7M298.5 116.9h1.7M301.6 116.8h1.7M305.7 116.9h1.7M310.7 116.6h1.7M295.7 117.9h1.7M297.5 118.0h1.7M303.9 117.9h1.7M311.2 118.2h1.7M305.3 119.5h1.7M309.4 119.6h1.7M313.5 119.2h1.7M286.0 121.1h1.7M291.7 121.0h1.7M297.1 121.0h1.7M298.4 120.7h1.7M300.3 120.9h1.7M305.4 121.1h1.7M308.0 121.0h1.7M309.6 121.1h1.7M272.5 122.2h1.7M282.3 122.3h1.7M293.4 122.4h1.7M298.8 122.3h1.7M306.7 122.2h1.7M308.1 122.3h1.7M269.6 123.6h1.7M295.6 123.8h1.7M298.8 123.6h1.7M305.3 123.6h1.7M261.2 125.2h1.7M269.6 125.1h1.7M271.2 124.9h1.7M261.2 126.4h1.7M274.9 126.5h1.7M265.9 127.8h1.7M267.2 127.5h1.7M297.3 127.8h1.7M273.7 129.3h1.7M283.2 129.1h1.7M275.5 130.6h1.7M273.6 131.7h1.7M274.9 133.2h1.7M279.7 132.9h1.7M283.6 133.4h1.7M276.4 134.8h1.7" stroke="#e8403a" stroke-width="1.7" fill="none"/>
<rect x="7.5" y="28.3" width="108.9" height="108.4" fill="none" stroke="#444" stroke-width="1.2"/>
<rect x="119.1" y="28.3" width="108.4" height="108.4" fill="none" stroke="#444" stroke-width="1.2"/>
<rect x="230.4" y="28.3" width="108.4" height="108.4" fill="none" stroke="#444" stroke-width="1.2"/>
<text x="8" y="157" font-size="10.5" font-weight="bold" fill="#000" stroke="#000" stroke-width="0.35">B</text>
<rect x="19.6" y="161.7" width="277.4" height="13.1" fill="#14508a"/>
<rect x="19.6" y="174.8" width="277.4" height="12.9" fill="#e5ebf2"/>
<rect x="19.6" y="187.7" width="277.4" height="12.1" fill="#cfdbe6"/>
<rect x="19.6" y="199.8" width="277.4" height="12.2" fill="#e5ebf2"/>
<rect x="53.6" y="161.7" width="1.2" height="50.3" fill="#fff"/>
<text x="71" y="170.9" font-size="8.2" text-anchor="middle" fill="#fff">CD36</text>
<text x="122" y="170.9" font-size="8.2" text-anchor="middle" fill="#fff">CD42b</text>
<text x="177" y="170.9" font-size="8.2" text-anchor="middle" fill="#fff">CD61</text>
<text x="229.4" y="170.9" font-size="8.2" text-anchor="middle" fill="#fff">GPVI</text>
<text x="278.5" y="170.9" font-size="8.2" text-anchor="middle" fill="#fff">HLA</text>
<text x="0" y="0" font-size="8.4" fill="#f4a030" transform="translate(24.9,184.0) scale(0.9,1)">Pop I</text>
<text x="0" y="0" font-size="8.4" fill="#2b5d94" transform="translate(24.9,196.3) scale(0.9,1)">Pop II</text>
<text x="0" y="0" font-size="8.4" fill="#c42d48" transform="translate(24.9,208.5) scale(0.9,1)">Pop III</text>
<path d="M68.65 181.60H73.35M71.00 179.25V183.95" stroke="#4db84a" stroke-width="1.15" fill="none"/>
<path d="M119.65 181.60H124.35M122.00 179.25V183.95" stroke="#4db84a" stroke-width="1.15" fill="none"/>
<path d="M174.65 181.60H179.35M177.00 179.25V183.95" stroke="#4db84a" stroke-width="1.15" fill="none"/>
<path d="M227.05 181.60H231.75M229.40 179.25V183.95" stroke="#4db84a" stroke-width="1.15" fill="none"/>
<path d="M276.15 181.60H280.85M278.50 179.25V183.95" stroke="#4db84a" stroke-width="1.15" fill="none"/>
<path d="M68.70 193.70H73.30" stroke="#d8647c" stroke-width="1.5" fill="none"/>
<path d="M119.65 193.70H124.35M122.00 191.35V196.05" stroke="#4db84a" stroke-width="1.15" fill="none"/>
<path d="M174.65 193.70H179.35M177.00 191.35V196.05" stroke="#4db84a" stroke-width="1.15" fill="none"/>
<text x="229.4" y="196.6" font-size="8.2" text-anchor="middle" fill="#f2a445" stroke="#f2a445" stroke-width="0.12">−(+)</text>
<path d="M276.15 193.70H280.85M278.50 191.35V196.05" stroke="#4db84a" stroke-width="1.15" fill="none"/>
<path d="M68.65 205.80H73.35M71.00 203.45V208.15" stroke="#4db84a" stroke-width="1.15" fill="none"/>
<path d="M119.65 205.80H124.35M122.00 203.45V208.15" stroke="#4db84a" stroke-width="1.15" fill="none"/>
<path d="M172.30 205.80H176.80M174.55 203.55V208.05" stroke="#666c75" stroke-width="1.0" fill="none"/>
<path d="M177.20 205.80H181.70M179.45 203.55V208.05" stroke="#666c75" stroke-width="1.0" fill="none"/>
<path d="M224.70 205.80H229.20M226.95 203.55V208.05" stroke="#666c75" stroke-width="1.0" fill="none"/>
<path d="M229.60 205.80H234.10M231.85 203.55V208.05" stroke="#666c75" stroke-width="1.0" fill="none"/>
<path d="M273.80 205.80H278.30M276.05 203.55V208.05" stroke="#666c75" stroke-width="1.0" fill="none"/>
<path d="M278.70 205.80H283.20M280.95 203.55V208.05" stroke="#666c75" stroke-width="1.0" fill="none"/>
<text x="348.5" y="15" font-size="10.5" font-weight="bold" fill="#000" stroke="#000" stroke-width="0.35">C</text>
<line x1="377.3" y1="28.3" x2="377.3" y2="168.7" stroke="#151515" stroke-width="1.2"/>
<line x1="374.4" y1="168.7" x2="512.9" y2="168.7" stroke="#151515" stroke-width="1.2"/>
<line x1="374.4" y1="168.6" x2="377.3" y2="168.6" stroke="#151515" stroke-width="1"/>
<text x="371" y="171.3" font-size="7.7" text-anchor="end" fill="#222">0</text>
<line x1="374.4" y1="135.0" x2="377.3" y2="135.0" stroke="#151515" stroke-width="1"/>
<text x="371" y="137.7" font-size="7.7" text-anchor="end" fill="#222">20</text>
<line x1="374.4" y1="101.4" x2="377.3" y2="101.4" stroke="#151515" stroke-width="1"/>
<text x="371" y="104.1" font-size="7.7" text-anchor="end" fill="#222">40</text>
<line x1="374.4" y1="67.8" x2="377.3" y2="67.8" stroke="#151515" stroke-width="1"/>
<text x="371" y="70.5" font-size="7.7" text-anchor="end" fill="#222">60</text>
<line x1="374.4" y1="34.2" x2="377.3" y2="34.2" stroke="#151515" stroke-width="1"/>
<text x="371" y="36.9" font-size="7.7" text-anchor="end" fill="#222">80</text>
<rect x="380.5" y="61.2" width="10.2" height="107.0" fill="#c8102e"/>
<line x1="385.6" y1="61.2" x2="385.6" y2="54.0" stroke="#222" stroke-width="0.8"/>
<line x1="384.1" y1="54.0" x2="387.1" y2="54.0" stroke="#222" stroke-width="0.8"/>
<rect x="392.9" y="58.4" width="10.2" height="109.8" fill="#124f86"/>
<line x1="398.1" y1="58.4" x2="398.1" y2="51.7" stroke="#222" stroke-width="0.8"/>
<line x1="396.6" y1="51.7" x2="399.6" y2="51.7" stroke="#222" stroke-width="0.8"/>
<rect x="405.4" y="60.7" width="10.2" height="107.5" fill="#3cb54a"/>
<line x1="410.5" y1="60.7" x2="410.5" y2="57.3" stroke="#222" stroke-width="0.8"/>
<line x1="409.0" y1="57.3" x2="412.0" y2="57.3" stroke="#222" stroke-width="0.8"/>
<line x1="398.0" y1="168.7" x2="398.0" y2="172" stroke="#151515" stroke-width="1"/>
<rect x="427.0" y="130.8" width="10.2" height="37.4" fill="#c8102e"/>
<line x1="432.1" y1="130.8" x2="432.1" y2="127.1" stroke="#222" stroke-width="0.8"/>
<line x1="430.6" y1="127.1" x2="433.6" y2="127.1" stroke="#222" stroke-width="0.8"/>
<rect x="439.4" y="133.0" width="10.2" height="35.2" fill="#124f86"/>
<line x1="444.6" y1="133.0" x2="444.6" y2="132.3" stroke="#222" stroke-width="0.8"/>
<line x1="443.1" y1="132.3" x2="446.1" y2="132.3" stroke="#222" stroke-width="0.8"/>
<rect x="451.9" y="121.2" width="10.2" height="47.0" fill="#3cb54a"/>
<line x1="457.0" y1="121.2" x2="457.0" y2="118.7" stroke="#222" stroke-width="0.8"/>
<line x1="455.5" y1="118.7" x2="458.5" y2="118.7" stroke="#222" stroke-width="0.8"/>
<line x1="444.5" y1="168.7" x2="444.5" y2="172" stroke="#151515" stroke-width="1"/>
<rect x="473.2" y="154.8" width="10.2" height="13.4" fill="#c8102e"/>
<line x1="478.3" y1="154.8" x2="478.3" y2="152.3" stroke="#222" stroke-width="0.8"/>
<line x1="476.8" y1="152.3" x2="479.8" y2="152.3" stroke="#222" stroke-width="0.8"/>
<rect x="485.6" y="153.1" width="10.2" height="15.1" fill="#124f86"/>
<line x1="490.8" y1="153.1" x2="490.8" y2="152.5" stroke="#222" stroke-width="0.8"/>
<line x1="489.2" y1="152.5" x2="492.2" y2="152.5" stroke="#222" stroke-width="0.8"/>
<rect x="498.1" y="161.4" width="10.2" height="6.8" fill="#3cb54a"/>
<line x1="503.2" y1="161.4" x2="503.2" y2="160.0" stroke="#222" stroke-width="0.8"/>
<line x1="501.7" y1="160.0" x2="504.7" y2="160.0" stroke="#222" stroke-width="0.8"/>
<line x1="490.7" y1="168.7" x2="490.7" y2="172" stroke="#151515" stroke-width="1"/>
<text x="0" y="0" font-size="8" font-weight="bold" text-anchor="middle" fill="#333" transform="translate(398,180.7) scale(0.78,1)">I</text>
<text x="0" y="0" font-size="8" font-weight="bold" text-anchor="middle" fill="#333" transform="translate(444.5,180.7) scale(0.78,1)">II</text>
<text x="0" y="0" font-size="8" font-weight="bold" text-anchor="middle" fill="#333" transform="translate(490.7,180.7) scale(0.78,1)">III</text>
<text x="0" y="0" font-size="8.6" font-weight="bold" text-anchor="middle" fill="#222" transform="translate(445.5,193) scale(0.72,1)">Population #</text>
<text x="0" y="0" font-size="8.6" font-weight="bold" text-anchor="middle" fill="#222" transform="translate(357.2,98.9) rotate(-90) scale(0.72,1)">% Platelets</text>
<line x1="444" y1="105.6" x2="456.9" y2="105.6" stroke="#333" stroke-width="0.9"/>
<rect x="449.45" y="100.20" width="1.9" height="1.6" rx="0.5" fill="#1a1a1a"/>
<line x1="432.5" y1="114.8" x2="456.9" y2="114.8" stroke="#333" stroke-width="0.9"/>
<rect x="443.65" y="109.80" width="1.9" height="1.6" rx="0.5" fill="#1a1a1a"/>
<line x1="491.2" y1="137.7" x2="503" y2="137.7" stroke="#333" stroke-width="0.9"/>
<rect x="496.05" y="132.70" width="1.9" height="1.6" rx="0.5" fill="#1a1a1a"/>
<line x1="478.3" y1="147.3" x2="503" y2="147.3" stroke="#333" stroke-width="0.9"/>
<rect x="489.65" y="142.10" width="1.9" height="1.6" rx="0.5" fill="#1a1a1a"/>
<rect x="476.1" y="34.1" width="5" height="4.9" fill="#c8102e"/>
<text x="484.6" y="39.0" font-size="7.2" fill="#222">Unsorted</text>
<rect x="476.1" y="44.2" width="5" height="4.9" fill="#124f86"/>
<text x="484.6" y="49.1" font-size="7.2" fill="#222">Large</text>
<rect x="476.1" y="54.2" width="5" height="4.9" fill="#3cb54a"/>
<text x="484.6" y="59.1" font-size="7.2" fill="#222">Small</text>
<text x="7.6" y="236.6" font-size="10.5" font-weight="bold" fill="#000" stroke="#000" stroke-width="0.35">D</text>
<line x1="36.9" y1="242" x2="36.9" y2="336.8" stroke="#151515" stroke-width="1.2"/>
<line x1="34" y1="336.8" x2="128.3" y2="336.8" stroke="#151515" stroke-width="1.2"/>
<line x1="34" y1="336.8" x2="36.9" y2="336.8" stroke="#151515" stroke-width="1"/>
<text x="30.6" y="339.6" font-size="7.8" text-anchor="end" fill="#222">0</text>
<line x1="35.2" y1="329.4" x2="36.9" y2="329.4" stroke="#151515" stroke-width="0.9"/>
<line x1="35.2" y1="322.1" x2="36.9" y2="322.1" stroke="#151515" stroke-width="0.9"/>
<line x1="35.2" y1="314.7" x2="36.9" y2="314.7" stroke="#151515" stroke-width="0.9"/>
<line x1="34" y1="307.3" x2="36.9" y2="307.3" stroke="#151515" stroke-width="1"/>
<text x="30.6" y="310.1" font-size="7.8" text-anchor="end" fill="#222">10</text>
<line x1="35.2" y1="299.9" x2="36.9" y2="299.9" stroke="#151515" stroke-width="0.9"/>
<line x1="35.2" y1="292.6" x2="36.9" y2="292.6" stroke="#151515" stroke-width="0.9"/>
<line x1="35.2" y1="285.2" x2="36.9" y2="285.2" stroke="#151515" stroke-width="0.9"/>
<line x1="34" y1="277.8" x2="36.9" y2="277.8" stroke="#151515" stroke-width="1"/>
<text x="30.6" y="280.6" font-size="7.8" text-anchor="end" fill="#222">20</text>
<line x1="35.2" y1="270.4" x2="36.9" y2="270.4" stroke="#151515" stroke-width="0.9"/>
<line x1="35.2" y1="263.1" x2="36.9" y2="263.1" stroke="#151515" stroke-width="0.9"/>
<line x1="35.2" y1="255.7" x2="36.9" y2="255.7" stroke="#151515" stroke-width="0.9"/>
<line x1="34" y1="248.3" x2="36.9" y2="248.3" stroke="#151515" stroke-width="1"/>
<text x="30.6" y="251.1" font-size="7.8" text-anchor="end" fill="#222">30</text>
<line x1="59.9" y1="336.8" x2="59.9" y2="340" stroke="#151515" stroke-width="1"/>
<line x1="105.4" y1="336.8" x2="105.4" y2="340" stroke="#151515" stroke-width="1"/>
<text x="59.9" y="349.0" font-size="7.5" text-anchor="middle" fill="#222">Large</text>
<text x="105.8" y="349.0" font-size="7.5" text-anchor="middle" fill="#222">Small</text>
<line x1="60" y1="244.2" x2="107.2" y2="244.2" stroke="#333" stroke-width="1.0"/>
<line x1="60" y1="241.1" x2="60" y2="247.29999999999998" stroke="#222" stroke-width="0.9"/>
<line x1="107.2" y1="241.1" x2="107.2" y2="247.29999999999998" stroke="#222" stroke-width="0.9"/>
<rect x="82.65" y="239.30" width="1.9" height="1.6" rx="0.5" fill="#1a1a1a"/>
<text x="0" y="0" font-size="8.4" font-weight="bold" text-anchor="middle" fill="#222" transform="translate(16.5,288.9) rotate(-90) scale(0.7,1)">% RNA positive</text>
<rect x="58.3" y="254.4" width="3.0" height="3.0" fill="#0e4a86"/>
<rect x="58.3" y="262.8" width="3.0" height="3.0" fill="#0e4a86"/>
<rect x="56.9" y="281.5" width="3.0" height="3.0" fill="#0e4a86"/>
<rect x="60.1" y="280.8" width="3.0" height="3.0" fill="#0e4a86"/>
<rect x="58.5" y="287.4" width="3.0" height="3.0" fill="#0e4a86"/>
<rect x="54.9" y="289.6" width="3.0" height="3.0" fill="#0e4a86"/>
<rect x="58.2" y="291.8" width="3.0" height="3.0" fill="#0e4a86"/>
<rect x="61.8" y="292.9" width="3.0" height="3.0" fill="#0e4a86"/>
<rect x="58.4" y="321.0" width="3.0" height="3.0" fill="#0e4a86"/>
<path d="M102.1 286.4L104.0 283.2L105.9 286.4Z" fill="#2db44a"/>
<path d="M105.7 288.9L107.6 285.7L109.5 288.9Z" fill="#2db44a"/>
<path d="M103.7 292.8L105.6 289.6L107.5 292.8Z" fill="#2db44a"/>
<path d="M105.7 298.1L107.6 294.9L109.5 298.1Z" fill="#2db44a"/>
<path d="M102.1 300.9L104.0 297.7L105.9 300.9Z" fill="#2db44a"/>
<path d="M103.7 310.4L105.6 307.2L107.5 310.4Z" fill="#2db44a"/>
<path d="M103.7 314.6L105.6 311.4L107.5 314.6Z" fill="#2db44a"/>
<path d="M103.7 319.4L105.6 316.2L107.5 319.4Z" fill="#2db44a"/>
<path d="M103.7 324.7L105.6 321.5L107.5 324.7Z" fill="#2db44a"/>
<line x1="44.9" y1="286.2" x2="74.9" y2="286.2" stroke="#555" stroke-width="1.2"/>
<line x1="90.5" y1="302" x2="120.8" y2="302" stroke="#555" stroke-width="1.2"/>
<text x="148.2" y="236.6" font-size="10.5" font-weight="bold" fill="#000" stroke="#000" stroke-width="0.35">E</text>
<line x1="193.2" y1="242" x2="193.2" y2="336.4" stroke="#151515" stroke-width="1.2"/>
<line x1="190" y1="336.4" x2="326.1" y2="336.4" stroke="#151515" stroke-width="1.2"/>
<line x1="190" y1="336.2" x2="193.2" y2="336.2" stroke="#151515" stroke-width="1"/>
<text x="187" y="339.0" font-size="7.8" text-anchor="end" fill="#222">0</text>
<line x1="190" y1="318.6" x2="193.2" y2="318.6" stroke="#151515" stroke-width="1"/>
<text x="187" y="321.4" font-size="7.8" text-anchor="end" fill="#222">10000</text>
<line x1="190" y1="301.0" x2="193.2" y2="301.0" stroke="#151515" stroke-width="1"/>
<text x="187" y="303.8" font-size="7.8" text-anchor="end" fill="#222">20000</text>
<line x1="190" y1="283.4" x2="193.2" y2="283.4" stroke="#151515" stroke-width="1"/>
<text x="187" y="286.2" font-size="7.8" text-anchor="end" fill="#222">30000</text>
<line x1="190" y1="265.8" x2="193.2" y2="265.8" stroke="#151515" stroke-width="1"/>
<text x="187" y="268.6" font-size="7.8" text-anchor="end" fill="#222">40000</text>
<line x1="190" y1="248.2" x2="193.2" y2="248.2" stroke="#151515" stroke-width="1"/>
<text x="187" y="251.0" font-size="7.8" text-anchor="end" fill="#222">50000</text>
<line x1="213.7" y1="336.4" x2="213.7" y2="339.6" stroke="#151515" stroke-width="1"/>
<text x="213.7" y="349.2" font-size="7.4" text-anchor="middle" fill="#222">Large</text>
<text x="213.7" y="358.1" font-size="7.4" text-anchor="middle" fill="#222">RNA+</text>
<line x1="244.5" y1="336.4" x2="244.5" y2="339.6" stroke="#151515" stroke-width="1"/>
<text x="244.5" y="349.2" font-size="7.4" text-anchor="middle" fill="#222">Large</text>
<text x="244.5" y="358.1" font-size="7.4" text-anchor="middle" fill="#222">RNA−</text>
<line x1="275" y1="336.4" x2="275" y2="339.6" stroke="#151515" stroke-width="1"/>
<text x="275" y="349.2" font-size="7.4" text-anchor="middle" fill="#222">Small</text>
<text x="275" y="358.1" font-size="7.4" text-anchor="middle" fill="#222">RNA+</text>
<line x1="305.5" y1="336.4" x2="305.5" y2="339.6" stroke="#151515" stroke-width="1"/>
<text x="305.5" y="349.2" font-size="7.4" text-anchor="middle" fill="#222">Small</text>
<text x="305.5" y="358.1" font-size="7.4" text-anchor="middle" fill="#222">RNA−</text>
<line x1="213.2" y1="246.5" x2="244.7" y2="246.5" stroke="#333" stroke-width="1.0"/>
<line x1="213.2" y1="243.4" x2="213.2" y2="249.6" stroke="#222" stroke-width="0.9"/>
<line x1="244.7" y1="243.4" x2="244.7" y2="249.6" stroke="#222" stroke-width="0.9"/>
<line x1="275.1" y1="246.5" x2="305.7" y2="246.5" stroke="#333" stroke-width="1.0"/>
<line x1="275.1" y1="243.4" x2="275.1" y2="249.6" stroke="#222" stroke-width="0.9"/>
<line x1="305.7" y1="243.4" x2="305.7" y2="249.6" stroke="#222" stroke-width="0.9"/>
<rect x="224.80" y="241.20" width="1.9" height="1.6" rx="0.5" fill="#1a1a1a"/>
<rect x="227.85" y="241.20" width="1.9" height="1.6" rx="0.5" fill="#1a1a1a"/>
<rect x="230.90" y="241.20" width="1.9" height="1.6" rx="0.5" fill="#1a1a1a"/>
<rect x="287.93" y="241.40" width="1.9" height="1.6" rx="0.5" fill="#1a1a1a"/>
<rect x="290.97" y="241.40" width="1.9" height="1.6" rx="0.5" fill="#1a1a1a"/>
<text x="0" y="0" font-size="8.4" font-weight="bold" text-anchor="middle" fill="#222" transform="translate(156.1,289.4) rotate(-90) scale(0.68,1)">MFI HLA</text>
<rect x="212.2" y="266.4" width="3.0" height="3.0" fill="#4b0f63"/>
<rect x="208.8" y="272.3" width="3.0" height="3.0" fill="#4b0f63"/>
<rect x="215.9" y="275.6" width="3.0" height="3.0" fill="#4b0f63"/>
<rect x="205.5" y="294.3" width="3.0" height="3.0" fill="#4b0f63"/>
<rect x="212.2" y="294.3" width="3.0" height="3.0" fill="#4b0f63"/>
<rect x="218.9" y="298.5" width="3.0" height="3.0" fill="#4b0f63"/>
<rect x="243.0" y="301.5" width="3.0" height="3.0" fill="#9468b2"/>
<rect x="243.0" y="309.9" width="3.0" height="3.0" fill="#9468b2"/>
<rect x="237.8" y="316.9" width="3.0" height="3.0" fill="#9468b2"/>
<rect x="248.1" y="316.9" width="3.0" height="3.0" fill="#9468b2"/>
<rect x="237.8" y="325.4" width="3.0" height="3.0" fill="#9468b2"/>
<rect x="248.1" y="327.8" width="3.0" height="3.0" fill="#9468b2"/>
<path d="M273.2 274.8L275.1 271.6L277.0 274.8Z" fill="#f08a0c"/>
<path d="M268.0 288.6L269.9 285.4L271.8 288.6Z" fill="#f08a0c"/>
<path d="M278.0 293.0L279.9 289.8L281.8 293.0Z" fill="#f08a0c"/>
<path d="M273.1 300.3L275.0 297.1L276.9 300.3Z" fill="#f08a0c"/>
<path d="M273.1 313.8L275.0 310.6L276.9 313.8Z" fill="#f08a0c"/>
<path d="M273.1 320.6L275.0 317.4L276.9 320.6Z" fill="#f08a0c"/>
<path d="M303.9 310.4L305.8 307.2L307.7 310.4Z" fill="#f6ad55"/>
<path d="M303.9 317.1L305.8 313.9L307.7 317.1Z" fill="#f6ad55"/>
<path d="M298.7 319.4L300.6 316.2L302.5 319.4Z" fill="#f6ad55"/>
<path d="M308.9 323.6L310.8 320.4L312.7 323.6Z" fill="#f6ad55"/>
<path d="M298.7 333.4L300.6 330.2L302.5 333.4Z" fill="#f6ad55"/>
<path d="M308.9 338.5L310.8 335.3L312.7 338.5Z" fill="#f6ad55"/>
<line x1="203.6" y1="285.1" x2="224.1" y2="285.1" stroke="#3a3a3a" stroke-width="1.3"/>
<line x1="234.3" y1="318" x2="254.8" y2="318" stroke="#555" stroke-width="1.2"/>
<line x1="265.3" y1="296.3" x2="284.8" y2="296.3" stroke="#3a3a3a" stroke-width="1.3"/>
<line x1="295.6" y1="321.8" x2="315.9" y2="321.8" stroke="#555" stroke-width="1.2"/>
<text x="348.8" y="236.6" font-size="10.5" font-weight="bold" fill="#000" stroke="#000" stroke-width="0.35">F</text>
<line x1="381.3" y1="243.9" x2="381.3" y2="336.5" stroke="#151515" stroke-width="1.2"/>
<line x1="378" y1="336.5" x2="512.6" y2="336.5" stroke="#151515" stroke-width="1.2"/>
<line x1="378.2" y1="336.6" x2="381.3" y2="336.6" stroke="#151515" stroke-width="1"/>
<text x="375.9" y="339.4" font-size="7.8" text-anchor="end" fill="#222">0</text>
<line x1="378.2" y1="315.0" x2="381.3" y2="315.0" stroke="#151515" stroke-width="1"/>
<text x="375.9" y="317.8" font-size="7.8" text-anchor="end" fill="#222">100</text>
<line x1="378.2" y1="293.3" x2="381.3" y2="293.3" stroke="#151515" stroke-width="1"/>
<text x="375.9" y="296.1" font-size="7.8" text-anchor="end" fill="#222">200</text>
<line x1="378.2" y1="271.7" x2="381.3" y2="271.7" stroke="#151515" stroke-width="1"/>
<text x="375.9" y="274.5" font-size="7.8" text-anchor="end" fill="#222">300</text>
<line x1="378.2" y1="250.0" x2="381.3" y2="250.0" stroke="#151515" stroke-width="1"/>
<text x="375.9" y="252.8" font-size="7.8" text-anchor="end" fill="#222">400</text>
<line x1="402" y1="336.5" x2="402" y2="339.7" stroke="#151515" stroke-width="1"/>
<text x="402.3" y="349.2" font-size="7.4" text-anchor="middle" fill="#222">Large</text>
<text x="402.3" y="358.1" font-size="7.4" text-anchor="middle" fill="#222">RNA+</text>
<line x1="432" y1="336.5" x2="432" y2="339.7" stroke="#151515" stroke-width="1"/>
<text x="432.3" y="349.2" font-size="7.4" text-anchor="middle" fill="#222">Large</text>
<text x="432.3" y="358.1" font-size="7.4" text-anchor="middle" fill="#222">RNA−</text>
<line x1="462.1" y1="336.5" x2="462.1" y2="339.7" stroke="#151515" stroke-width="1"/>
<text x="462.40000000000003" y="349.2" font-size="7.4" text-anchor="middle" fill="#222">Small</text>
<text x="462.40000000000003" y="358.1" font-size="7.4" text-anchor="middle" fill="#222">RNA+</text>
<line x1="492.1" y1="336.5" x2="492.1" y2="339.7" stroke="#151515" stroke-width="1"/>
<text x="492.40000000000003" y="349.2" font-size="7.4" text-anchor="middle" fill="#222">Small</text>
<text x="492.40000000000003" y="358.1" font-size="7.4" text-anchor="middle" fill="#222">RNA−</text>
<line x1="401.6" y1="246.9" x2="433.2" y2="246.9" stroke="#5a5a5a" stroke-width="1.3"/>
<line x1="401.6" y1="243.8" x2="401.6" y2="250.0" stroke="#222" stroke-width="0.9"/>
<line x1="433.2" y1="243.8" x2="433.2" y2="250.0" stroke="#222" stroke-width="0.9"/>
<line x1="460.6" y1="247.1" x2="492.9" y2="247.1" stroke="#5a5a5a" stroke-width="1.3"/>
<line x1="460.6" y1="244.0" x2="460.6" y2="250.2" stroke="#222" stroke-width="0.9"/>
<line x1="492.9" y1="244.0" x2="492.9" y2="250.2" stroke="#222" stroke-width="0.9"/>
<rect x="416.15" y="241.80" width="1.9" height="1.6" rx="0.5" fill="#1a1a1a"/>
<rect x="474.03" y="241.95" width="1.9" height="1.6" rx="0.5" fill="#1a1a1a"/>
<rect x="477.07" y="241.95" width="1.9" height="1.6" rx="0.5" fill="#1a1a1a"/>
<text x="0" y="0" font-size="8.4" font-weight="bold" text-anchor="middle" fill="#222" transform="translate(355.9,290.2) rotate(-90) scale(0.7,1)">MFI GPVI</text>
<rect x="400.7" y="258.9" width="3.0" height="3.0" fill="#4b0f63"/>
<rect x="400.7" y="283.2" width="3.0" height="3.0" fill="#4b0f63"/>
<rect x="395.5" y="295.1" width="3.0" height="3.0" fill="#4b0f63"/>
<rect x="405.5" y="298.1" width="3.0" height="3.0" fill="#4b0f63"/>
<rect x="422.7" y="323.1" width="3.0" height="3.0" fill="#9468b2"/>
<rect x="428.0" y="324.0" width="3.0" height="3.0" fill="#9468b2"/>
<rect x="432.9" y="324.9" width="3.0" height="3.0" fill="#9468b2"/>
<rect x="438.1" y="326.2" width="3.0" height="3.0" fill="#9468b2"/>
<path d="M455.1 310.0L457.0 306.8L458.9 310.0Z" fill="#f08a0c"/>
<path d="M465.4 310.0L467.3 306.8L469.2 310.0Z" fill="#f08a0c"/>
<path d="M460.1 316.1L462.0 312.9L463.9 316.1Z" fill="#f08a0c"/>
<path d="M460.1 323.7L462.0 320.5L463.9 323.7Z" fill="#f08a0c"/>
<path d="M482.5 330.8L484.4 327.6L486.3 330.8Z" fill="#f6ad55"/>
<path d="M487.6 331.1L489.5 327.9L491.4 331.1Z" fill="#f6ad55"/>
<path d="M492.6 333.2L494.5 330.0L496.4 333.2Z" fill="#f6ad55"/>
<path d="M497.6 334.0L499.5 330.8L501.4 334.0Z" fill="#f6ad55"/>
<line x1="392.1" y1="290.8" x2="412.2" y2="290.8" stroke="#3a3a3a" stroke-width="1.3"/>
<line x1="423" y1="325.6" x2="441.8" y2="325.6" stroke="#555" stroke-width="1.2"/>
<line x1="452.3" y1="311.3" x2="472.2" y2="311.3" stroke="#3a3a3a" stroke-width="1.3"/>
<line x1="482" y1="330.2" x2="502.2" y2="330.2" stroke="#555" stroke-width="1.2"/>
<rect x="0.5" y="0.5" width="519" height="365" fill="none" stroke="#000" stroke-width="1.2"/>
</svg></body></html>
